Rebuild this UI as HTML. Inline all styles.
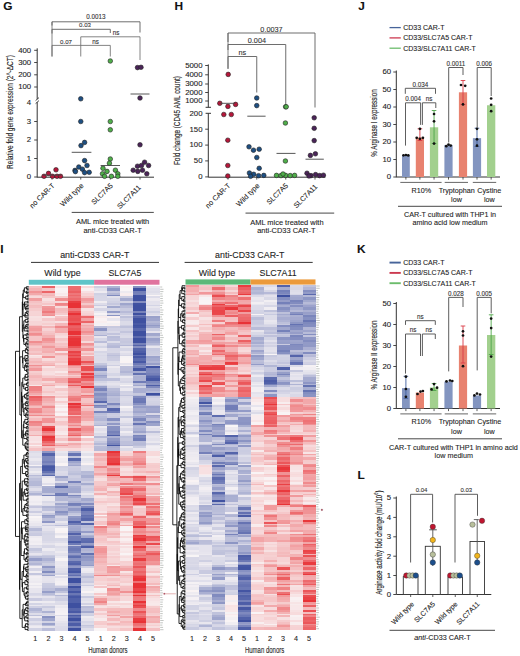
<!DOCTYPE html>
<html><head><meta charset="utf-8"><style>
html,body{margin:0;padding:0;background:#fff;}
body{width:520px;height:656px;overflow:hidden;}
svg{display:block;}
text{font-family:"Liberation Sans", sans-serif;stroke:#333;stroke-width:0.1px;paint-order:stroke;}
</style></head><body>
<svg width="520" height="656" viewBox="0 0 520 656">
<rect width="520" height="656" fill="#fff"/>
<text x="0" y="0" font-size="10.6" font-weight="bold" fill="#111" stroke="#111" stroke-width="0.25" transform="translate(3.3 9.6) scale(1.12 1)">G</text>
<text x="0" y="0" font-size="10.6" font-weight="bold" fill="#111" stroke="#111" stroke-width="0.25" transform="translate(174.4 9.5) scale(1.12 1)">H</text>
<text x="0" y="0" font-size="10.6" font-weight="bold" fill="#111" stroke="#111" stroke-width="0.25" transform="translate(358.2 9.5) scale(1.12 1)">J</text>
<text x="0" y="0" font-size="10.6" font-weight="bold" fill="#111" stroke="#111" stroke-width="0.25" transform="translate(0.2 252.7) scale(1.12 1)">I</text>
<text x="0" y="0" font-size="10.6" font-weight="bold" fill="#111" stroke="#111" stroke-width="0.25" transform="translate(357 252.7) scale(1.12 1)">K</text>
<text x="0" y="0" font-size="10.6" font-weight="bold" fill="#111" stroke="#111" stroke-width="0.25" transform="translate(357.6 478.6) scale(1.12 1)">L</text>
<line x1="37.2" y1="48.3" x2="37.2" y2="99.2" stroke="#333" stroke-width="1"/>
<line x1="37.2" y1="102.2" x2="37.2" y2="177.5" stroke="#333" stroke-width="1"/>
<line x1="35.6" y1="100.6" x2="39" y2="97.6" stroke="#333" stroke-width="0.9"/>
<line x1="35.6" y1="103.6" x2="39" y2="100.6" stroke="#333" stroke-width="0.9"/>
<line x1="34.2" y1="50.3" x2="37.2" y2="50.3" stroke="#333" stroke-width="0.9"/>
<text x="0" y="0" font-size="6.4" text-anchor="end" font-weight="normal" fill="#222" transform="translate(31.2 52.6) scale(1.22 1)">400</text>
<line x1="34.2" y1="62.5" x2="37.2" y2="62.5" stroke="#333" stroke-width="0.9"/>
<text x="0" y="0" font-size="6.4" text-anchor="end" font-weight="normal" fill="#222" transform="translate(31.2 64.8) scale(1.22 1)">300</text>
<line x1="34.2" y1="74.8" x2="37.2" y2="74.8" stroke="#333" stroke-width="0.9"/>
<text x="0" y="0" font-size="6.4" text-anchor="end" font-weight="normal" fill="#222" transform="translate(31.2 77.1) scale(1.22 1)">200</text>
<line x1="34.2" y1="87" x2="37.2" y2="87" stroke="#333" stroke-width="0.9"/>
<text x="0" y="0" font-size="6.4" text-anchor="end" font-weight="normal" fill="#222" transform="translate(31.2 89.3) scale(1.22 1)">100</text>
<line x1="34.2" y1="121.5" x2="37.2" y2="121.5" stroke="#333" stroke-width="0.9"/>
<text x="0" y="0" font-size="6.4" text-anchor="end" font-weight="normal" fill="#222" transform="translate(31.2 123.8) scale(1.22 1)">3</text>
<line x1="34.2" y1="140" x2="37.2" y2="140" stroke="#333" stroke-width="0.9"/>
<text x="0" y="0" font-size="6.4" text-anchor="end" font-weight="normal" fill="#222" transform="translate(31.2 142.3) scale(1.22 1)">2</text>
<line x1="34.2" y1="158.5" x2="37.2" y2="158.5" stroke="#333" stroke-width="0.9"/>
<text x="0" y="0" font-size="6.4" text-anchor="end" font-weight="normal" fill="#222" transform="translate(31.2 160.8) scale(1.22 1)">1</text>
<line x1="34.2" y1="177" x2="37.2" y2="177" stroke="#333" stroke-width="0.9"/>
<text x="0" y="0" font-size="6.4" text-anchor="end" font-weight="normal" fill="#222" transform="translate(31.2 179.3) scale(1.22 1)">0</text>
<text x="0" y="0" font-size="6.4" text-anchor="end" font-weight="normal" fill="#222" transform="translate(31.2 105.1) scale(1.22 1)">4</text>
<line x1="37.2" y1="177.2" x2="154" y2="177.2" stroke="#333" stroke-width="1"/>
<line x1="52" y1="177.2" x2="52" y2="179.6" stroke="#333" stroke-width="0.8"/>
<line x1="80.75" y1="177.2" x2="80.75" y2="179.6" stroke="#333" stroke-width="0.8"/>
<line x1="110.3" y1="177.2" x2="110.3" y2="179.6" stroke="#333" stroke-width="0.8"/>
<line x1="140" y1="177.2" x2="140" y2="179.6" stroke="#333" stroke-width="0.8"/>
<text x="0" y="0" font-size="6.55" text-anchor="middle" fill="#222" transform="translate(13.1 112) rotate(-90) scale(1 1.4)">Relative fold gene expression (2^-ΔCT)</text>
<polyline points="52,25.5 52,21.8 140,21.8 140,32.5" fill="none" stroke="#666" stroke-width="0.95"/>
<text x="96" y="19.47" font-size="6.3" text-anchor="middle" font-weight="normal" fill="#333">0.0013</text>
<polyline points="52,33.5 52,29.3 110.3,29.3 110.3,33" fill="none" stroke="#666" stroke-width="0.95"/>
<text x="85" y="27.4" font-size="6.1" text-anchor="middle" font-weight="normal" fill="#333">0.03</text>
<polyline points="80.75,45.4 80.75,36.8 140,36.8 140,60" fill="none" stroke="#666" stroke-width="0.8"/>
<text x="116" y="35.47" font-size="6.3" text-anchor="middle" font-weight="normal" fill="#333">ns</text>
<polyline points="52,56.5 52,45.4 110.3,45.4 110.3,56.5" fill="none" stroke="#666" stroke-width="0.8"/>
<line x1="80.75" y1="45.4" x2="80.75" y2="56.5" stroke="#666" stroke-width="0.8"/>
<text x="66" y="43.8" font-size="6.1" text-anchor="middle" font-weight="normal" fill="#333">0.07</text>
<text x="95.5" y="43.87" font-size="6.3" text-anchor="middle" font-weight="normal" fill="#333">ns</text>
<line x1="52" y1="21.8" x2="52" y2="56.5" stroke="#666" stroke-width="0.8"/>
<circle cx="44" cy="176.3" r="2.3" fill="#b5173a" stroke="#222" stroke-width="0.6"/>
<circle cx="48.5" cy="173.4" r="2.3" fill="#b5173a" stroke="#222" stroke-width="0.6"/>
<circle cx="52.5" cy="176.3" r="2.3" fill="#b5173a" stroke="#222" stroke-width="0.6"/>
<circle cx="56" cy="169.8" r="2.3" fill="#b5173a" stroke="#222" stroke-width="0.6"/>
<circle cx="57" cy="176.3" r="2.3" fill="#b5173a" stroke="#222" stroke-width="0.6"/>
<circle cx="60.5" cy="176.3" r="2.3" fill="#b5173a" stroke="#222" stroke-width="0.6"/>
<circle cx="80.75" cy="98.8" r="2.3" fill="#1e4f82" stroke="#222" stroke-width="0.6"/>
<circle cx="80.75" cy="121.5" r="2.3" fill="#1e4f82" stroke="#222" stroke-width="0.6"/>
<circle cx="84.6" cy="142.4" r="2.3" fill="#1e4f82" stroke="#222" stroke-width="0.6"/>
<circle cx="81" cy="145.6" r="2.3" fill="#1e4f82" stroke="#222" stroke-width="0.6"/>
<circle cx="84.6" cy="160.6" r="2.3" fill="#1e4f82" stroke="#222" stroke-width="0.6"/>
<circle cx="75" cy="170.4" r="2.3" fill="#1e4f82" stroke="#222" stroke-width="0.6"/>
<circle cx="78.8" cy="167" r="2.3" fill="#1e4f82" stroke="#222" stroke-width="0.6"/>
<circle cx="82.4" cy="169.2" r="2.3" fill="#1e4f82" stroke="#222" stroke-width="0.6"/>
<circle cx="87" cy="165.5" r="2.3" fill="#1e4f82" stroke="#222" stroke-width="0.6"/>
<circle cx="89.2" cy="172.3" r="2.3" fill="#1e4f82" stroke="#222" stroke-width="0.6"/>
<circle cx="84.6" cy="172.6" r="2.3" fill="#1e4f82" stroke="#222" stroke-width="0.6"/>
<circle cx="75.4" cy="171.6" r="2.3" fill="#1e4f82" stroke="#222" stroke-width="0.6"/>
<circle cx="110.3" cy="61" r="2.3" fill="#4fae4a" stroke="#222" stroke-width="0.6"/>
<circle cx="110.3" cy="121.5" r="2.3" fill="#4fae4a" stroke="#222" stroke-width="0.6"/>
<circle cx="110.3" cy="129.8" r="2.3" fill="#4fae4a" stroke="#222" stroke-width="0.6"/>
<circle cx="110.3" cy="159" r="2.3" fill="#4fae4a" stroke="#222" stroke-width="0.6"/>
<circle cx="109.4" cy="163.2" r="2.3" fill="#4fae4a" stroke="#222" stroke-width="0.6"/>
<circle cx="103" cy="168.3" r="2.3" fill="#4fae4a" stroke="#222" stroke-width="0.6"/>
<circle cx="107" cy="171.4" r="2.3" fill="#4fae4a" stroke="#222" stroke-width="0.6"/>
<circle cx="102.5" cy="173.8" r="2.3" fill="#4fae4a" stroke="#222" stroke-width="0.6"/>
<circle cx="115.4" cy="170.2" r="2.3" fill="#4fae4a" stroke="#222" stroke-width="0.6"/>
<circle cx="117.8" cy="173.8" r="2.3" fill="#4fae4a" stroke="#222" stroke-width="0.6"/>
<circle cx="104.6" cy="176.3" r="2.3" fill="#4fae4a" stroke="#222" stroke-width="0.6"/>
<circle cx="111.4" cy="176.3" r="2.3" fill="#4fae4a" stroke="#222" stroke-width="0.6"/>
<circle cx="117.8" cy="176.3" r="2.3" fill="#4fae4a" stroke="#222" stroke-width="0.6"/>
<circle cx="137.5" cy="67.6" r="2.3" fill="#4a2458" stroke="#222" stroke-width="0.6"/>
<circle cx="141" cy="67.3" r="2.3" fill="#4a2458" stroke="#222" stroke-width="0.6"/>
<circle cx="140" cy="98" r="2.3" fill="#4a2458" stroke="#222" stroke-width="0.6"/>
<circle cx="140" cy="144.8" r="2.3" fill="#4a2458" stroke="#222" stroke-width="0.6"/>
<circle cx="133.2" cy="170.2" r="2.3" fill="#4a2458" stroke="#222" stroke-width="0.6"/>
<circle cx="137.5" cy="166.2" r="2.3" fill="#4a2458" stroke="#222" stroke-width="0.6"/>
<circle cx="141.5" cy="165.5" r="2.3" fill="#4a2458" stroke="#222" stroke-width="0.6"/>
<circle cx="144.6" cy="162.2" r="2.3" fill="#4a2458" stroke="#222" stroke-width="0.6"/>
<circle cx="148.6" cy="165.5" r="2.3" fill="#4a2458" stroke="#222" stroke-width="0.6"/>
<circle cx="142.5" cy="170.2" r="2.3" fill="#4a2458" stroke="#222" stroke-width="0.6"/>
<circle cx="146.8" cy="173.8" r="2.3" fill="#4a2458" stroke="#222" stroke-width="0.6"/>
<circle cx="137.8" cy="171.4" r="2.3" fill="#4a2458" stroke="#222" stroke-width="0.6"/>
<line x1="71.7" y1="152.3" x2="91.4" y2="152.3" stroke="#444" stroke-width="0.9"/>
<line x1="100.6" y1="165.5" x2="120" y2="165.5" stroke="#444" stroke-width="0.9"/>
<line x1="130.5" y1="94" x2="149.5" y2="94" stroke="#444" stroke-width="0.9"/>
<line x1="43" y1="175.2" x2="61.5" y2="175.2" stroke="#444" stroke-width="0.9"/>
<text x="0" y="0" font-size="7.2" text-anchor="end" font-weight="normal" fill="#222" transform="translate(55 186.09) rotate(-45)">no CAR-T</text>
<text x="0" y="0" font-size="7.2" text-anchor="end" font-weight="normal" fill="#222" transform="translate(84 186.09) rotate(-45)">Wild type</text>
<text x="0" y="0" font-size="7.2" text-anchor="end" font-weight="normal" fill="#222" transform="translate(113.3 186.09) rotate(-45)">SLC7A5</text>
<text x="0" y="0" font-size="7.2" text-anchor="end" font-weight="normal" fill="#222" transform="translate(141.3 187.89) rotate(-45)">SLC7A11</text>
<line x1="71.7" y1="212.4" x2="153.8" y2="212.4" stroke="#333" stroke-width="0.9"/>
<text x="112.6" y="223.78" font-size="7.45" text-anchor="middle" font-weight="normal" fill="#222">AML mice treated with</text>
<text x="112.6" y="232.88" font-size="7.45" text-anchor="middle" font-weight="normal" fill="#222">anti-CD33 CAR-T</text>
<line x1="208.3" y1="64.4" x2="208.3" y2="107.3" stroke="#333" stroke-width="1"/>
<line x1="205.6" y1="107.3" x2="211" y2="107.3" stroke="#333" stroke-width="1"/>
<line x1="208.3" y1="113.3" x2="208.3" y2="177.3" stroke="#333" stroke-width="1"/>
<line x1="205.6" y1="113.3" x2="211" y2="113.3" stroke="#333" stroke-width="1"/>
<line x1="205.2" y1="65.5" x2="208.3" y2="65.5" stroke="#333" stroke-width="0.9"/>
<text x="0" y="0" font-size="6.4" text-anchor="end" font-weight="normal" fill="#222" transform="translate(202.5 67.8) scale(1.22 1)">5000</text>
<line x1="205.2" y1="74.8" x2="208.3" y2="74.8" stroke="#333" stroke-width="0.9"/>
<text x="0" y="0" font-size="6.4" text-anchor="end" font-weight="normal" fill="#222" transform="translate(202.5 77.1) scale(1.22 1)">4000</text>
<line x1="205.2" y1="84" x2="208.3" y2="84" stroke="#333" stroke-width="0.9"/>
<text x="0" y="0" font-size="6.4" text-anchor="end" font-weight="normal" fill="#222" transform="translate(202.5 86.3) scale(1.22 1)">3000</text>
<line x1="205.2" y1="92.5" x2="208.3" y2="92.5" stroke="#333" stroke-width="0.9"/>
<text x="0" y="0" font-size="6.4" text-anchor="end" font-weight="normal" fill="#222" transform="translate(202.5 94.8) scale(1.22 1)">2000</text>
<line x1="205.2" y1="101" x2="208.3" y2="101" stroke="#333" stroke-width="0.9"/>
<text x="0" y="0" font-size="6.4" text-anchor="end" font-weight="normal" fill="#222" transform="translate(202.5 103.3) scale(1.22 1)">1000</text>
<line x1="205.2" y1="129.2" x2="208.3" y2="129.2" stroke="#333" stroke-width="0.9"/>
<text x="0" y="0" font-size="6.4" text-anchor="end" font-weight="normal" fill="#222" transform="translate(202.5 131.5) scale(1.22 1)">150</text>
<line x1="205.2" y1="145.1" x2="208.3" y2="145.1" stroke="#333" stroke-width="0.9"/>
<text x="0" y="0" font-size="6.4" text-anchor="end" font-weight="normal" fill="#222" transform="translate(202.5 147.4) scale(1.22 1)">100</text>
<line x1="205.2" y1="160.9" x2="208.3" y2="160.9" stroke="#333" stroke-width="0.9"/>
<text x="0" y="0" font-size="6.4" text-anchor="end" font-weight="normal" fill="#222" transform="translate(202.5 163.2) scale(1.22 1)">50</text>
<line x1="205.2" y1="176.9" x2="208.3" y2="176.9" stroke="#333" stroke-width="0.9"/>
<text x="0" y="0" font-size="6.4" text-anchor="end" font-weight="normal" fill="#222" transform="translate(202.5 179.2) scale(1.22 1)">0</text>
<text x="0" y="0" font-size="6.4" text-anchor="end" font-weight="normal" fill="#222" transform="translate(202.5 116) scale(1.22 1)">200</text>
<line x1="208.3" y1="177.2" x2="325.4" y2="177.2" stroke="#333" stroke-width="1"/>
<line x1="228" y1="177.2" x2="228" y2="179.6" stroke="#333" stroke-width="0.8"/>
<line x1="256.75" y1="177.2" x2="256.75" y2="179.6" stroke="#333" stroke-width="0.8"/>
<line x1="285.75" y1="177.2" x2="285.75" y2="179.6" stroke="#333" stroke-width="0.8"/>
<line x1="315" y1="177.2" x2="315" y2="179.6" stroke="#333" stroke-width="0.8"/>
<text x="0" y="0" font-size="6.37" text-anchor="middle" fill="#222" transform="translate(180.2 120.6) rotate(-90) scale(1 1.42)">Fold change (CD45 AML count)</text>
<polyline points="228,42 228,33 315,33 315,107.5" fill="none" stroke="#666" stroke-width="0.95"/>
<text x="271.5" y="31.63" font-size="7.3" text-anchor="middle" font-weight="normal" fill="#333">0.0037</text>
<polyline points="228,50 228,44.5 285.75,44.5 285.75,105" fill="none" stroke="#666" stroke-width="0.95"/>
<text x="256.88" y="43.43" font-size="7.3" text-anchor="middle" font-weight="normal" fill="#333">0.004</text>
<polyline points="228,68.8 228,56.5 256.75,56.5 256.75,92.5" fill="none" stroke="#666" stroke-width="0.95"/>
<text x="242.38" y="55.43" font-size="7.3" text-anchor="middle" font-weight="normal" fill="#333">ns</text>
<line x1="228" y1="33" x2="228" y2="68.8" stroke="#666" stroke-width="0.8"/>
<circle cx="228.2" cy="74.4" r="2.3" fill="#b5173a" stroke="#222" stroke-width="0.6"/>
<circle cx="219.8" cy="103.3" r="2.3" fill="#b5173a" stroke="#222" stroke-width="0.6"/>
<circle cx="227.9" cy="106.4" r="2.3" fill="#b5173a" stroke="#222" stroke-width="0.6"/>
<circle cx="235.6" cy="104.4" r="2.3" fill="#b5173a" stroke="#222" stroke-width="0.6"/>
<circle cx="223.8" cy="114.5" r="2.3" fill="#b5173a" stroke="#222" stroke-width="0.6"/>
<circle cx="231.3" cy="114.5" r="2.3" fill="#b5173a" stroke="#222" stroke-width="0.6"/>
<circle cx="227.8" cy="140.2" r="2.3" fill="#b5173a" stroke="#222" stroke-width="0.6"/>
<circle cx="227.8" cy="165.5" r="2.3" fill="#b5173a" stroke="#222" stroke-width="0.6"/>
<circle cx="227.8" cy="176" r="2.3" fill="#b5173a" stroke="#222" stroke-width="0.6"/>
<circle cx="256.75" cy="98" r="2.3" fill="#1e4f82" stroke="#222" stroke-width="0.6"/>
<circle cx="256.75" cy="105.6" r="2.3" fill="#1e4f82" stroke="#222" stroke-width="0.6"/>
<circle cx="249" cy="146.8" r="2.3" fill="#1e4f82" stroke="#222" stroke-width="0.6"/>
<circle cx="253.5" cy="150.2" r="2.3" fill="#1e4f82" stroke="#222" stroke-width="0.6"/>
<circle cx="259.2" cy="149.2" r="2.3" fill="#1e4f82" stroke="#222" stroke-width="0.6"/>
<circle cx="256.8" cy="157.5" r="2.3" fill="#1e4f82" stroke="#222" stroke-width="0.6"/>
<circle cx="259.2" cy="168.3" r="2.3" fill="#1e4f82" stroke="#222" stroke-width="0.6"/>
<circle cx="249.4" cy="173" r="2.3" fill="#1e4f82" stroke="#222" stroke-width="0.6"/>
<circle cx="253.7" cy="174.3" r="2.3" fill="#1e4f82" stroke="#222" stroke-width="0.6"/>
<circle cx="258.6" cy="175.7" r="2.3" fill="#1e4f82" stroke="#222" stroke-width="0.6"/>
<circle cx="263.8" cy="175.4" r="2.3" fill="#1e4f82" stroke="#222" stroke-width="0.6"/>
<circle cx="250.6" cy="176.3" r="2.3" fill="#1e4f82" stroke="#222" stroke-width="0.6"/>
<circle cx="285.6" cy="106.8" r="2.3" fill="#4fae4a" stroke="#222" stroke-width="0.6"/>
<circle cx="286.2" cy="106.8" r="2.3" fill="#4fae4a" stroke="#222" stroke-width="0.6"/>
<circle cx="285.4" cy="123" r="2.3" fill="#4fae4a" stroke="#222" stroke-width="0.6"/>
<circle cx="285.4" cy="161" r="2.3" fill="#4fae4a" stroke="#222" stroke-width="0.6"/>
<circle cx="276.5" cy="175.4" r="2.3" fill="#4fae4a" stroke="#222" stroke-width="0.6"/>
<circle cx="281" cy="175.6" r="2.3" fill="#4fae4a" stroke="#222" stroke-width="0.6"/>
<circle cx="285.6" cy="175.4" r="2.3" fill="#4fae4a" stroke="#222" stroke-width="0.6"/>
<circle cx="290.2" cy="175.6" r="2.3" fill="#4fae4a" stroke="#222" stroke-width="0.6"/>
<circle cx="294.6" cy="175.4" r="2.3" fill="#4fae4a" stroke="#222" stroke-width="0.6"/>
<circle cx="283" cy="174" r="2.3" fill="#4fae4a" stroke="#222" stroke-width="0.6"/>
<circle cx="314.2" cy="117.8" r="2.3" fill="#4a2458" stroke="#222" stroke-width="0.6"/>
<circle cx="314.2" cy="128.3" r="2.3" fill="#4a2458" stroke="#222" stroke-width="0.6"/>
<circle cx="314.2" cy="140.6" r="2.3" fill="#4a2458" stroke="#222" stroke-width="0.6"/>
<circle cx="315.4" cy="153.8" r="2.3" fill="#4a2458" stroke="#222" stroke-width="0.6"/>
<circle cx="310.4" cy="155.4" r="2.3" fill="#4a2458" stroke="#222" stroke-width="0.6"/>
<circle cx="307" cy="173.2" r="2.3" fill="#4a2458" stroke="#222" stroke-width="0.6"/>
<circle cx="311" cy="175.6" r="2.3" fill="#4a2458" stroke="#222" stroke-width="0.6"/>
<circle cx="315.6" cy="174.6" r="2.3" fill="#4a2458" stroke="#222" stroke-width="0.6"/>
<circle cx="319.6" cy="175.6" r="2.3" fill="#4a2458" stroke="#222" stroke-width="0.6"/>
<circle cx="323.4" cy="175.2" r="2.3" fill="#4a2458" stroke="#222" stroke-width="0.6"/>
<circle cx="309" cy="176" r="2.3" fill="#4a2458" stroke="#222" stroke-width="0.6"/>
<line x1="219.8" y1="103.3" x2="235.4" y2="103.3" stroke="#444" stroke-width="0.9"/>
<line x1="247.3" y1="116.2" x2="265.6" y2="116.2" stroke="#444" stroke-width="0.9"/>
<line x1="276.5" y1="153.4" x2="295.5" y2="153.4" stroke="#444" stroke-width="0.9"/>
<line x1="305.5" y1="159.2" x2="323.8" y2="159.2" stroke="#444" stroke-width="0.9"/>
<text x="0" y="0" font-size="7.2" text-anchor="end" font-weight="normal" fill="#222" transform="translate(230.8 186.09) rotate(-45)">no CAR-T</text>
<text x="0" y="0" font-size="7.2" text-anchor="end" font-weight="normal" fill="#222" transform="translate(260 186.09) rotate(-45)">Wild type</text>
<text x="0" y="0" font-size="7.2" text-anchor="end" font-weight="normal" fill="#222" transform="translate(288.5 186.09) rotate(-45)">SLC7A5</text>
<text x="0" y="0" font-size="7.2" text-anchor="end" font-weight="normal" fill="#222" transform="translate(317.8 187.19) rotate(-45)">SLC7A11</text>
<line x1="245.5" y1="213.1" x2="334.2" y2="213.1" stroke="#333" stroke-width="0.9"/>
<text x="286.9" y="224.88" font-size="7.45" text-anchor="middle" font-weight="normal" fill="#222">AML mice treated with</text>
<text x="286.3" y="233.48" font-size="7.45" text-anchor="middle" font-weight="normal" fill="#222">anti-CD33 CAR-T</text>
<line x1="389.5" y1="27.6" x2="400.8" y2="27.6" stroke="#47649a" stroke-width="1.3"/>
<text x="403.2" y="30.12" font-size="7" text-anchor="start" font-weight="normal" fill="#222">CD33 CAR-T</text>
<line x1="389.5" y1="37.9" x2="400.8" y2="37.9" stroke="#cc3a50" stroke-width="1.3"/>
<text x="403.2" y="40.42" font-size="7" text-anchor="start" font-weight="normal" fill="#222">CD33/SLC7A5 CAR-T</text>
<line x1="389.5" y1="48.2" x2="400.8" y2="48.2" stroke="#6cbc6c" stroke-width="1.3"/>
<text x="403.2" y="50.72" font-size="7" text-anchor="start" font-weight="normal" fill="#222">CD33/SLC7A11 CAR-T</text>
<line x1="396.3" y1="70.5" x2="396.3" y2="177.3" stroke="#333" stroke-width="1"/>
<line x1="393.3" y1="177" x2="396.3" y2="177" stroke="#333" stroke-width="0.9"/>
<text x="0" y="0" font-size="6.4" text-anchor="end" font-weight="normal" fill="#222" transform="translate(391.2 179.3) scale(1.22 1)">0</text>
<line x1="393.3" y1="159.5" x2="396.3" y2="159.5" stroke="#333" stroke-width="0.9"/>
<text x="0" y="0" font-size="6.4" text-anchor="end" font-weight="normal" fill="#222" transform="translate(391.2 161.8) scale(1.22 1)">10</text>
<line x1="393.3" y1="142" x2="396.3" y2="142" stroke="#333" stroke-width="0.9"/>
<text x="0" y="0" font-size="6.4" text-anchor="end" font-weight="normal" fill="#222" transform="translate(391.2 144.3) scale(1.22 1)">20</text>
<line x1="393.3" y1="124.5" x2="396.3" y2="124.5" stroke="#333" stroke-width="0.9"/>
<text x="0" y="0" font-size="6.4" text-anchor="end" font-weight="normal" fill="#222" transform="translate(391.2 126.8) scale(1.22 1)">30</text>
<line x1="393.3" y1="107" x2="396.3" y2="107" stroke="#333" stroke-width="0.9"/>
<text x="0" y="0" font-size="6.4" text-anchor="end" font-weight="normal" fill="#222" transform="translate(391.2 109.3) scale(1.22 1)">40</text>
<line x1="393.3" y1="89.5" x2="396.3" y2="89.5" stroke="#333" stroke-width="0.9"/>
<text x="0" y="0" font-size="6.4" text-anchor="end" font-weight="normal" fill="#222" transform="translate(391.2 91.8) scale(1.22 1)">50</text>
<line x1="393.3" y1="72" x2="396.3" y2="72" stroke="#333" stroke-width="0.9"/>
<text x="0" y="0" font-size="6.4" text-anchor="end" font-weight="normal" fill="#222" transform="translate(391.2 74.3) scale(1.22 1)">60</text>
<line x1="396.3" y1="177" x2="500" y2="177" stroke="#333" stroke-width="1"/>
<line x1="405.9" y1="177" x2="405.9" y2="179.6" stroke="#333" stroke-width="0.8"/>
<line x1="419.9" y1="177" x2="419.9" y2="179.6" stroke="#333" stroke-width="0.8"/>
<line x1="434.05" y1="177" x2="434.05" y2="179.6" stroke="#333" stroke-width="0.8"/>
<line x1="448.5" y1="177" x2="448.5" y2="179.6" stroke="#333" stroke-width="0.8"/>
<line x1="463" y1="177" x2="463" y2="179.6" stroke="#333" stroke-width="0.8"/>
<line x1="477" y1="177" x2="477" y2="179.6" stroke="#333" stroke-width="0.8"/>
<line x1="491.15" y1="177" x2="491.15" y2="179.6" stroke="#333" stroke-width="0.8"/>
<rect x="402" y="155.12" width="7.8" height="21.88" fill="#8395c0"/>
<circle cx="403.5" cy="155.3" r="1.35" fill="#111"/>
<circle cx="405.9" cy="155" r="1.35" fill="#111"/>
<circle cx="408.3" cy="155.4" r="1.35" fill="#111"/>
<rect x="415.8" y="137.62" width="8.2" height="39.38" fill="#e8826f"/>
<line x1="419.9" y1="128.8" x2="419.9" y2="140.5" stroke="#d93a45" stroke-width="0.9"/>
<line x1="417.6" y1="128.8" x2="422.2" y2="128.8" stroke="#d93a45" stroke-width="0.9"/>
<line x1="417.6" y1="140.5" x2="422.2" y2="140.5" stroke="#d93a45" stroke-width="0.9"/>
<circle cx="419.9" cy="128.8" r="1.35" fill="#111"/>
<circle cx="416.7" cy="137.8" r="1.35" fill="#111"/>
<circle cx="419.9" cy="138.8" r="1.35" fill="#111"/>
<circle cx="422.9" cy="137.8" r="1.35" fill="#111"/>
<rect x="429.9" y="127.3" width="8.3" height="49.7" fill="#a2d08e"/>
<line x1="434.05" y1="110.5" x2="434.05" y2="143.5" stroke="#4ea64a" stroke-width="0.9"/>
<line x1="431.75" y1="110.5" x2="436.35" y2="110.5" stroke="#4ea64a" stroke-width="0.9"/>
<line x1="431.75" y1="143.5" x2="436.35" y2="143.5" stroke="#4ea64a" stroke-width="0.9"/>
<circle cx="434.05" cy="114" r="1.35" fill="#111"/>
<circle cx="434.05" cy="121.3" r="1.35" fill="#111"/>
<circle cx="434.05" cy="143.6" r="1.35" fill="#111"/>
<rect x="444.4" y="144.97" width="8.2" height="32.03" fill="#8395c0"/>
<circle cx="446.3" cy="146.2" r="1.35" fill="#111"/>
<circle cx="448.5" cy="144.6" r="1.35" fill="#111"/>
<circle cx="450.7" cy="145.6" r="1.35" fill="#111"/>
<rect x="458.9" y="92.3" width="8.2" height="84.7" fill="#e8826f"/>
<line x1="463" y1="80.5" x2="463" y2="104.5" stroke="#d93a45" stroke-width="0.9"/>
<line x1="460.7" y1="80.5" x2="465.3" y2="80.5" stroke="#d93a45" stroke-width="0.9"/>
<line x1="460.7" y1="104.5" x2="465.3" y2="104.5" stroke="#d93a45" stroke-width="0.9"/>
<circle cx="461" cy="85" r="1.35" fill="#111"/>
<circle cx="465.2" cy="85.8" r="1.35" fill="#111"/>
<circle cx="463" cy="104.4" r="1.35" fill="#111"/>
<rect x="472.9" y="138.15" width="8.2" height="38.85" fill="#8395c0"/>
<line x1="477" y1="128.2" x2="477" y2="146.5" stroke="#3f5f9e" stroke-width="0.9"/>
<line x1="474.7" y1="128.2" x2="479.3" y2="128.2" stroke="#3f5f9e" stroke-width="0.9"/>
<line x1="474.7" y1="146.5" x2="479.3" y2="146.5" stroke="#3f5f9e" stroke-width="0.9"/>
<circle cx="477" cy="128.8" r="1.35" fill="#111"/>
<circle cx="477" cy="139.3" r="1.35" fill="#111"/>
<circle cx="477" cy="145.7" r="1.35" fill="#111"/>
<rect x="487" y="105.25" width="8.3" height="71.75" fill="#a2d08e"/>
<circle cx="491.15" cy="98.5" r="1.35" fill="#111"/>
<circle cx="491.15" cy="104.8" r="1.35" fill="#111"/>
<circle cx="491.15" cy="111.2" r="1.35" fill="#111"/>
<line x1="400.3" y1="182.4" x2="441.6" y2="182.4" stroke="#666" stroke-width="1"/>
<line x1="444.7" y1="182.4" x2="468" y2="182.4" stroke="#666" stroke-width="1"/>
<line x1="472.8" y1="182.4" x2="496.2" y2="182.4" stroke="#666" stroke-width="1"/>
<polyline points="405.3,93.8 405.3,88.3 435.5,88.3 435.5,93.8" fill="none" stroke="#555" stroke-width="0.95"/>
<text x="420.4" y="86.77" font-size="6.3" text-anchor="middle" font-weight="normal" fill="#333">0.034</text>
<polyline points="405.5,145.6 405.5,102.8 420.6,102.8 420.6,124.9" fill="none" stroke="#555" stroke-width="0.95"/>
<text x="413.05" y="101.27" font-size="6.3" text-anchor="middle" font-weight="normal" fill="#333">0.004</text>
<polyline points="422.4,124.9 422.4,102.8 435.8,102.8 435.8,108" fill="none" stroke="#555" stroke-width="0.95"/>
<text x="429.1" y="101.27" font-size="6.3" text-anchor="middle" font-weight="normal" fill="#333">ns</text>
<polyline points="448.7,142.5 448.7,67.5 463,67.5 463,75" fill="none" stroke="#555" stroke-width="0.95"/>
<text x="455.85" y="65.97" font-size="6.3" text-anchor="middle" font-weight="normal" fill="#333">0.0011</text>
<polyline points="477.2,127.5 477.2,67.5 491.2,67.5 491.2,96" fill="none" stroke="#555" stroke-width="0.95"/>
<text x="484.2" y="65.97" font-size="6.3" text-anchor="middle" font-weight="normal" fill="#333">0.006</text>
<text x="0" y="0" font-size="6.3" text-anchor="middle" fill="#222" transform="translate(377.1 123) rotate(-90) scale(1 1.36)">% Arginase I expression</text>
<text x="421.3" y="192.79" font-size="7.2" text-anchor="middle" font-weight="normal" fill="#222">R10%</text>
<text x="456.7" y="192.79" font-size="7.2" text-anchor="middle" font-weight="normal" fill="#222">Tryptophan</text>
<text x="456.5" y="202.19" font-size="7.2" text-anchor="middle" font-weight="normal" fill="#222">low</text>
<text x="489.3" y="192.79" font-size="7.2" text-anchor="middle" font-weight="normal" fill="#222">Cystine</text>
<text x="489.3" y="202.19" font-size="7.2" text-anchor="middle" font-weight="normal" fill="#222">low</text>
<line x1="398" y1="206.3" x2="502" y2="206.3" stroke="#333" stroke-width="0.9"/>
<text x="450" y="216.59" font-size="7.2" text-anchor="middle" font-weight="normal" fill="#222">CAR-T cultured with THP1 in</text>
<text x="450" y="225.19" font-size="7.2" text-anchor="middle" font-weight="normal" fill="#222">amino acid low medium</text>
<line x1="389.5" y1="262.6" x2="400.8" y2="262.6" stroke="#47649a" stroke-width="1.9"/>
<text x="403.2" y="265.12" font-size="7" text-anchor="start" font-weight="normal" fill="#222">CD33 CAR-T</text>
<line x1="389.5" y1="272.9" x2="400.8" y2="272.9" stroke="#cc3a50" stroke-width="1.9"/>
<text x="403.2" y="275.42" font-size="7" text-anchor="start" font-weight="normal" fill="#222">CD33/SLC7A5 CAR-T</text>
<line x1="389.5" y1="283.2" x2="400.8" y2="283.2" stroke="#6cbc6c" stroke-width="1.9"/>
<text x="403.2" y="285.72" font-size="7" text-anchor="start" font-weight="normal" fill="#222">CD33/SLC7A11 CAR-T</text>
<line x1="396.3" y1="302" x2="396.3" y2="408.8" stroke="#333" stroke-width="1"/>
<line x1="393.3" y1="408.5" x2="396.3" y2="408.5" stroke="#333" stroke-width="0.9"/>
<text x="0" y="0" font-size="6.4" text-anchor="end" font-weight="normal" fill="#222" transform="translate(391.2 410.8) scale(1.22 1)">0</text>
<line x1="393.3" y1="387.5" x2="396.3" y2="387.5" stroke="#333" stroke-width="0.9"/>
<text x="0" y="0" font-size="6.4" text-anchor="end" font-weight="normal" fill="#222" transform="translate(391.2 389.8) scale(1.22 1)">10</text>
<line x1="393.3" y1="366.5" x2="396.3" y2="366.5" stroke="#333" stroke-width="0.9"/>
<text x="0" y="0" font-size="6.4" text-anchor="end" font-weight="normal" fill="#222" transform="translate(391.2 368.8) scale(1.22 1)">20</text>
<line x1="393.3" y1="345.5" x2="396.3" y2="345.5" stroke="#333" stroke-width="0.9"/>
<text x="0" y="0" font-size="6.4" text-anchor="end" font-weight="normal" fill="#222" transform="translate(391.2 347.8) scale(1.22 1)">30</text>
<line x1="393.3" y1="324.5" x2="396.3" y2="324.5" stroke="#333" stroke-width="0.9"/>
<text x="0" y="0" font-size="6.4" text-anchor="end" font-weight="normal" fill="#222" transform="translate(391.2 326.8) scale(1.22 1)">40</text>
<line x1="393.3" y1="303.5" x2="396.3" y2="303.5" stroke="#333" stroke-width="0.9"/>
<text x="0" y="0" font-size="6.4" text-anchor="end" font-weight="normal" fill="#222" transform="translate(391.2 305.8) scale(1.22 1)">50</text>
<line x1="396.3" y1="408.5" x2="500" y2="408.5" stroke="#333" stroke-width="1"/>
<line x1="405.9" y1="408.5" x2="405.9" y2="411.1" stroke="#333" stroke-width="0.8"/>
<line x1="419.9" y1="408.5" x2="419.9" y2="411.1" stroke="#333" stroke-width="0.8"/>
<line x1="434.05" y1="408.5" x2="434.05" y2="411.1" stroke="#333" stroke-width="0.8"/>
<line x1="448.5" y1="408.5" x2="448.5" y2="411.1" stroke="#333" stroke-width="0.8"/>
<line x1="463" y1="408.5" x2="463" y2="411.1" stroke="#333" stroke-width="0.8"/>
<line x1="477" y1="408.5" x2="477" y2="411.1" stroke="#333" stroke-width="0.8"/>
<line x1="491.15" y1="408.5" x2="491.15" y2="411.1" stroke="#333" stroke-width="0.8"/>
<rect x="402" y="388.13" width="7.8" height="20.37" fill="#8395c0"/>
<line x1="405.9" y1="376.3" x2="405.9" y2="398.3" stroke="#3f5f9e" stroke-width="0.9"/>
<line x1="403.6" y1="376.3" x2="408.2" y2="376.3" stroke="#3f5f9e" stroke-width="0.9"/>
<line x1="403.6" y1="398.3" x2="408.2" y2="398.3" stroke="#3f5f9e" stroke-width="0.9"/>
<circle cx="405.9" cy="376.7" r="1.35" fill="#111"/>
<circle cx="405.9" cy="389" r="1.35" fill="#111"/>
<circle cx="405.9" cy="396.8" r="1.35" fill="#111"/>
<rect x="415.8" y="392.54" width="8.2" height="15.96" fill="#e8826f"/>
<circle cx="417.5" cy="394" r="1.35" fill="#111"/>
<circle cx="420.5" cy="391.6" r="1.35" fill="#111"/>
<circle cx="422.9" cy="391" r="1.35" fill="#111"/>
<rect x="429.9" y="387.5" width="8.3" height="21" fill="#a2d08e"/>
<line x1="434.05" y1="383.5" x2="434.05" y2="390.5" stroke="#4ea64a" stroke-width="0.9"/>
<line x1="431.75" y1="383.5" x2="436.35" y2="383.5" stroke="#4ea64a" stroke-width="0.9"/>
<line x1="431.75" y1="390.5" x2="436.35" y2="390.5" stroke="#4ea64a" stroke-width="0.9"/>
<circle cx="431.55" cy="389.4" r="1.35" fill="#111"/>
<circle cx="434.05" cy="384.1" r="1.35" fill="#111"/>
<circle cx="437.05" cy="387.7" r="1.35" fill="#111"/>
<rect x="444.4" y="381.62" width="8.2" height="26.88" fill="#8395c0"/>
<circle cx="446.5" cy="381.4" r="1.35" fill="#111"/>
<circle cx="450" cy="380.5" r="1.35" fill="#111"/>
<circle cx="452.3" cy="381" r="1.35" fill="#111"/>
<rect x="458.9" y="345.5" width="8.2" height="63" fill="#e8826f"/>
<line x1="463" y1="326" x2="463" y2="363" stroke="#d93a45" stroke-width="0.9"/>
<line x1="460.7" y1="326" x2="465.3" y2="326" stroke="#d93a45" stroke-width="0.9"/>
<line x1="460.7" y1="363" x2="465.3" y2="363" stroke="#d93a45" stroke-width="0.9"/>
<circle cx="463" cy="331.3" r="1.35" fill="#111"/>
<circle cx="463" cy="335.5" r="1.35" fill="#111"/>
<circle cx="463" cy="366.2" r="1.35" fill="#111"/>
<rect x="472.9" y="395.48" width="8.2" height="13.02" fill="#8395c0"/>
<circle cx="474.4" cy="395.4" r="1.35" fill="#111"/>
<circle cx="477" cy="393.6" r="1.35" fill="#111"/>
<circle cx="480" cy="394.5" r="1.35" fill="#111"/>
<rect x="487" y="335" width="8.3" height="73.5" fill="#a2d08e"/>
<line x1="491.15" y1="314.8" x2="491.15" y2="354.5" stroke="#4ea64a" stroke-width="0.9"/>
<line x1="488.85" y1="314.8" x2="493.45" y2="314.8" stroke="#4ea64a" stroke-width="0.9"/>
<line x1="488.85" y1="354.5" x2="493.45" y2="354.5" stroke="#4ea64a" stroke-width="0.9"/>
<circle cx="491.15" cy="318.6" r="1.35" fill="#111"/>
<circle cx="491.15" cy="328.1" r="1.35" fill="#111"/>
<circle cx="491.15" cy="356.6" r="1.35" fill="#111"/>
<line x1="400.3" y1="413.9" x2="441.6" y2="413.9" stroke="#666" stroke-width="1"/>
<line x1="444.7" y1="413.9" x2="468" y2="413.9" stroke="#666" stroke-width="1"/>
<line x1="472.8" y1="413.9" x2="496.2" y2="413.9" stroke="#666" stroke-width="1"/>
<polyline points="405.5,324.9 405.5,320.7 435.3,320.7 435.3,324.9" fill="none" stroke="#555" stroke-width="0.95"/>
<text x="420.4" y="319.17" font-size="6.3" text-anchor="middle" font-weight="normal" fill="#333">ns</text>
<polyline points="405.5,373.6 405.5,334 420.5,334 420.5,356" fill="none" stroke="#555" stroke-width="0.95"/>
<text x="413" y="332.47" font-size="6.3" text-anchor="middle" font-weight="normal" fill="#333">ns</text>
<polyline points="422.4,356 422.4,334 435.3,334 435.3,339" fill="none" stroke="#555" stroke-width="0.95"/>
<text x="428.85" y="332.47" font-size="6.3" text-anchor="middle" font-weight="normal" fill="#333">ns</text>
<polyline points="448.7,371.4 448.7,297.4 463,297.4 463,307" fill="none" stroke="#555" stroke-width="0.95"/>
<text x="455.85" y="295.87" font-size="6.3" text-anchor="middle" font-weight="normal" fill="#333">0.028</text>
<polyline points="477.2,370.4 477.2,297.4 491.2,297.4 491.2,313.3" fill="none" stroke="#555" stroke-width="0.95"/>
<text x="484.2" y="295.87" font-size="6.3" text-anchor="middle" font-weight="normal" fill="#333">0.005</text>
<text x="0" y="0" font-size="6.3" text-anchor="middle" fill="#222" transform="translate(377.1 355) rotate(-90) scale(1 1.36)">% Arginase II expression</text>
<text x="421.3" y="423.89" font-size="7.2" text-anchor="middle" font-weight="normal" fill="#222">R10%</text>
<text x="456.7" y="423.89" font-size="7.2" text-anchor="middle" font-weight="normal" fill="#222">Tryptophan</text>
<text x="456.5" y="433.89" font-size="7.2" text-anchor="middle" font-weight="normal" fill="#222">low</text>
<text x="489.3" y="423.89" font-size="7.2" text-anchor="middle" font-weight="normal" fill="#222">Cystine</text>
<text x="489.3" y="433.89" font-size="7.2" text-anchor="middle" font-weight="normal" fill="#222">low</text>
<line x1="398" y1="438.8" x2="502" y2="438.8" stroke="#333" stroke-width="0.9"/>
<text x="453.5" y="449.59" font-size="7.2" text-anchor="middle" font-weight="normal" fill="#222">CAR-T cultured with THP1 in amino acid</text>
<text x="453.8" y="458.19" font-size="7.2" text-anchor="middle" font-weight="normal" fill="#222">low medium</text>
<line x1="396.3" y1="496.5" x2="396.3" y2="594.5" stroke="#333" stroke-width="1"/>
<line x1="393.3" y1="498" x2="396.3" y2="498" stroke="#333" stroke-width="0.9"/>
<text x="0" y="0" font-size="6.4" text-anchor="end" font-weight="normal" fill="#222" transform="translate(391.2 500.3) scale(1.22 1)">5</text>
<line x1="393.3" y1="517.4" x2="396.3" y2="517.4" stroke="#333" stroke-width="0.9"/>
<text x="0" y="0" font-size="6.4" text-anchor="end" font-weight="normal" fill="#222" transform="translate(391.2 519.7) scale(1.22 1)">4</text>
<line x1="393.3" y1="536.8" x2="396.3" y2="536.8" stroke="#333" stroke-width="0.9"/>
<text x="0" y="0" font-size="6.4" text-anchor="end" font-weight="normal" fill="#222" transform="translate(391.2 539.1) scale(1.22 1)">3</text>
<line x1="393.3" y1="556.2" x2="396.3" y2="556.2" stroke="#333" stroke-width="0.9"/>
<text x="0" y="0" font-size="6.4" text-anchor="end" font-weight="normal" fill="#222" transform="translate(391.2 558.5) scale(1.22 1)">2</text>
<line x1="393.3" y1="575.5" x2="396.3" y2="575.5" stroke="#333" stroke-width="0.9"/>
<text x="0" y="0" font-size="6.4" text-anchor="end" font-weight="normal" fill="#222" transform="translate(391.2 577.8) scale(1.22 1)">1</text>
<line x1="393.3" y1="594.5" x2="396.3" y2="594.5" stroke="#333" stroke-width="0.9"/>
<text x="0" y="0" font-size="6.4" text-anchor="end" font-weight="normal" fill="#222" transform="translate(391.2 596.8) scale(1.22 1)">0</text>
<line x1="396.3" y1="594.5" x2="491.3" y2="594.5" stroke="#333" stroke-width="1"/>
<rect x="403.3" y="576.6" width="14.7" height="17.9" fill="#fff" stroke="#333" stroke-width="0.9"/>
<line x1="410.65" y1="594.5" x2="410.65" y2="597" stroke="#333" stroke-width="0.8"/>
<rect x="425.3" y="546.3" width="15" height="48.2" fill="#fff" stroke="#333" stroke-width="0.9"/>
<line x1="432.8" y1="594.5" x2="432.8" y2="597" stroke="#333" stroke-width="0.8"/>
<rect x="448" y="577" width="14.5" height="17.5" fill="#fff" stroke="#333" stroke-width="0.9"/>
<line x1="455.25" y1="594.5" x2="455.25" y2="597" stroke="#333" stroke-width="0.8"/>
<rect x="470" y="541.5" width="14.5" height="53" fill="#fff" stroke="#333" stroke-width="0.9"/>
<line x1="477.25" y1="594.5" x2="477.25" y2="597" stroke="#333" stroke-width="0.8"/>
<line x1="432.8" y1="529.8" x2="432.8" y2="566" stroke="#555" stroke-width="0.9"/>
<line x1="429.2" y1="529.8" x2="436.8" y2="529.8" stroke="#555" stroke-width="1"/>
<line x1="477.2" y1="519.6" x2="477.2" y2="563" stroke="#555" stroke-width="0.9"/>
<line x1="473.8" y1="519.6" x2="478.8" y2="519.6" stroke="#555" stroke-width="0.9"/>
<polyline points="410.6,562.5 410.6,494.3 432.6,494.3 432.6,522.5" fill="none" stroke="#555" stroke-width="0.95"/>
<text x="421.6" y="492.16" font-size="6" text-anchor="middle" font-weight="normal" fill="#333">0.04</text>
<polyline points="455,562.5 455,494.3 477.5,494.3 477.5,515.8" fill="none" stroke="#555" stroke-width="0.95"/>
<text x="466.25" y="492.16" font-size="6" text-anchor="middle" font-weight="normal" fill="#333">0.03</text>
<circle cx="406.3" cy="575.5" r="2.7" fill="#c0152f" stroke="#333" stroke-width="0.4"/>
<circle cx="409.5" cy="575.5" r="2.7" fill="#b8bf9c" stroke="#333" stroke-width="0.4"/>
<circle cx="412.7" cy="575.5" r="2.7" fill="#b8bf9c" stroke="#333" stroke-width="0.4"/>
<circle cx="415.8" cy="575.5" r="2.7" fill="#1c4f8c" stroke="#333" stroke-width="0.4"/>
<circle cx="450.2" cy="575.5" r="2.7" fill="#c0152f" stroke="#333" stroke-width="0.4"/>
<circle cx="453.4" cy="575.5" r="2.7" fill="#b8bf9c" stroke="#333" stroke-width="0.4"/>
<circle cx="456.6" cy="575.5" r="2.7" fill="#b8bf9c" stroke="#333" stroke-width="0.4"/>
<circle cx="459.8" cy="575.5" r="2.7" fill="#1c4f8c" stroke="#333" stroke-width="0.4"/>
<circle cx="432.8" cy="526.8" r="2.7" fill="#c0152f" stroke="#333" stroke-width="0.4"/>
<circle cx="432.8" cy="540" r="2.7" fill="#f2b51c" stroke="#333" stroke-width="0.4"/>
<circle cx="432.8" cy="554.5" r="2.7" fill="#b8bf9c" stroke="#333" stroke-width="0.4"/>
<circle cx="432.8" cy="562.5" r="2.7" fill="#1c4f8c" stroke="#333" stroke-width="0.4"/>
<circle cx="482" cy="520.8" r="2.7" fill="#c0152f" stroke="#333" stroke-width="0.4"/>
<circle cx="472.5" cy="524.6" r="2.7" fill="#b8bf9c" stroke="#333" stroke-width="0.4"/>
<circle cx="477.2" cy="555.8" r="2.7" fill="#f2b51c" stroke="#333" stroke-width="0.4"/>
<circle cx="477.2" cy="562.5" r="2.7" fill="#1c4f8c" stroke="#333" stroke-width="0.4"/>
<text x="0" y="0" font-size="6.15" text-anchor="middle" fill="#222" transform="translate(381.8 542.6) rotate(-90) scale(1 1.45)">Arginase activity fold change (mU/10<tspan font-size="4.0" dy="-2.4">6</tspan><tspan dy="2.4">)</tspan></text>
<text x="0" y="0" font-size="7" text-anchor="end" font-weight="normal" fill="#222" transform="translate(414.5 604.52) rotate(-45)">Wild type</text>
<text x="0" y="0" font-size="7" text-anchor="end" font-weight="normal" fill="#222" transform="translate(435.5 604.52) rotate(-45)">SLC7A5</text>
<text x="0" y="0" font-size="7" text-anchor="end" font-weight="normal" fill="#222" transform="translate(458 604.52) rotate(-45)">Wild type</text>
<text x="0" y="0" font-size="7" text-anchor="end" font-weight="normal" fill="#222" transform="translate(480 604.52) rotate(-45)">SLC7A11</text>
<line x1="389.5" y1="630.3" x2="495" y2="630.3" stroke="#333" stroke-width="0.9"/>
<text x="442.5" y="639.99" font-size="7.2" text-anchor="middle" font-weight="normal" fill="#222"><tspan font-style="italic">anti</tspan>-CD33 CAR-T</text>
<g shape-rendering="crispEdges"><rect x="28.8" y="286" width="13.12" height="2.35" fill="#f5c2c4"/><rect x="41.87" y="286" width="13.12" height="2.35" fill="#ec6467"/><rect x="54.94" y="286" width="13.12" height="2.35" fill="#f8e5e6"/><rect x="68.01" y="286" width="13.12" height="2.35" fill="#ed6c6f"/><rect x="81.08" y="286" width="13.12" height="2.35" fill="#f7d9da"/><rect x="94.15" y="286" width="13.12" height="2.35" fill="#cecfe2"/><rect x="107.22" y="286" width="13.12" height="2.35" fill="#afb4d4"/><rect x="120.29" y="286" width="13.12" height="2.35" fill="#f9f1f2"/><rect x="133.36" y="286" width="13.12" height="2.35" fill="#868fc1"/><rect x="146.43" y="286" width="13.12" height="2.35" fill="#eae8ef"/><rect x="28.8" y="288.3" width="13.12" height="2.35" fill="#f3b5b7"/><rect x="41.87" y="288.3" width="13.12" height="2.35" fill="#f5c6c8"/><rect x="54.94" y="288.3" width="13.12" height="2.35" fill="#f9f2f4"/><rect x="68.01" y="288.3" width="13.12" height="2.35" fill="#ed6b6e"/><rect x="81.08" y="288.3" width="13.12" height="2.35" fill="#f9f0f1"/><rect x="94.15" y="288.3" width="13.12" height="2.35" fill="#e1e0eb"/><rect x="107.22" y="288.3" width="13.12" height="2.35" fill="#8e97c5"/><rect x="120.29" y="288.3" width="13.12" height="2.35" fill="#f9f5f6"/><rect x="133.36" y="288.3" width="13.12" height="2.35" fill="#3e50a0"/><rect x="146.43" y="288.3" width="13.12" height="2.35" fill="#e1e0eb"/><rect x="28.8" y="290.6" width="13.12" height="2.35" fill="#f19496"/><rect x="41.87" y="290.6" width="13.12" height="2.35" fill="#ec6568"/><rect x="54.94" y="290.6" width="13.12" height="2.35" fill="#f9f1f2"/><rect x="68.01" y="290.6" width="13.12" height="2.35" fill="#ec5f62"/><rect x="81.08" y="290.6" width="13.12" height="2.35" fill="#f7e0e2"/><rect x="94.15" y="290.6" width="13.12" height="2.35" fill="#eeebf1"/><rect x="107.22" y="290.6" width="13.12" height="2.35" fill="#c3c5dd"/><rect x="120.29" y="290.6" width="13.12" height="2.35" fill="#edeaf0"/><rect x="133.36" y="290.6" width="13.12" height="2.35" fill="#727eb8"/><rect x="146.43" y="290.6" width="13.12" height="2.35" fill="#dedde9"/><rect x="28.8" y="292.9" width="13.12" height="2.35" fill="#f2a9ab"/><rect x="41.87" y="292.9" width="13.12" height="2.35" fill="#f4bbbd"/><rect x="54.94" y="292.9" width="13.12" height="2.35" fill="#f8e9eb"/><rect x="68.01" y="292.9" width="13.12" height="2.35" fill="#ee777a"/><rect x="81.08" y="292.9" width="13.12" height="2.35" fill="#f6d3d5"/><rect x="94.15" y="292.9" width="13.12" height="2.35" fill="#d0d1e3"/><rect x="107.22" y="292.9" width="13.12" height="2.35" fill="#b4b8d6"/><rect x="120.29" y="292.9" width="13.12" height="2.35" fill="#f8eeef"/><rect x="133.36" y="292.9" width="13.12" height="2.35" fill="#7682ba"/><rect x="146.43" y="292.9" width="13.12" height="2.35" fill="#e4e3ec"/><rect x="28.8" y="295.2" width="13.12" height="0.85" fill="#f5cbcd"/><rect x="41.87" y="295.2" width="13.12" height="0.85" fill="#f3b5b7"/><rect x="54.94" y="295.2" width="13.12" height="0.85" fill="#f8eff0"/><rect x="68.01" y="295.2" width="13.12" height="0.85" fill="#ed686b"/><rect x="81.08" y="295.2" width="13.12" height="0.85" fill="#f6d5d6"/><rect x="94.15" y="295.2" width="13.12" height="0.85" fill="#d4d5e5"/><rect x="107.22" y="295.2" width="13.12" height="0.85" fill="#808bbf"/><rect x="120.29" y="295.2" width="13.12" height="0.85" fill="#f8eced"/><rect x="133.36" y="295.2" width="13.12" height="0.85" fill="#4051a1"/><rect x="146.43" y="295.2" width="13.12" height="0.85" fill="#f9f4f5"/><rect x="28.8" y="296" width="13.12" height="2.35" fill="#f7d9da"/><rect x="41.87" y="296" width="13.12" height="2.35" fill="#f5c6c7"/><rect x="54.94" y="296" width="13.12" height="2.35" fill="#f5cdce"/><rect x="68.01" y="296" width="13.12" height="2.35" fill="#ee777a"/><rect x="81.08" y="296" width="13.12" height="2.35" fill="#f5c5c6"/><rect x="94.15" y="296" width="13.12" height="2.35" fill="#d6d6e6"/><rect x="107.22" y="296" width="13.12" height="2.35" fill="#e1e0eb"/><rect x="120.29" y="296" width="13.12" height="2.35" fill="#cacce1"/><rect x="133.36" y="296" width="13.12" height="2.35" fill="#3e50a0"/><rect x="146.43" y="296" width="13.12" height="2.35" fill="#dddce9"/><rect x="28.8" y="298.3" width="13.12" height="2.35" fill="#f19fa1"/><rect x="41.87" y="298.3" width="13.12" height="2.35" fill="#f7e1e2"/><rect x="54.94" y="298.3" width="13.12" height="2.35" fill="#f08f91"/><rect x="68.01" y="298.3" width="13.12" height="2.35" fill="#ed6a6d"/><rect x="81.08" y="298.3" width="13.12" height="2.35" fill="#f19a9d"/><rect x="94.15" y="298.3" width="13.12" height="2.35" fill="#d7d7e6"/><rect x="107.22" y="298.3" width="13.12" height="2.35" fill="#d5d6e6"/><rect x="120.29" y="298.3" width="13.12" height="2.35" fill="#a5abcf"/><rect x="133.36" y="298.3" width="13.12" height="2.35" fill="#3e50a0"/><rect x="146.43" y="298.3" width="13.12" height="2.35" fill="#edeaf0"/><rect x="28.8" y="300.6" width="13.12" height="2.35" fill="#f5c2c4"/><rect x="41.87" y="300.6" width="13.12" height="2.35" fill="#f6d4d6"/><rect x="54.94" y="300.6" width="13.12" height="2.35" fill="#f6d8d9"/><rect x="68.01" y="300.6" width="13.12" height="2.35" fill="#e93e42"/><rect x="81.08" y="300.6" width="13.12" height="2.35" fill="#f2a9ab"/><rect x="94.15" y="300.6" width="13.12" height="2.35" fill="#efecf1"/><rect x="107.22" y="300.6" width="13.12" height="2.35" fill="#d0d1e3"/><rect x="120.29" y="300.6" width="13.12" height="2.35" fill="#d2d3e4"/><rect x="133.36" y="300.6" width="13.12" height="2.35" fill="#848dc0"/><rect x="146.43" y="300.6" width="13.12" height="2.35" fill="#e3e1ec"/><rect x="28.8" y="302.9" width="13.12" height="2.35" fill="#f5c9ca"/><rect x="41.87" y="302.9" width="13.12" height="2.35" fill="#f5c6c8"/><rect x="54.94" y="302.9" width="13.12" height="2.35" fill="#ef8588"/><rect x="68.01" y="302.9" width="13.12" height="2.35" fill="#e83236"/><rect x="81.08" y="302.9" width="13.12" height="2.35" fill="#f5c8c9"/><rect x="94.15" y="302.9" width="13.12" height="2.35" fill="#dddce9"/><rect x="107.22" y="302.9" width="13.12" height="2.35" fill="#c6c8df"/><rect x="120.29" y="302.9" width="13.12" height="2.35" fill="#9ea5cc"/><rect x="133.36" y="302.9" width="13.12" height="2.35" fill="#4052a1"/><rect x="146.43" y="302.9" width="13.12" height="2.35" fill="#e4e2ec"/><rect x="28.8" y="305.2" width="13.12" height="0.85" fill="#f4bcbd"/><rect x="41.87" y="305.2" width="13.12" height="0.85" fill="#f7dedf"/><rect x="54.94" y="305.2" width="13.12" height="0.85" fill="#f09093"/><rect x="68.01" y="305.2" width="13.12" height="0.85" fill="#e83236"/><rect x="81.08" y="305.2" width="13.12" height="0.85" fill="#f3acae"/><rect x="94.15" y="305.2" width="13.12" height="0.85" fill="#cbcce1"/><rect x="107.22" y="305.2" width="13.12" height="0.85" fill="#d6d6e6"/><rect x="120.29" y="305.2" width="13.12" height="0.85" fill="#b0b5d4"/><rect x="133.36" y="305.2" width="13.12" height="0.85" fill="#3e50a0"/><rect x="146.43" y="305.2" width="13.12" height="0.85" fill="#d3d4e5"/><rect x="28.8" y="306" width="13.12" height="2.35" fill="#f4bec0"/><rect x="41.87" y="306" width="13.12" height="2.35" fill="#f1999b"/><rect x="54.94" y="306" width="13.12" height="2.35" fill="#f7dbdc"/><rect x="68.01" y="306" width="13.12" height="2.35" fill="#e83236"/><rect x="81.08" y="306" width="13.12" height="2.35" fill="#f2a4a6"/><rect x="94.15" y="306" width="13.12" height="2.35" fill="#ebe9f0"/><rect x="107.22" y="306" width="13.12" height="2.35" fill="#a2a9ce"/><rect x="120.29" y="306" width="13.12" height="2.35" fill="#b7bad7"/><rect x="133.36" y="306" width="13.12" height="2.35" fill="#3e50a0"/><rect x="146.43" y="306" width="13.12" height="2.35" fill="#e8e6ee"/><rect x="28.8" y="308.3" width="13.12" height="2.35" fill="#f5cbcc"/><rect x="41.87" y="308.3" width="13.12" height="2.35" fill="#f09295"/><rect x="54.94" y="308.3" width="13.12" height="2.35" fill="#f4babc"/><rect x="68.01" y="308.3" width="13.12" height="2.35" fill="#ee787b"/><rect x="81.08" y="308.3" width="13.12" height="2.35" fill="#f7e2e3"/><rect x="94.15" y="308.3" width="13.12" height="2.35" fill="#d5d5e5"/><rect x="107.22" y="308.3" width="13.12" height="2.35" fill="#d3d4e5"/><rect x="120.29" y="308.3" width="13.12" height="2.35" fill="#c9cbe0"/><rect x="133.36" y="308.3" width="13.12" height="2.35" fill="#3e50a0"/><rect x="146.43" y="308.3" width="13.12" height="2.35" fill="#deddea"/><rect x="28.8" y="310.6" width="13.12" height="2.35" fill="#f6d4d6"/><rect x="41.87" y="310.6" width="13.12" height="2.35" fill="#ee7a7d"/><rect x="54.94" y="310.6" width="13.12" height="2.35" fill="#f4bfc1"/><rect x="68.01" y="310.6" width="13.12" height="2.35" fill="#eb5659"/><rect x="81.08" y="310.6" width="13.12" height="2.35" fill="#f6d7d8"/><rect x="94.15" y="310.6" width="13.12" height="2.35" fill="#ebe9f0"/><rect x="107.22" y="310.6" width="13.12" height="2.35" fill="#949cc8"/><rect x="120.29" y="310.6" width="13.12" height="2.35" fill="#b8bbd8"/><rect x="133.36" y="310.6" width="13.12" height="2.35" fill="#7782ba"/><rect x="146.43" y="310.6" width="13.12" height="2.35" fill="#cdcfe2"/><rect x="28.8" y="312.9" width="13.12" height="2.35" fill="#f6d4d5"/><rect x="41.87" y="312.9" width="13.12" height="2.35" fill="#f1999b"/><rect x="54.94" y="312.9" width="13.12" height="2.35" fill="#f5cacc"/><rect x="68.01" y="312.9" width="13.12" height="2.35" fill="#e83236"/><rect x="81.08" y="312.9" width="13.12" height="2.35" fill="#f6d1d3"/><rect x="94.15" y="312.9" width="13.12" height="2.35" fill="#f7f3f5"/><rect x="107.22" y="312.9" width="13.12" height="2.35" fill="#d8d8e7"/><rect x="120.29" y="312.9" width="13.12" height="2.35" fill="#c9cbe0"/><rect x="133.36" y="312.9" width="13.12" height="2.35" fill="#3e50a0"/><rect x="146.43" y="312.9" width="13.12" height="2.35" fill="#dcdbe9"/><rect x="28.8" y="315.2" width="13.12" height="0.85" fill="#f6d2d4"/><rect x="41.87" y="315.2" width="13.12" height="0.85" fill="#f08f92"/><rect x="54.94" y="315.2" width="13.12" height="0.85" fill="#f8e9ea"/><rect x="68.01" y="315.2" width="13.12" height="0.85" fill="#eb5155"/><rect x="81.08" y="315.2" width="13.12" height="0.85" fill="#f4c0c2"/><rect x="94.15" y="315.2" width="13.12" height="0.85" fill="#e7e5ed"/><rect x="107.22" y="315.2" width="13.12" height="0.85" fill="#8993c3"/><rect x="120.29" y="315.2" width="13.12" height="0.85" fill="#deddea"/><rect x="133.36" y="315.2" width="13.12" height="0.85" fill="#7681ba"/><rect x="146.43" y="315.2" width="13.12" height="0.85" fill="#e6e4ed"/><rect x="28.8" y="316" width="13.12" height="2.35" fill="#f7e1e2"/><rect x="41.87" y="316" width="13.12" height="2.35" fill="#f8e7e8"/><rect x="54.94" y="316" width="13.12" height="2.35" fill="#f5c3c5"/><rect x="68.01" y="316" width="13.12" height="2.35" fill="#eb5356"/><rect x="81.08" y="316" width="13.12" height="2.35" fill="#ed6a6d"/><rect x="94.15" y="316" width="13.12" height="2.35" fill="#f8ebec"/><rect x="107.22" y="316" width="13.12" height="2.35" fill="#f9f0f1"/><rect x="120.29" y="316" width="13.12" height="2.35" fill="#bdc0da"/><rect x="133.36" y="316" width="13.12" height="2.35" fill="#5665ab"/><rect x="146.43" y="316" width="13.12" height="2.35" fill="#9aa1ca"/><rect x="28.8" y="318.3" width="13.12" height="2.35" fill="#f7dedf"/><rect x="41.87" y="318.3" width="13.12" height="2.35" fill="#f5c9cb"/><rect x="54.94" y="318.3" width="13.12" height="2.35" fill="#f4b9bb"/><rect x="68.01" y="318.3" width="13.12" height="2.35" fill="#eb4f52"/><rect x="81.08" y="318.3" width="13.12" height="2.35" fill="#f2a2a4"/><rect x="94.15" y="318.3" width="13.12" height="2.35" fill="#f9f2f3"/><rect x="107.22" y="318.3" width="13.12" height="2.35" fill="#e7e5ee"/><rect x="120.29" y="318.3" width="13.12" height="2.35" fill="#cfd0e3"/><rect x="133.36" y="318.3" width="13.12" height="2.35" fill="#3e50a0"/><rect x="146.43" y="318.3" width="13.12" height="2.35" fill="#a0a6cd"/><rect x="28.8" y="320.6" width="13.12" height="2.35" fill="#f6d5d7"/><rect x="41.87" y="320.6" width="13.12" height="2.35" fill="#f6d8d9"/><rect x="54.94" y="320.6" width="13.12" height="2.35" fill="#f7e0e2"/><rect x="68.01" y="320.6" width="13.12" height="2.35" fill="#eb5a5d"/><rect x="81.08" y="320.6" width="13.12" height="2.35" fill="#ec6568"/><rect x="94.15" y="320.6" width="13.12" height="2.35" fill="#f8eeef"/><rect x="107.22" y="320.6" width="13.12" height="2.35" fill="#f9f3f4"/><rect x="120.29" y="320.6" width="13.12" height="2.35" fill="#dbdbe8"/><rect x="133.36" y="320.6" width="13.12" height="2.35" fill="#3e50a0"/><rect x="146.43" y="320.6" width="13.12" height="2.35" fill="#b4b8d6"/><rect x="28.8" y="322.9" width="13.12" height="2.35" fill="#f6d6d7"/><rect x="41.87" y="322.9" width="13.12" height="2.35" fill="#f6cecf"/><rect x="54.94" y="322.9" width="13.12" height="2.35" fill="#f4b8ba"/><rect x="68.01" y="322.9" width="13.12" height="2.35" fill="#e83236"/><rect x="81.08" y="322.9" width="13.12" height="2.35" fill="#f4c0c2"/><rect x="94.15" y="322.9" width="13.12" height="2.35" fill="#f4f1f4"/><rect x="107.22" y="322.9" width="13.12" height="2.35" fill="#f2eff3"/><rect x="120.29" y="322.9" width="13.12" height="2.35" fill="#dbdbe8"/><rect x="133.36" y="322.9" width="13.12" height="2.35" fill="#495aa5"/><rect x="146.43" y="322.9" width="13.12" height="2.35" fill="#aaafd2"/><rect x="28.8" y="325.2" width="13.12" height="0.85" fill="#f5c7c9"/><rect x="41.87" y="325.2" width="13.12" height="0.85" fill="#f7dadc"/><rect x="54.94" y="325.2" width="13.12" height="0.85" fill="#f4b6b8"/><rect x="68.01" y="325.2" width="13.12" height="0.85" fill="#eb575b"/><rect x="81.08" y="325.2" width="13.12" height="0.85" fill="#f2a9ab"/><rect x="94.15" y="325.2" width="13.12" height="0.85" fill="#f9f3f4"/><rect x="107.22" y="325.2" width="13.12" height="0.85" fill="#f8eeef"/><rect x="120.29" y="325.2" width="13.12" height="0.85" fill="#cecfe2"/><rect x="133.36" y="325.2" width="13.12" height="0.85" fill="#3e50a0"/><rect x="146.43" y="325.2" width="13.12" height="0.85" fill="#939bc7"/><rect x="28.8" y="326" width="13.12" height="2.35" fill="#f2a1a4"/><rect x="41.87" y="326" width="13.12" height="2.35" fill="#f3b6b8"/><rect x="54.94" y="326" width="13.12" height="2.35" fill="#ef878a"/><rect x="68.01" y="326" width="13.12" height="2.35" fill="#ec6165"/><rect x="81.08" y="326" width="13.12" height="2.35" fill="#f3b3b5"/><rect x="94.15" y="326" width="13.12" height="2.35" fill="#bbbed9"/><rect x="107.22" y="326" width="13.12" height="2.35" fill="#c8c9df"/><rect x="120.29" y="326" width="13.12" height="2.35" fill="#bfc2db"/><rect x="133.36" y="326" width="13.12" height="2.35" fill="#4254a2"/><rect x="146.43" y="326" width="13.12" height="2.35" fill="#a4aacf"/><rect x="28.8" y="328.3" width="13.12" height="2.35" fill="#f19b9d"/><rect x="41.87" y="328.3" width="13.12" height="2.35" fill="#f6d3d5"/><rect x="54.94" y="328.3" width="13.12" height="2.35" fill="#f3aeb0"/><rect x="68.01" y="328.3" width="13.12" height="2.35" fill="#eb575a"/><rect x="81.08" y="328.3" width="13.12" height="2.35" fill="#f2a6a9"/><rect x="94.15" y="328.3" width="13.12" height="2.35" fill="#8b94c3"/><rect x="107.22" y="328.3" width="13.12" height="2.35" fill="#d0d0e3"/><rect x="120.29" y="328.3" width="13.12" height="2.35" fill="#d1d2e4"/><rect x="133.36" y="328.3" width="13.12" height="2.35" fill="#5867ac"/><rect x="146.43" y="328.3" width="13.12" height="2.35" fill="#cbcde1"/><rect x="28.8" y="330.6" width="13.12" height="2.35" fill="#f3adaf"/><rect x="41.87" y="330.6" width="13.12" height="2.35" fill="#f5c6c8"/><rect x="54.94" y="330.6" width="13.12" height="2.35" fill="#f3abad"/><rect x="68.01" y="330.6" width="13.12" height="2.35" fill="#e83236"/><rect x="81.08" y="330.6" width="13.12" height="2.35" fill="#f08e91"/><rect x="94.15" y="330.6" width="13.12" height="2.35" fill="#c9cbe0"/><rect x="107.22" y="330.6" width="13.12" height="2.35" fill="#d8d8e7"/><rect x="120.29" y="330.6" width="13.12" height="2.35" fill="#c3c5dd"/><rect x="133.36" y="330.6" width="13.12" height="2.35" fill="#3e50a0"/><rect x="146.43" y="330.6" width="13.12" height="2.35" fill="#e5e3ed"/><rect x="28.8" y="332.9" width="13.12" height="2.35" fill="#f08d90"/><rect x="41.87" y="332.9" width="13.12" height="2.35" fill="#f4c0c2"/><rect x="54.94" y="332.9" width="13.12" height="2.35" fill="#f6d3d4"/><rect x="68.01" y="332.9" width="13.12" height="2.35" fill="#e83236"/><rect x="81.08" y="332.9" width="13.12" height="2.35" fill="#f2a1a4"/><rect x="94.15" y="332.9" width="13.12" height="2.35" fill="#c8c9df"/><rect x="107.22" y="332.9" width="13.12" height="2.35" fill="#c2c4dd"/><rect x="120.29" y="332.9" width="13.12" height="2.35" fill="#d5d5e6"/><rect x="133.36" y="332.9" width="13.12" height="2.35" fill="#3e50a0"/><rect x="146.43" y="332.9" width="13.12" height="2.35" fill="#a1a7cd"/><rect x="28.8" y="335.2" width="13.12" height="0.85" fill="#f19b9d"/><rect x="41.87" y="335.2" width="13.12" height="0.85" fill="#f3afb1"/><rect x="54.94" y="335.2" width="13.12" height="0.85" fill="#f6d8da"/><rect x="68.01" y="335.2" width="13.12" height="0.85" fill="#ee7578"/><rect x="81.08" y="335.2" width="13.12" height="0.85" fill="#f5cacc"/><rect x="94.15" y="335.2" width="13.12" height="0.85" fill="#acb1d3"/><rect x="107.22" y="335.2" width="13.12" height="0.85" fill="#dbdbe8"/><rect x="120.29" y="335.2" width="13.12" height="0.85" fill="#dad9e8"/><rect x="133.36" y="335.2" width="13.12" height="0.85" fill="#3e50a0"/><rect x="146.43" y="335.2" width="13.12" height="0.85" fill="#a3a9ce"/><rect x="28.8" y="336" width="13.12" height="2.35" fill="#f5c5c7"/><rect x="41.87" y="336" width="13.12" height="2.35" fill="#f3b0b2"/><rect x="54.94" y="336" width="13.12" height="2.35" fill="#f7dedf"/><rect x="68.01" y="336" width="13.12" height="2.35" fill="#ea4347"/><rect x="81.08" y="336" width="13.12" height="2.35" fill="#f4b7b9"/><rect x="94.15" y="336" width="13.12" height="2.35" fill="#e7e5ee"/><rect x="107.22" y="336" width="13.12" height="2.35" fill="#b9bdd9"/><rect x="120.29" y="336" width="13.12" height="2.35" fill="#dbdbe8"/><rect x="133.36" y="336" width="13.12" height="2.35" fill="#5c6aae"/><rect x="146.43" y="336" width="13.12" height="2.35" fill="#c2c5dd"/><rect x="28.8" y="338.3" width="13.12" height="2.35" fill="#f5c4c6"/><rect x="41.87" y="338.3" width="13.12" height="2.35" fill="#f09092"/><rect x="54.94" y="338.3" width="13.12" height="2.35" fill="#f5c5c7"/><rect x="68.01" y="338.3" width="13.12" height="2.35" fill="#e83539"/><rect x="81.08" y="338.3" width="13.12" height="2.35" fill="#f4b9bb"/><rect x="94.15" y="338.3" width="13.12" height="2.35" fill="#d5d6e6"/><rect x="107.22" y="338.3" width="13.12" height="2.35" fill="#bdc0db"/><rect x="120.29" y="338.3" width="13.12" height="2.35" fill="#c8c9df"/><rect x="133.36" y="338.3" width="13.12" height="2.35" fill="#3e50a0"/><rect x="146.43" y="338.3" width="13.12" height="2.35" fill="#9ca3cb"/><rect x="28.8" y="340.6" width="13.12" height="2.35" fill="#f08d8f"/><rect x="41.87" y="340.6" width="13.12" height="2.35" fill="#f29fa1"/><rect x="54.94" y="340.6" width="13.12" height="2.35" fill="#f6d2d3"/><rect x="68.01" y="340.6" width="13.12" height="2.35" fill="#e83236"/><rect x="81.08" y="340.6" width="13.12" height="2.35" fill="#f6d8d9"/><rect x="94.15" y="340.6" width="13.12" height="2.35" fill="#babdd9"/><rect x="107.22" y="340.6" width="13.12" height="2.35" fill="#dcdce9"/><rect x="120.29" y="340.6" width="13.12" height="2.35" fill="#c5c7de"/><rect x="133.36" y="340.6" width="13.12" height="2.35" fill="#3e50a0"/><rect x="146.43" y="340.6" width="13.12" height="2.35" fill="#a5abcf"/><rect x="28.8" y="342.9" width="13.12" height="2.35" fill="#f2a8aa"/><rect x="41.87" y="342.9" width="13.12" height="2.35" fill="#f4b7b9"/><rect x="54.94" y="342.9" width="13.12" height="2.35" fill="#f5c2c4"/><rect x="68.01" y="342.9" width="13.12" height="2.35" fill="#e83236"/><rect x="81.08" y="342.9" width="13.12" height="2.35" fill="#f09396"/><rect x="94.15" y="342.9" width="13.12" height="2.35" fill="#e4e2ec"/><rect x="107.22" y="342.9" width="13.12" height="2.35" fill="#c0c3dc"/><rect x="120.29" y="342.9" width="13.12" height="2.35" fill="#c9cbe0"/><rect x="133.36" y="342.9" width="13.12" height="2.35" fill="#7480b9"/><rect x="146.43" y="342.9" width="13.12" height="2.35" fill="#b3b7d6"/><rect x="28.8" y="345.2" width="13.12" height="0.85" fill="#f4babc"/><rect x="41.87" y="345.2" width="13.12" height="0.85" fill="#f3b2b4"/><rect x="54.94" y="345.2" width="13.12" height="0.85" fill="#f5c6c8"/><rect x="68.01" y="345.2" width="13.12" height="0.85" fill="#e83236"/><rect x="81.08" y="345.2" width="13.12" height="0.85" fill="#f2a2a4"/><rect x="94.15" y="345.2" width="13.12" height="0.85" fill="#e1e0eb"/><rect x="107.22" y="345.2" width="13.12" height="0.85" fill="#b9bcd9"/><rect x="120.29" y="345.2" width="13.12" height="0.85" fill="#b5b9d7"/><rect x="133.36" y="345.2" width="13.12" height="0.85" fill="#5463aa"/><rect x="146.43" y="345.2" width="13.12" height="0.85" fill="#cecfe2"/><rect x="28.8" y="346" width="13.12" height="2.35" fill="#f5c9ca"/><rect x="41.87" y="346" width="13.12" height="2.35" fill="#f1999b"/><rect x="54.94" y="346" width="13.12" height="2.35" fill="#f4bcbe"/><rect x="68.01" y="346" width="13.12" height="2.35" fill="#eb5659"/><rect x="81.08" y="346" width="13.12" height="2.35" fill="#f4bbbd"/><rect x="94.15" y="346" width="13.12" height="2.35" fill="#d4d5e5"/><rect x="107.22" y="346" width="13.12" height="2.35" fill="#b5b9d7"/><rect x="120.29" y="346" width="13.12" height="2.35" fill="#e4e3ec"/><rect x="133.36" y="346" width="13.12" height="2.35" fill="#868fc1"/><rect x="146.43" y="346" width="13.12" height="2.35" fill="#e8e6ee"/><rect x="28.8" y="348.3" width="13.12" height="2.35" fill="#f4bbbd"/><rect x="41.87" y="348.3" width="13.12" height="2.35" fill="#f3b3b5"/><rect x="54.94" y="348.3" width="13.12" height="2.35" fill="#f19698"/><rect x="68.01" y="348.3" width="13.12" height="2.35" fill="#ee797c"/><rect x="81.08" y="348.3" width="13.12" height="2.35" fill="#f09395"/><rect x="94.15" y="348.3" width="13.12" height="2.35" fill="#ebe8ef"/><rect x="107.22" y="348.3" width="13.12" height="2.35" fill="#d6d6e6"/><rect x="120.29" y="348.3" width="13.12" height="2.35" fill="#d5d6e6"/><rect x="133.36" y="348.3" width="13.12" height="2.35" fill="#5464aa"/><rect x="146.43" y="348.3" width="13.12" height="2.35" fill="#c7c9df"/><rect x="28.8" y="350.6" width="13.12" height="2.35" fill="#f5c7c9"/><rect x="41.87" y="350.6" width="13.12" height="2.35" fill="#f3aeb0"/><rect x="54.94" y="350.6" width="13.12" height="2.35" fill="#f7dfe1"/><rect x="68.01" y="350.6" width="13.12" height="2.35" fill="#e94246"/><rect x="81.08" y="350.6" width="13.12" height="2.35" fill="#f6cecf"/><rect x="94.15" y="350.6" width="13.12" height="2.35" fill="#d6d6e6"/><rect x="107.22" y="350.6" width="13.12" height="2.35" fill="#d7d7e6"/><rect x="120.29" y="350.6" width="13.12" height="2.35" fill="#e7e5ee"/><rect x="133.36" y="350.6" width="13.12" height="2.35" fill="#4d5da7"/><rect x="146.43" y="350.6" width="13.12" height="2.35" fill="#cacce0"/><rect x="28.8" y="352.9" width="13.12" height="2.35" fill="#f4bcbe"/><rect x="41.87" y="352.9" width="13.12" height="2.35" fill="#f5c4c5"/><rect x="54.94" y="352.9" width="13.12" height="2.35" fill="#f3adaf"/><rect x="68.01" y="352.9" width="13.12" height="2.35" fill="#eb565a"/><rect x="81.08" y="352.9" width="13.12" height="2.35" fill="#f4bbbd"/><rect x="94.15" y="352.9" width="13.12" height="2.35" fill="#dddde9"/><rect x="107.22" y="352.9" width="13.12" height="2.35" fill="#c8c9df"/><rect x="120.29" y="352.9" width="13.12" height="2.35" fill="#dfdeea"/><rect x="133.36" y="352.9" width="13.12" height="2.35" fill="#3e50a0"/><rect x="146.43" y="352.9" width="13.12" height="2.35" fill="#cccde1"/><rect x="28.8" y="355.2" width="13.12" height="0.85" fill="#f8e7e9"/><rect x="41.87" y="355.2" width="13.12" height="0.85" fill="#f5c8c9"/><rect x="54.94" y="355.2" width="13.12" height="0.85" fill="#f5c7c8"/><rect x="68.01" y="355.2" width="13.12" height="0.85" fill="#e94044"/><rect x="81.08" y="355.2" width="13.12" height="0.85" fill="#f7dcdd"/><rect x="94.15" y="355.2" width="13.12" height="0.85" fill="#d9d8e7"/><rect x="107.22" y="355.2" width="13.12" height="0.85" fill="#bcbfda"/><rect x="120.29" y="355.2" width="13.12" height="0.85" fill="#d5d5e5"/><rect x="133.36" y="355.2" width="13.12" height="0.85" fill="#6370b1"/><rect x="146.43" y="355.2" width="13.12" height="0.85" fill="#d2d2e4"/><rect x="28.8" y="356" width="13.12" height="2.35" fill="#f7dedf"/><rect x="41.87" y="356" width="13.12" height="2.35" fill="#f19496"/><rect x="54.94" y="356" width="13.12" height="2.35" fill="#f6d0d2"/><rect x="68.01" y="356" width="13.12" height="2.35" fill="#ec5b5e"/><rect x="81.08" y="356" width="13.12" height="2.35" fill="#f2a2a4"/><rect x="94.15" y="356" width="13.12" height="2.35" fill="#dcdce9"/><rect x="107.22" y="356" width="13.12" height="2.35" fill="#c8cadf"/><rect x="120.29" y="356" width="13.12" height="2.35" fill="#f6f3f5"/><rect x="133.36" y="356" width="13.12" height="2.35" fill="#4657a4"/><rect x="146.43" y="356" width="13.12" height="2.35" fill="#9da4cc"/><rect x="28.8" y="358.3" width="13.12" height="2.35" fill="#f5c5c7"/><rect x="41.87" y="358.3" width="13.12" height="2.35" fill="#f7dcdd"/><rect x="54.94" y="358.3" width="13.12" height="2.35" fill="#f6d0d2"/><rect x="68.01" y="358.3" width="13.12" height="2.35" fill="#e93d41"/><rect x="81.08" y="358.3" width="13.12" height="2.35" fill="#f19fa1"/><rect x="94.15" y="358.3" width="13.12" height="2.35" fill="#dcdbe8"/><rect x="107.22" y="358.3" width="13.12" height="2.35" fill="#cbcce1"/><rect x="120.29" y="358.3" width="13.12" height="2.35" fill="#f8f4f5"/><rect x="133.36" y="358.3" width="13.12" height="2.35" fill="#5c6bae"/><rect x="146.43" y="358.3" width="13.12" height="2.35" fill="#a5abcf"/><rect x="28.8" y="360.6" width="13.12" height="2.35" fill="#f4b8ba"/><rect x="41.87" y="360.6" width="13.12" height="2.35" fill="#f5c6c8"/><rect x="54.94" y="360.6" width="13.12" height="2.35" fill="#f5c8c9"/><rect x="68.01" y="360.6" width="13.12" height="2.35" fill="#e83236"/><rect x="81.08" y="360.6" width="13.12" height="2.35" fill="#eb5356"/><rect x="94.15" y="360.6" width="13.12" height="2.35" fill="#dedde9"/><rect x="107.22" y="360.6" width="13.12" height="2.35" fill="#dddde9"/><rect x="120.29" y="360.6" width="13.12" height="2.35" fill="#f9f3f4"/><rect x="133.36" y="360.6" width="13.12" height="2.35" fill="#4859a5"/><rect x="146.43" y="360.6" width="13.12" height="2.35" fill="#b0b4d4"/><rect x="28.8" y="362.9" width="13.12" height="2.35" fill="#f5c3c5"/><rect x="41.87" y="362.9" width="13.12" height="2.35" fill="#f4bbbd"/><rect x="54.94" y="362.9" width="13.12" height="2.35" fill="#f7dcdd"/><rect x="68.01" y="362.9" width="13.12" height="2.35" fill="#e83236"/><rect x="81.08" y="362.9" width="13.12" height="2.35" fill="#ef8285"/><rect x="94.15" y="362.9" width="13.12" height="2.35" fill="#c6c8de"/><rect x="107.22" y="362.9" width="13.12" height="2.35" fill="#e0dfea"/><rect x="120.29" y="362.9" width="13.12" height="2.35" fill="#e6e4ed"/><rect x="133.36" y="362.9" width="13.12" height="2.35" fill="#6e7ab6"/><rect x="146.43" y="362.9" width="13.12" height="2.35" fill="#989fc9"/><rect x="28.8" y="365.2" width="13.12" height="0.85" fill="#f08f92"/><rect x="41.87" y="365.2" width="13.12" height="0.85" fill="#f2a7a9"/><rect x="54.94" y="365.2" width="13.12" height="0.85" fill="#f5c7c9"/><rect x="68.01" y="365.2" width="13.12" height="0.85" fill="#ef8184"/><rect x="81.08" y="365.2" width="13.12" height="0.85" fill="#f4b7b9"/><rect x="94.15" y="365.2" width="13.12" height="0.85" fill="#b4b8d6"/><rect x="107.22" y="365.2" width="13.12" height="0.85" fill="#cecfe2"/><rect x="120.29" y="365.2" width="13.12" height="0.85" fill="#f2eff3"/><rect x="133.36" y="365.2" width="13.12" height="0.85" fill="#8791c2"/><rect x="146.43" y="365.2" width="13.12" height="0.85" fill="#bfc2db"/><rect x="28.8" y="366" width="13.12" height="2.35" fill="#f3b1b4"/><rect x="41.87" y="366" width="13.12" height="2.35" fill="#f8e4e6"/><rect x="54.94" y="366" width="13.12" height="2.35" fill="#f5cbcc"/><rect x="68.01" y="366" width="13.12" height="2.35" fill="#f2a3a6"/><rect x="81.08" y="366" width="13.12" height="2.35" fill="#eb4f52"/><rect x="94.15" y="366" width="13.12" height="2.35" fill="#a7acd0"/><rect x="107.22" y="366" width="13.12" height="2.35" fill="#edeaf0"/><rect x="120.29" y="366" width="13.12" height="2.35" fill="#bcbfda"/><rect x="133.36" y="366" width="13.12" height="2.35" fill="#7581b9"/><rect x="146.43" y="366" width="13.12" height="2.35" fill="#4153a2"/><rect x="28.8" y="368.3" width="13.12" height="2.35" fill="#f1999c"/><rect x="41.87" y="368.3" width="13.12" height="2.35" fill="#f6d6d7"/><rect x="54.94" y="368.3" width="13.12" height="2.35" fill="#f6d7d8"/><rect x="68.01" y="368.3" width="13.12" height="2.35" fill="#f4b7b9"/><rect x="81.08" y="368.3" width="13.12" height="2.35" fill="#ea4d50"/><rect x="94.15" y="368.3" width="13.12" height="2.35" fill="#7c87bd"/><rect x="107.22" y="368.3" width="13.12" height="2.35" fill="#e2e1eb"/><rect x="120.29" y="368.3" width="13.12" height="2.35" fill="#bbbed9"/><rect x="133.36" y="368.3" width="13.12" height="2.35" fill="#4758a4"/><rect x="146.43" y="368.3" width="13.12" height="2.35" fill="#7c87bd"/><rect x="28.8" y="370.6" width="13.12" height="2.35" fill="#f6cfd0"/><rect x="41.87" y="370.6" width="13.12" height="2.35" fill="#f7dfe0"/><rect x="54.94" y="370.6" width="13.12" height="2.35" fill="#f8e9ea"/><rect x="68.01" y="370.6" width="13.12" height="2.35" fill="#f08f91"/><rect x="81.08" y="370.6" width="13.12" height="2.35" fill="#f09396"/><rect x="94.15" y="370.6" width="13.12" height="2.35" fill="#c2c5dd"/><rect x="107.22" y="370.6" width="13.12" height="2.35" fill="#e2e0eb"/><rect x="120.29" y="370.6" width="13.12" height="2.35" fill="#b1b5d5"/><rect x="133.36" y="370.6" width="13.12" height="2.35" fill="#a4aacf"/><rect x="146.43" y="370.6" width="13.12" height="2.35" fill="#7f89be"/><rect x="28.8" y="372.9" width="13.12" height="2.35" fill="#f5c8c9"/><rect x="41.87" y="372.9" width="13.12" height="2.35" fill="#f7e0e2"/><rect x="54.94" y="372.9" width="13.12" height="2.35" fill="#f6d5d6"/><rect x="68.01" y="372.9" width="13.12" height="2.35" fill="#f3adaf"/><rect x="81.08" y="372.9" width="13.12" height="2.35" fill="#e93b3f"/><rect x="94.15" y="372.9" width="13.12" height="2.35" fill="#babed9"/><rect x="107.22" y="372.9" width="13.12" height="2.35" fill="#d5d6e6"/><rect x="120.29" y="372.9" width="13.12" height="2.35" fill="#c1c4dc"/><rect x="133.36" y="372.9" width="13.12" height="2.35" fill="#6371b1"/><rect x="146.43" y="372.9" width="13.12" height="2.35" fill="#7580b9"/><rect x="28.8" y="375.2" width="13.12" height="0.85" fill="#f4b9bb"/><rect x="41.87" y="375.2" width="13.12" height="0.85" fill="#f6d4d6"/><rect x="54.94" y="375.2" width="13.12" height="0.85" fill="#f7e0e2"/><rect x="68.01" y="375.2" width="13.12" height="0.85" fill="#f6cfd1"/><rect x="81.08" y="375.2" width="13.12" height="0.85" fill="#ee7275"/><rect x="94.15" y="375.2" width="13.12" height="0.85" fill="#99a0ca"/><rect x="107.22" y="375.2" width="13.12" height="0.85" fill="#d5d5e5"/><rect x="120.29" y="375.2" width="13.12" height="0.85" fill="#cdcfe2"/><rect x="133.36" y="375.2" width="13.12" height="0.85" fill="#b6bad7"/><rect x="146.43" y="375.2" width="13.12" height="0.85" fill="#6774b3"/><rect x="28.8" y="376" width="13.12" height="2.35" fill="#f4b7b9"/><rect x="41.87" y="376" width="13.12" height="2.35" fill="#f5c9cb"/><rect x="54.94" y="376" width="13.12" height="2.35" fill="#f5c5c7"/><rect x="68.01" y="376" width="13.12" height="2.35" fill="#f4b7b9"/><rect x="81.08" y="376" width="13.12" height="2.35" fill="#e94246"/><rect x="94.15" y="376" width="13.12" height="2.35" fill="#a8aed1"/><rect x="107.22" y="376" width="13.12" height="2.35" fill="#e2e1eb"/><rect x="120.29" y="376" width="13.12" height="2.35" fill="#ebe9f0"/><rect x="133.36" y="376" width="13.12" height="2.35" fill="#acb1d3"/><rect x="146.43" y="376" width="13.12" height="2.35" fill="#5363aa"/><rect x="28.8" y="378.3" width="13.12" height="2.35" fill="#f5c2c4"/><rect x="41.87" y="378.3" width="13.12" height="2.35" fill="#f3acae"/><rect x="54.94" y="378.3" width="13.12" height="2.35" fill="#f2a6a8"/><rect x="68.01" y="378.3" width="13.12" height="2.35" fill="#ed676b"/><rect x="81.08" y="378.3" width="13.12" height="2.35" fill="#ec6164"/><rect x="94.15" y="378.3" width="13.12" height="2.35" fill="#bbbfda"/><rect x="107.22" y="378.3" width="13.12" height="2.35" fill="#bec1db"/><rect x="120.29" y="378.3" width="13.12" height="2.35" fill="#dbdae8"/><rect x="133.36" y="378.3" width="13.12" height="2.35" fill="#adb2d3"/><rect x="146.43" y="378.3" width="13.12" height="2.35" fill="#4556a3"/><rect x="28.8" y="380.6" width="13.12" height="2.35" fill="#f6cdcf"/><rect x="41.87" y="380.6" width="13.12" height="2.35" fill="#f6d7d8"/><rect x="54.94" y="380.6" width="13.12" height="2.35" fill="#f2a9ab"/><rect x="68.01" y="380.6" width="13.12" height="2.35" fill="#eb585b"/><rect x="81.08" y="380.6" width="13.12" height="2.35" fill="#f19598"/><rect x="94.15" y="380.6" width="13.12" height="2.35" fill="#d4d5e5"/><rect x="107.22" y="380.6" width="13.12" height="2.35" fill="#dfdeea"/><rect x="120.29" y="380.6" width="13.12" height="2.35" fill="#d5d5e5"/><rect x="133.36" y="380.6" width="13.12" height="2.35" fill="#707cb7"/><rect x="146.43" y="380.6" width="13.12" height="2.35" fill="#7d87bd"/><rect x="28.8" y="382.9" width="13.12" height="2.35" fill="#f6cecf"/><rect x="41.87" y="382.9" width="13.12" height="2.35" fill="#f5c2c4"/><rect x="54.94" y="382.9" width="13.12" height="2.35" fill="#f5c9ca"/><rect x="68.01" y="382.9" width="13.12" height="2.35" fill="#f08d90"/><rect x="81.08" y="382.9" width="13.12" height="2.35" fill="#ef7e80"/><rect x="94.15" y="382.9" width="13.12" height="2.35" fill="#deddea"/><rect x="107.22" y="382.9" width="13.12" height="2.35" fill="#e6e4ed"/><rect x="120.29" y="382.9" width="13.12" height="2.35" fill="#e6e5ed"/><rect x="133.36" y="382.9" width="13.12" height="2.35" fill="#b6bad7"/><rect x="146.43" y="382.9" width="13.12" height="2.35" fill="#8992c2"/><rect x="28.8" y="385.2" width="13.12" height="0.85" fill="#f8e8e9"/><rect x="41.87" y="385.2" width="13.12" height="0.85" fill="#f2a9ab"/><rect x="54.94" y="385.2" width="13.12" height="0.85" fill="#f6cfd0"/><rect x="68.01" y="385.2" width="13.12" height="0.85" fill="#eb595c"/><rect x="81.08" y="385.2" width="13.12" height="0.85" fill="#f08e90"/><rect x="94.15" y="385.2" width="13.12" height="0.85" fill="#cccde1"/><rect x="107.22" y="385.2" width="13.12" height="0.85" fill="#dfdeea"/><rect x="120.29" y="385.2" width="13.12" height="0.85" fill="#f7f3f5"/><rect x="133.36" y="385.2" width="13.12" height="0.85" fill="#a2a8ce"/><rect x="146.43" y="385.2" width="13.12" height="0.85" fill="#4d5da7"/><rect x="28.8" y="386" width="13.12" height="2.35" fill="#ef8184"/><rect x="41.87" y="386" width="13.12" height="2.35" fill="#f6d7d8"/><rect x="54.94" y="386" width="13.12" height="2.35" fill="#f8e8ea"/><rect x="68.01" y="386" width="13.12" height="2.35" fill="#f2a6a8"/><rect x="81.08" y="386" width="13.12" height="2.35" fill="#e83236"/><rect x="94.15" y="386" width="13.12" height="2.35" fill="#9aa1ca"/><rect x="107.22" y="386" width="13.12" height="2.35" fill="#d7d7e6"/><rect x="120.29" y="386" width="13.12" height="2.35" fill="#dddce9"/><rect x="133.36" y="386" width="13.12" height="2.35" fill="#d2d3e4"/><rect x="146.43" y="386" width="13.12" height="2.35" fill="#7f89be"/><rect x="28.8" y="388.3" width="13.12" height="2.35" fill="#ef8386"/><rect x="41.87" y="388.3" width="13.12" height="2.35" fill="#f6d3d5"/><rect x="54.94" y="388.3" width="13.12" height="2.35" fill="#f5c9ca"/><rect x="68.01" y="388.3" width="13.12" height="2.35" fill="#f3b1b3"/><rect x="81.08" y="388.3" width="13.12" height="2.35" fill="#f2a2a4"/><rect x="94.15" y="388.3" width="13.12" height="2.35" fill="#7984bb"/><rect x="107.22" y="388.3" width="13.12" height="2.35" fill="#b8bcd8"/><rect x="120.29" y="388.3" width="13.12" height="2.35" fill="#ebe9f0"/><rect x="133.36" y="388.3" width="13.12" height="2.35" fill="#aaafd2"/><rect x="146.43" y="388.3" width="13.12" height="2.35" fill="#a9aed1"/><rect x="28.8" y="390.6" width="13.12" height="2.35" fill="#f19799"/><rect x="41.87" y="390.6" width="13.12" height="2.35" fill="#f5c7c8"/><rect x="54.94" y="390.6" width="13.12" height="2.35" fill="#f7ddde"/><rect x="68.01" y="390.6" width="13.12" height="2.35" fill="#f3b6b8"/><rect x="81.08" y="390.6" width="13.12" height="2.35" fill="#f19d9f"/><rect x="94.15" y="390.6" width="13.12" height="2.35" fill="#a4aacf"/><rect x="107.22" y="390.6" width="13.12" height="2.35" fill="#b1b5d5"/><rect x="120.29" y="390.6" width="13.12" height="2.35" fill="#cfd0e3"/><rect x="133.36" y="390.6" width="13.12" height="2.35" fill="#aaafd2"/><rect x="146.43" y="390.6" width="13.12" height="2.35" fill="#b6bad7"/><rect x="28.8" y="392.9" width="13.12" height="2.35" fill="#f2aaac"/><rect x="41.87" y="392.9" width="13.12" height="2.35" fill="#f6d6d7"/><rect x="54.94" y="392.9" width="13.12" height="2.35" fill="#f6d6d8"/><rect x="68.01" y="392.9" width="13.12" height="2.35" fill="#f3aeb0"/><rect x="81.08" y="392.9" width="13.12" height="2.35" fill="#f5c2c3"/><rect x="94.15" y="392.9" width="13.12" height="2.35" fill="#8690c1"/><rect x="107.22" y="392.9" width="13.12" height="2.35" fill="#abb1d2"/><rect x="120.29" y="392.9" width="13.12" height="2.35" fill="#d2d2e4"/><rect x="133.36" y="392.9" width="13.12" height="2.35" fill="#c7c9df"/><rect x="146.43" y="392.9" width="13.12" height="2.35" fill="#3e50a0"/><rect x="28.8" y="395.2" width="13.12" height="0.85" fill="#f4bfc1"/><rect x="41.87" y="395.2" width="13.12" height="0.85" fill="#f7dfe1"/><rect x="54.94" y="395.2" width="13.12" height="0.85" fill="#f7dfe0"/><rect x="68.01" y="395.2" width="13.12" height="0.85" fill="#f2aaac"/><rect x="81.08" y="395.2" width="13.12" height="0.85" fill="#ee7679"/><rect x="94.15" y="395.2" width="13.12" height="0.85" fill="#8993c3"/><rect x="107.22" y="395.2" width="13.12" height="0.85" fill="#a5abd0"/><rect x="120.29" y="395.2" width="13.12" height="0.85" fill="#c1c4dc"/><rect x="133.36" y="395.2" width="13.12" height="0.85" fill="#bbbfda"/><rect x="146.43" y="395.2" width="13.12" height="0.85" fill="#6b78b5"/><rect x="28.8" y="396" width="13.12" height="2.35" fill="#ec5d60"/><rect x="41.87" y="396" width="13.12" height="2.35" fill="#f19597"/><rect x="54.94" y="396" width="13.12" height="2.35" fill="#f5c9ca"/><rect x="68.01" y="396" width="13.12" height="2.35" fill="#ef8385"/><rect x="81.08" y="396" width="13.12" height="2.35" fill="#f09193"/><rect x="94.15" y="396" width="13.12" height="2.35" fill="#98a0c9"/><rect x="107.22" y="396" width="13.12" height="2.35" fill="#bec1db"/><rect x="120.29" y="396" width="13.12" height="2.35" fill="#dad9e8"/><rect x="133.36" y="396" width="13.12" height="2.35" fill="#818bbf"/><rect x="146.43" y="396" width="13.12" height="2.35" fill="#cbcce1"/><rect x="28.8" y="398.3" width="13.12" height="2.35" fill="#ed6d71"/><rect x="41.87" y="398.3" width="13.12" height="2.35" fill="#f2aaac"/><rect x="54.94" y="398.3" width="13.12" height="2.35" fill="#f8e8e9"/><rect x="68.01" y="398.3" width="13.12" height="2.35" fill="#ee7779"/><rect x="81.08" y="398.3" width="13.12" height="2.35" fill="#f5c5c7"/><rect x="94.15" y="398.3" width="13.12" height="2.35" fill="#8f97c5"/><rect x="107.22" y="398.3" width="13.12" height="2.35" fill="#b8bcd8"/><rect x="120.29" y="398.3" width="13.12" height="2.35" fill="#dcdce9"/><rect x="133.36" y="398.3" width="13.12" height="2.35" fill="#6d79b6"/><rect x="146.43" y="398.3" width="13.12" height="2.35" fill="#d6d6e6"/><rect x="28.8" y="400.6" width="13.12" height="2.35" fill="#ef8588"/><rect x="41.87" y="400.6" width="13.12" height="2.35" fill="#f3b4b6"/><rect x="54.94" y="400.6" width="13.12" height="2.35" fill="#f6cfd0"/><rect x="68.01" y="400.6" width="13.12" height="2.35" fill="#f2a2a4"/><rect x="81.08" y="400.6" width="13.12" height="2.35" fill="#f5c4c5"/><rect x="94.15" y="400.6" width="13.12" height="2.35" fill="#5968ad"/><rect x="107.22" y="400.6" width="13.12" height="2.35" fill="#bbbed9"/><rect x="120.29" y="400.6" width="13.12" height="2.35" fill="#dad9e8"/><rect x="133.36" y="400.6" width="13.12" height="2.35" fill="#6a77b4"/><rect x="146.43" y="400.6" width="13.12" height="2.35" fill="#d2d3e4"/><rect x="28.8" y="402.9" width="13.12" height="2.35" fill="#f08b8d"/><rect x="41.87" y="402.9" width="13.12" height="2.35" fill="#f4c0c2"/><rect x="54.94" y="402.9" width="13.12" height="2.35" fill="#f7e2e3"/><rect x="68.01" y="402.9" width="13.12" height="2.35" fill="#e83236"/><rect x="81.08" y="402.9" width="13.12" height="2.35" fill="#f3b0b2"/><rect x="94.15" y="402.9" width="13.12" height="2.35" fill="#bcc0da"/><rect x="107.22" y="402.9" width="13.12" height="2.35" fill="#7f89be"/><rect x="120.29" y="402.9" width="13.12" height="2.35" fill="#d5d5e5"/><rect x="133.36" y="402.9" width="13.12" height="2.35" fill="#8790c2"/><rect x="146.43" y="402.9" width="13.12" height="2.35" fill="#d1d1e3"/><rect x="28.8" y="405.2" width="13.12" height="0.85" fill="#f2a5a8"/><rect x="41.87" y="405.2" width="13.12" height="0.85" fill="#f3b3b5"/><rect x="54.94" y="405.2" width="13.12" height="0.85" fill="#f9f3f4"/><rect x="68.01" y="405.2" width="13.12" height="0.85" fill="#eb595d"/><rect x="81.08" y="405.2" width="13.12" height="0.85" fill="#ee7376"/><rect x="94.15" y="405.2" width="13.12" height="0.85" fill="#7883ba"/><rect x="107.22" y="405.2" width="13.12" height="0.85" fill="#a8aed1"/><rect x="120.29" y="405.2" width="13.12" height="0.85" fill="#d7d7e6"/><rect x="133.36" y="405.2" width="13.12" height="0.85" fill="#a8aed1"/><rect x="146.43" y="405.2" width="13.12" height="0.85" fill="#c0c2dc"/><rect x="28.8" y="406" width="13.12" height="2.35" fill="#f4bdbe"/><rect x="41.87" y="406" width="13.12" height="2.35" fill="#f08b8e"/><rect x="54.94" y="406" width="13.12" height="2.35" fill="#f8e5e6"/><rect x="68.01" y="406" width="13.12" height="2.35" fill="#e94145"/><rect x="81.08" y="406" width="13.12" height="2.35" fill="#f5cacc"/><rect x="94.15" y="406" width="13.12" height="2.35" fill="#8c94c4"/><rect x="107.22" y="406" width="13.12" height="2.35" fill="#b5b9d7"/><rect x="120.29" y="406" width="13.12" height="2.35" fill="#f8f4f6"/><rect x="133.36" y="406" width="13.12" height="2.35" fill="#969ec9"/><rect x="146.43" y="406" width="13.12" height="2.35" fill="#9aa1ca"/><rect x="28.8" y="408.3" width="13.12" height="2.35" fill="#f08e91"/><rect x="41.87" y="408.3" width="13.12" height="2.35" fill="#f3b0b2"/><rect x="54.94" y="408.3" width="13.12" height="2.35" fill="#f9f3f4"/><rect x="68.01" y="408.3" width="13.12" height="2.35" fill="#ec5f63"/><rect x="81.08" y="408.3" width="13.12" height="2.35" fill="#f4bfc1"/><rect x="94.15" y="408.3" width="13.12" height="2.35" fill="#d2d2e4"/><rect x="107.22" y="408.3" width="13.12" height="2.35" fill="#5665ab"/><rect x="120.29" y="408.3" width="13.12" height="2.35" fill="#eae8ef"/><rect x="133.36" y="408.3" width="13.12" height="2.35" fill="#aaafd1"/><rect x="146.43" y="408.3" width="13.12" height="2.35" fill="#a1a7ce"/><rect x="28.8" y="410.6" width="13.12" height="2.35" fill="#ef878a"/><rect x="41.87" y="410.6" width="13.12" height="2.35" fill="#f3abad"/><rect x="54.94" y="410.6" width="13.12" height="2.35" fill="#f7e2e4"/><rect x="68.01" y="410.6" width="13.12" height="2.35" fill="#ed6d70"/><rect x="81.08" y="410.6" width="13.12" height="2.35" fill="#f2a1a3"/><rect x="94.15" y="410.6" width="13.12" height="2.35" fill="#7984bb"/><rect x="107.22" y="410.6" width="13.12" height="2.35" fill="#717db8"/><rect x="120.29" y="410.6" width="13.12" height="2.35" fill="#d7d7e7"/><rect x="133.36" y="410.6" width="13.12" height="2.35" fill="#9ea5cc"/><rect x="146.43" y="410.6" width="13.12" height="2.35" fill="#9ca3cb"/><rect x="28.8" y="412.9" width="13.12" height="2.35" fill="#f3afb1"/><rect x="41.87" y="412.9" width="13.12" height="2.35" fill="#f4babc"/><rect x="54.94" y="412.9" width="13.12" height="2.35" fill="#f9f3f4"/><rect x="68.01" y="412.9" width="13.12" height="2.35" fill="#ec6568"/><rect x="81.08" y="412.9" width="13.12" height="2.35" fill="#f19ea0"/><rect x="94.15" y="412.9" width="13.12" height="2.35" fill="#bbbfda"/><rect x="107.22" y="412.9" width="13.12" height="2.35" fill="#cbcce1"/><rect x="120.29" y="412.9" width="13.12" height="2.35" fill="#e2e1eb"/><rect x="133.36" y="412.9" width="13.12" height="2.35" fill="#b3b7d6"/><rect x="146.43" y="412.9" width="13.12" height="2.35" fill="#dbdae8"/><rect x="28.8" y="415.2" width="13.12" height="0.85" fill="#f0898c"/><rect x="41.87" y="415.2" width="13.12" height="0.85" fill="#f09295"/><rect x="54.94" y="415.2" width="13.12" height="0.85" fill="#f9f1f2"/><rect x="68.01" y="415.2" width="13.12" height="0.85" fill="#f4bcbe"/><rect x="81.08" y="415.2" width="13.12" height="0.85" fill="#f2a6a8"/><rect x="94.15" y="415.2" width="13.12" height="0.85" fill="#c2c4dd"/><rect x="107.22" y="415.2" width="13.12" height="0.85" fill="#cecfe2"/><rect x="120.29" y="415.2" width="13.12" height="0.85" fill="#e3e2ec"/><rect x="133.36" y="415.2" width="13.12" height="0.85" fill="#bbbfda"/><rect x="146.43" y="415.2" width="13.12" height="0.85" fill="#989fc9"/><rect x="28.8" y="416" width="13.12" height="2.35" fill="#f6cdce"/><rect x="41.87" y="416" width="13.12" height="2.35" fill="#f5c3c5"/><rect x="54.94" y="416" width="13.12" height="2.35" fill="#f5c6c7"/><rect x="68.01" y="416" width="13.12" height="2.35" fill="#ee7275"/><rect x="81.08" y="416" width="13.12" height="2.35" fill="#f19fa1"/><rect x="94.15" y="416" width="13.12" height="2.35" fill="#b7bbd8"/><rect x="107.22" y="416" width="13.12" height="2.35" fill="#cacbe0"/><rect x="120.29" y="416" width="13.12" height="2.35" fill="#c5c8de"/><rect x="133.36" y="416" width="13.12" height="2.35" fill="#9fa5cc"/><rect x="146.43" y="416" width="13.12" height="2.35" fill="#a4aacf"/><rect x="28.8" y="418.3" width="13.12" height="2.35" fill="#f4bdbf"/><rect x="41.87" y="418.3" width="13.12" height="2.35" fill="#f19496"/><rect x="54.94" y="418.3" width="13.12" height="2.35" fill="#f7e0e1"/><rect x="68.01" y="418.3" width="13.12" height="2.35" fill="#ee7b7e"/><rect x="81.08" y="418.3" width="13.12" height="2.35" fill="#f2aaac"/><rect x="94.15" y="418.3" width="13.12" height="2.35" fill="#b2b6d5"/><rect x="107.22" y="418.3" width="13.12" height="2.35" fill="#858fc1"/><rect x="120.29" y="418.3" width="13.12" height="2.35" fill="#e8e6ee"/><rect x="133.36" y="418.3" width="13.12" height="2.35" fill="#7c87bc"/><rect x="146.43" y="418.3" width="13.12" height="2.35" fill="#bfc1db"/><rect x="28.8" y="420.6" width="13.12" height="2.35" fill="#ef8083"/><rect x="41.87" y="420.6" width="13.12" height="2.35" fill="#f09396"/><rect x="54.94" y="420.6" width="13.12" height="2.35" fill="#f5c7c8"/><rect x="68.01" y="420.6" width="13.12" height="2.35" fill="#ef8083"/><rect x="81.08" y="420.6" width="13.12" height="2.35" fill="#f6cecf"/><rect x="94.15" y="420.6" width="13.12" height="2.35" fill="#c7c9df"/><rect x="107.22" y="420.6" width="13.12" height="2.35" fill="#bec1db"/><rect x="120.29" y="420.6" width="13.12" height="2.35" fill="#e5e3ed"/><rect x="133.36" y="420.6" width="13.12" height="2.35" fill="#acb1d3"/><rect x="146.43" y="420.6" width="13.12" height="2.35" fill="#8690c1"/><rect x="28.8" y="422.9" width="13.12" height="2.35" fill="#f08d90"/><rect x="41.87" y="422.9" width="13.12" height="2.35" fill="#f5c6c8"/><rect x="54.94" y="422.9" width="13.12" height="2.35" fill="#f5c8ca"/><rect x="68.01" y="422.9" width="13.12" height="2.35" fill="#f2a8aa"/><rect x="81.08" y="422.9" width="13.12" height="2.35" fill="#f6d3d4"/><rect x="94.15" y="422.9" width="13.12" height="2.35" fill="#c2c4dc"/><rect x="107.22" y="422.9" width="13.12" height="2.35" fill="#9199c6"/><rect x="120.29" y="422.9" width="13.12" height="2.35" fill="#d7d7e6"/><rect x="133.36" y="422.9" width="13.12" height="2.35" fill="#6774b3"/><rect x="146.43" y="422.9" width="13.12" height="2.35" fill="#9ca3cb"/><rect x="28.8" y="425.2" width="13.12" height="0.85" fill="#f08f92"/><rect x="41.87" y="425.2" width="13.12" height="0.85" fill="#f4c1c3"/><rect x="54.94" y="425.2" width="13.12" height="0.85" fill="#f6d3d5"/><rect x="68.01" y="425.2" width="13.12" height="0.85" fill="#ef888b"/><rect x="81.08" y="425.2" width="13.12" height="0.85" fill="#f5c3c4"/><rect x="94.15" y="425.2" width="13.12" height="0.85" fill="#acb1d3"/><rect x="107.22" y="425.2" width="13.12" height="0.85" fill="#c7c9df"/><rect x="120.29" y="425.2" width="13.12" height="0.85" fill="#cccde1"/><rect x="133.36" y="425.2" width="13.12" height="0.85" fill="#abb0d2"/><rect x="146.43" y="425.2" width="13.12" height="0.85" fill="#9ca3cb"/><rect x="28.8" y="426" width="13.12" height="2.35" fill="#f4bdbf"/><rect x="41.87" y="426" width="13.12" height="2.35" fill="#ea4e52"/><rect x="54.94" y="426" width="13.12" height="2.35" fill="#f7e3e4"/><rect x="68.01" y="426" width="13.12" height="2.35" fill="#f3b1b3"/><rect x="81.08" y="426" width="13.12" height="2.35" fill="#f19497"/><rect x="94.15" y="426" width="13.12" height="2.35" fill="#efecf1"/><rect x="107.22" y="426" width="13.12" height="2.35" fill="#8992c3"/><rect x="120.29" y="426" width="13.12" height="2.35" fill="#e7e5ee"/><rect x="133.36" y="426" width="13.12" height="2.35" fill="#b5b9d7"/><rect x="146.43" y="426" width="13.12" height="2.35" fill="#e9e7ef"/><rect x="28.8" y="428.3" width="13.12" height="2.35" fill="#f3b3b5"/><rect x="41.87" y="428.3" width="13.12" height="2.35" fill="#e83538"/><rect x="54.94" y="428.3" width="13.12" height="2.35" fill="#f7dddf"/><rect x="68.01" y="428.3" width="13.12" height="2.35" fill="#ec5c5f"/><rect x="81.08" y="428.3" width="13.12" height="2.35" fill="#f08d90"/><rect x="94.15" y="428.3" width="13.12" height="2.35" fill="#e1dfeb"/><rect x="107.22" y="428.3" width="13.12" height="2.35" fill="#8892c2"/><rect x="120.29" y="428.3" width="13.12" height="2.35" fill="#d8d8e7"/><rect x="133.36" y="428.3" width="13.12" height="2.35" fill="#aeb3d4"/><rect x="146.43" y="428.3" width="13.12" height="2.35" fill="#e1e0eb"/><rect x="28.8" y="430.6" width="13.12" height="2.35" fill="#f5cbcd"/><rect x="41.87" y="430.6" width="13.12" height="2.35" fill="#ee7b7e"/><rect x="54.94" y="430.6" width="13.12" height="2.35" fill="#f8e8ea"/><rect x="68.01" y="430.6" width="13.12" height="2.35" fill="#f19497"/><rect x="81.08" y="430.6" width="13.12" height="2.35" fill="#f19ea0"/><rect x="94.15" y="430.6" width="13.12" height="2.35" fill="#e8e6ee"/><rect x="107.22" y="430.6" width="13.12" height="2.35" fill="#7782ba"/><rect x="120.29" y="430.6" width="13.12" height="2.35" fill="#f0edf2"/><rect x="133.36" y="430.6" width="13.12" height="2.35" fill="#9ca3cb"/><rect x="146.43" y="430.6" width="13.12" height="2.35" fill="#bbbed9"/><rect x="28.8" y="432.9" width="13.12" height="2.35" fill="#f5cccd"/><rect x="41.87" y="432.9" width="13.12" height="2.35" fill="#f09193"/><rect x="54.94" y="432.9" width="13.12" height="2.35" fill="#f8eced"/><rect x="68.01" y="432.9" width="13.12" height="2.35" fill="#ef8386"/><rect x="81.08" y="432.9" width="13.12" height="2.35" fill="#f3acaf"/><rect x="94.15" y="432.9" width="13.12" height="2.35" fill="#dadae8"/><rect x="107.22" y="432.9" width="13.12" height="2.35" fill="#7e88bd"/><rect x="120.29" y="432.9" width="13.12" height="2.35" fill="#e1e0eb"/><rect x="133.36" y="432.9" width="13.12" height="2.35" fill="#c5c7de"/><rect x="146.43" y="432.9" width="13.12" height="2.35" fill="#dedeea"/><rect x="28.8" y="435.2" width="13.12" height="0.85" fill="#f3acae"/><rect x="41.87" y="435.2" width="13.12" height="0.85" fill="#ee7376"/><rect x="54.94" y="435.2" width="13.12" height="0.85" fill="#f6cdcf"/><rect x="68.01" y="435.2" width="13.12" height="0.85" fill="#ec6063"/><rect x="81.08" y="435.2" width="13.12" height="0.85" fill="#f19c9e"/><rect x="94.15" y="435.2" width="13.12" height="0.85" fill="#dedde9"/><rect x="107.22" y="435.2" width="13.12" height="0.85" fill="#4f5fa8"/><rect x="120.29" y="435.2" width="13.12" height="0.85" fill="#dcdbe9"/><rect x="133.36" y="435.2" width="13.12" height="0.85" fill="#7884bb"/><rect x="146.43" y="435.2" width="13.12" height="0.85" fill="#e2e0eb"/><rect x="28.8" y="436" width="13.12" height="2.35" fill="#f7e2e3"/><rect x="41.87" y="436" width="13.12" height="2.35" fill="#e83438"/><rect x="54.94" y="436" width="13.12" height="2.35" fill="#f7dedf"/><rect x="68.01" y="436" width="13.12" height="2.35" fill="#f4b6b8"/><rect x="81.08" y="436" width="13.12" height="2.35" fill="#f9f1f2"/><rect x="94.15" y="436" width="13.12" height="2.35" fill="#b6bad7"/><rect x="107.22" y="436" width="13.12" height="2.35" fill="#acb1d3"/><rect x="120.29" y="436" width="13.12" height="2.35" fill="#c0c3dc"/><rect x="133.36" y="436" width="13.12" height="2.35" fill="#828cbf"/><rect x="146.43" y="436" width="13.12" height="2.35" fill="#e7e5ee"/><rect x="28.8" y="438.3" width="13.12" height="2.35" fill="#f7e1e3"/><rect x="41.87" y="438.3" width="13.12" height="2.35" fill="#e93e42"/><rect x="54.94" y="438.3" width="13.12" height="2.35" fill="#f5c5c7"/><rect x="68.01" y="438.3" width="13.12" height="2.35" fill="#f08c8f"/><rect x="81.08" y="438.3" width="13.12" height="2.35" fill="#f5c6c8"/><rect x="94.15" y="438.3" width="13.12" height="2.35" fill="#d6d6e6"/><rect x="107.22" y="438.3" width="13.12" height="2.35" fill="#929ac6"/><rect x="120.29" y="438.3" width="13.12" height="2.35" fill="#c8cadf"/><rect x="133.36" y="438.3" width="13.12" height="2.35" fill="#727eb8"/><rect x="146.43" y="438.3" width="13.12" height="2.35" fill="#e1e0eb"/><rect x="28.8" y="440.6" width="13.12" height="2.35" fill="#f8e6e8"/><rect x="41.87" y="440.6" width="13.12" height="2.35" fill="#ec6467"/><rect x="54.94" y="440.6" width="13.12" height="2.35" fill="#f7e3e4"/><rect x="68.01" y="440.6" width="13.12" height="2.35" fill="#f6d6d7"/><rect x="81.08" y="440.6" width="13.12" height="2.35" fill="#f7e3e4"/><rect x="94.15" y="440.6" width="13.12" height="2.35" fill="#c8cadf"/><rect x="107.22" y="440.6" width="13.12" height="2.35" fill="#868fc1"/><rect x="120.29" y="440.6" width="13.12" height="2.35" fill="#bec1db"/><rect x="133.36" y="440.6" width="13.12" height="2.35" fill="#babdd9"/><rect x="146.43" y="440.6" width="13.12" height="2.35" fill="#eae8ef"/><rect x="28.8" y="442.9" width="13.12" height="2.35" fill="#f6d4d6"/><rect x="41.87" y="442.9" width="13.12" height="2.35" fill="#ef7e81"/><rect x="54.94" y="442.9" width="13.12" height="2.35" fill="#f4babc"/><rect x="68.01" y="442.9" width="13.12" height="2.35" fill="#f2aaac"/><rect x="81.08" y="442.9" width="13.12" height="2.35" fill="#f5c9cb"/><rect x="94.15" y="442.9" width="13.12" height="2.35" fill="#b5b9d7"/><rect x="107.22" y="442.9" width="13.12" height="2.35" fill="#7a85bc"/><rect x="120.29" y="442.9" width="13.12" height="2.35" fill="#bec1db"/><rect x="133.36" y="442.9" width="13.12" height="2.35" fill="#b6bad7"/><rect x="146.43" y="442.9" width="13.12" height="2.35" fill="#d6d6e6"/><rect x="28.8" y="445.2" width="13.12" height="0.85" fill="#f8eff0"/><rect x="41.87" y="445.2" width="13.12" height="0.85" fill="#ec5d60"/><rect x="54.94" y="445.2" width="13.12" height="0.85" fill="#f1989a"/><rect x="68.01" y="445.2" width="13.12" height="0.85" fill="#f4bec0"/><rect x="81.08" y="445.2" width="13.12" height="0.85" fill="#f7dbdc"/><rect x="94.15" y="445.2" width="13.12" height="0.85" fill="#d0d1e3"/><rect x="107.22" y="445.2" width="13.12" height="0.85" fill="#4456a3"/><rect x="120.29" y="445.2" width="13.12" height="0.85" fill="#b0b4d4"/><rect x="133.36" y="445.2" width="13.12" height="0.85" fill="#bcbfda"/><rect x="146.43" y="445.2" width="13.12" height="0.85" fill="#eae8ef"/><rect x="28.8" y="446" width="13.12" height="2.35" fill="#f6d5d6"/><rect x="41.87" y="446" width="13.12" height="2.35" fill="#f4bdbf"/><rect x="54.94" y="446" width="13.12" height="2.35" fill="#f5c6c8"/><rect x="68.01" y="446" width="13.12" height="2.35" fill="#f5c2c4"/><rect x="81.08" y="446" width="13.12" height="2.35" fill="#f7dadc"/><rect x="94.15" y="446" width="13.12" height="2.35" fill="#b8bcd8"/><rect x="107.22" y="446" width="13.12" height="2.35" fill="#a4aacf"/><rect x="120.29" y="446" width="13.12" height="2.35" fill="#eae8ef"/><rect x="133.36" y="446" width="13.12" height="2.35" fill="#cecfe2"/><rect x="146.43" y="446" width="13.12" height="2.35" fill="#f1eef3"/><rect x="28.8" y="448.3" width="13.12" height="2.35" fill="#f5c3c5"/><rect x="41.87" y="448.3" width="13.12" height="2.35" fill="#f2a4a6"/><rect x="54.94" y="448.3" width="13.12" height="2.35" fill="#f7dcdd"/><rect x="68.01" y="448.3" width="13.12" height="2.35" fill="#f7dadb"/><rect x="81.08" y="448.3" width="13.12" height="2.35" fill="#f7e3e4"/><rect x="94.15" y="448.3" width="13.12" height="2.35" fill="#b6bad7"/><rect x="107.22" y="448.3" width="13.12" height="2.35" fill="#a9aed1"/><rect x="120.29" y="448.3" width="13.12" height="2.35" fill="#dbdbe8"/><rect x="133.36" y="448.3" width="13.12" height="2.35" fill="#eae7ef"/><rect x="146.43" y="448.3" width="13.12" height="2.35" fill="#efecf1"/><rect x="28.8" y="450.6" width="13.12" height="0.45" fill="#f5ccce"/><rect x="41.87" y="450.6" width="13.12" height="0.45" fill="#eb5256"/><rect x="54.94" y="450.6" width="13.12" height="0.45" fill="#f3acae"/><rect x="68.01" y="450.6" width="13.12" height="0.45" fill="#f4bcbe"/><rect x="81.08" y="450.6" width="13.12" height="0.45" fill="#f8eced"/><rect x="94.15" y="450.6" width="13.12" height="0.45" fill="#acb1d3"/><rect x="107.22" y="450.6" width="13.12" height="0.45" fill="#9aa1ca"/><rect x="120.29" y="450.6" width="13.12" height="0.45" fill="#e1e0eb"/><rect x="133.36" y="450.6" width="13.12" height="0.45" fill="#aaafd2"/><rect x="146.43" y="450.6" width="13.12" height="0.45" fill="#f9f0f1"/><rect x="28.8" y="451" width="13.12" height="2.35" fill="#dddce9"/><rect x="41.87" y="451" width="13.12" height="2.35" fill="#8f97c5"/><rect x="54.94" y="451" width="13.12" height="2.35" fill="#e9e7ef"/><rect x="68.01" y="451" width="13.12" height="2.35" fill="#b1b5d5"/><rect x="81.08" y="451" width="13.12" height="2.35" fill="#efecf1"/><rect x="94.15" y="451" width="13.12" height="2.35" fill="#f7dfe1"/><rect x="107.22" y="451" width="13.12" height="2.35" fill="#e83236"/><rect x="120.29" y="451" width="13.12" height="2.35" fill="#f7dbdd"/><rect x="133.36" y="451" width="13.12" height="2.35" fill="#ef7e81"/><rect x="146.43" y="451" width="13.12" height="2.35" fill="#f7d9db"/><rect x="28.8" y="453.3" width="13.12" height="2.35" fill="#e3e2ec"/><rect x="41.87" y="453.3" width="13.12" height="2.35" fill="#5564ab"/><rect x="54.94" y="453.3" width="13.12" height="2.35" fill="#e1e0eb"/><rect x="68.01" y="453.3" width="13.12" height="2.35" fill="#6774b3"/><rect x="81.08" y="453.3" width="13.12" height="2.35" fill="#e2e1eb"/><rect x="94.15" y="453.3" width="13.12" height="2.35" fill="#f2a8aa"/><rect x="107.22" y="453.3" width="13.12" height="2.35" fill="#ea494d"/><rect x="120.29" y="453.3" width="13.12" height="2.35" fill="#f6d4d5"/><rect x="133.36" y="453.3" width="13.12" height="2.35" fill="#f2aaad"/><rect x="146.43" y="453.3" width="13.12" height="2.35" fill="#f7d9da"/><rect x="28.8" y="455.6" width="13.12" height="0.45" fill="#dadae8"/><rect x="41.87" y="455.6" width="13.12" height="0.45" fill="#848ec0"/><rect x="54.94" y="455.6" width="13.12" height="0.45" fill="#e8e6ee"/><rect x="68.01" y="455.6" width="13.12" height="0.45" fill="#bec1db"/><rect x="81.08" y="455.6" width="13.12" height="0.45" fill="#e0dfeb"/><rect x="94.15" y="455.6" width="13.12" height="0.45" fill="#f2a3a5"/><rect x="107.22" y="455.6" width="13.12" height="0.45" fill="#e93d41"/><rect x="120.29" y="455.6" width="13.12" height="0.45" fill="#f7dfe0"/><rect x="133.36" y="455.6" width="13.12" height="0.45" fill="#f5c8ca"/><rect x="146.43" y="455.6" width="13.12" height="0.45" fill="#f8edee"/><rect x="28.8" y="456" width="13.12" height="2.35" fill="#dfdeea"/><rect x="41.87" y="456" width="13.12" height="2.35" fill="#808abe"/><rect x="54.94" y="456" width="13.12" height="2.35" fill="#f9f3f4"/><rect x="68.01" y="456" width="13.12" height="2.35" fill="#c4c6de"/><rect x="81.08" y="456" width="13.12" height="2.35" fill="#f5f1f4"/><rect x="94.15" y="456" width="13.12" height="2.35" fill="#f4c1c3"/><rect x="107.22" y="456" width="13.12" height="2.35" fill="#eb5a5d"/><rect x="120.29" y="456" width="13.12" height="2.35" fill="#f3afb1"/><rect x="133.36" y="456" width="13.12" height="2.35" fill="#f2a5a8"/><rect x="146.43" y="456" width="13.12" height="2.35" fill="#f8eced"/><rect x="28.8" y="458.3" width="13.12" height="2.35" fill="#eae8ef"/><rect x="41.87" y="458.3" width="13.12" height="2.35" fill="#808abe"/><rect x="54.94" y="458.3" width="13.12" height="2.35" fill="#f0edf2"/><rect x="68.01" y="458.3" width="13.12" height="2.35" fill="#5a69ad"/><rect x="81.08" y="458.3" width="13.12" height="2.35" fill="#e6e5ed"/><rect x="94.15" y="458.3" width="13.12" height="2.35" fill="#f3b5b7"/><rect x="107.22" y="458.3" width="13.12" height="2.35" fill="#ea4548"/><rect x="120.29" y="458.3" width="13.12" height="2.35" fill="#f19fa1"/><rect x="133.36" y="458.3" width="13.12" height="2.35" fill="#f1989b"/><rect x="146.43" y="458.3" width="13.12" height="2.35" fill="#f8e6e7"/><rect x="28.8" y="460.6" width="13.12" height="2.35" fill="#dfdeea"/><rect x="41.87" y="460.6" width="13.12" height="2.35" fill="#747fb9"/><rect x="54.94" y="460.6" width="13.12" height="2.35" fill="#edeaf0"/><rect x="68.01" y="460.6" width="13.12" height="2.35" fill="#9da4cc"/><rect x="81.08" y="460.6" width="13.12" height="2.35" fill="#eceaf0"/><rect x="94.15" y="460.6" width="13.12" height="2.35" fill="#f5c4c5"/><rect x="107.22" y="460.6" width="13.12" height="2.35" fill="#ea4347"/><rect x="120.29" y="460.6" width="13.12" height="2.35" fill="#f4c1c3"/><rect x="133.36" y="460.6" width="13.12" height="2.35" fill="#f08d90"/><rect x="146.43" y="460.6" width="13.12" height="2.35" fill="#f8e7e8"/><rect x="28.8" y="462.9" width="13.12" height="2.35" fill="#dcdbe9"/><rect x="41.87" y="462.9" width="13.12" height="2.35" fill="#818bbf"/><rect x="54.94" y="462.9" width="13.12" height="2.35" fill="#f9f4f5"/><rect x="68.01" y="462.9" width="13.12" height="2.35" fill="#b0b4d4"/><rect x="81.08" y="462.9" width="13.12" height="2.35" fill="#f9f2f3"/><rect x="94.15" y="462.9" width="13.12" height="2.35" fill="#f4bfc1"/><rect x="107.22" y="462.9" width="13.12" height="2.35" fill="#e83236"/><rect x="120.29" y="462.9" width="13.12" height="2.35" fill="#f2aaad"/><rect x="133.36" y="462.9" width="13.12" height="2.35" fill="#ee7c7f"/><rect x="146.43" y="462.9" width="13.12" height="2.35" fill="#f6cecf"/><rect x="28.8" y="465.2" width="13.12" height="0.85" fill="#f6f2f5"/><rect x="41.87" y="465.2" width="13.12" height="0.85" fill="#5a69ad"/><rect x="54.94" y="465.2" width="13.12" height="0.85" fill="#f9f4f5"/><rect x="68.01" y="465.2" width="13.12" height="0.85" fill="#a0a6cd"/><rect x="81.08" y="465.2" width="13.12" height="0.85" fill="#dedde9"/><rect x="94.15" y="465.2" width="13.12" height="0.85" fill="#f4c0c2"/><rect x="107.22" y="465.2" width="13.12" height="0.85" fill="#ef8285"/><rect x="120.29" y="465.2" width="13.12" height="0.85" fill="#f3b5b7"/><rect x="133.36" y="465.2" width="13.12" height="0.85" fill="#f3adaf"/><rect x="146.43" y="465.2" width="13.12" height="0.85" fill="#f5cacb"/><rect x="28.8" y="466" width="13.12" height="2.35" fill="#c8cadf"/><rect x="41.87" y="466" width="13.12" height="2.35" fill="#4758a4"/><rect x="54.94" y="466" width="13.12" height="2.35" fill="#d0d1e3"/><rect x="68.01" y="466" width="13.12" height="2.35" fill="#cccde1"/><rect x="81.08" y="466" width="13.12" height="2.35" fill="#dbdbe8"/><rect x="94.15" y="466" width="13.12" height="2.35" fill="#f0888b"/><rect x="107.22" y="466" width="13.12" height="2.35" fill="#f3b3b5"/><rect x="120.29" y="466" width="13.12" height="2.35" fill="#f6d5d7"/><rect x="133.36" y="466" width="13.12" height="2.35" fill="#f2a0a2"/><rect x="146.43" y="466" width="13.12" height="2.35" fill="#f5cacc"/><rect x="28.8" y="468.3" width="13.12" height="2.35" fill="#e2e1eb"/><rect x="41.87" y="468.3" width="13.12" height="2.35" fill="#4a5ba6"/><rect x="54.94" y="468.3" width="13.12" height="2.35" fill="#d3d4e5"/><rect x="68.01" y="468.3" width="13.12" height="2.35" fill="#c9cae0"/><rect x="81.08" y="468.3" width="13.12" height="2.35" fill="#dcdce9"/><rect x="94.15" y="468.3" width="13.12" height="2.35" fill="#f4babb"/><rect x="107.22" y="468.3" width="13.12" height="2.35" fill="#f08f92"/><rect x="120.29" y="468.3" width="13.12" height="2.35" fill="#f7e1e2"/><rect x="133.36" y="468.3" width="13.12" height="2.35" fill="#f5c9cb"/><rect x="146.43" y="468.3" width="13.12" height="2.35" fill="#f6cfd0"/><rect x="28.8" y="470.6" width="13.12" height="2.35" fill="#eeecf1"/><rect x="41.87" y="470.6" width="13.12" height="2.35" fill="#6472b2"/><rect x="54.94" y="470.6" width="13.12" height="2.35" fill="#dddce9"/><rect x="68.01" y="470.6" width="13.12" height="2.35" fill="#c2c5dd"/><rect x="81.08" y="470.6" width="13.12" height="2.35" fill="#b6bad7"/><rect x="94.15" y="470.6" width="13.12" height="2.35" fill="#f4c1c3"/><rect x="107.22" y="470.6" width="13.12" height="2.35" fill="#f2a0a3"/><rect x="120.29" y="470.6" width="13.12" height="2.35" fill="#f6d5d7"/><rect x="133.36" y="470.6" width="13.12" height="2.35" fill="#f4bdbf"/><rect x="146.43" y="470.6" width="13.12" height="2.35" fill="#f3b3b5"/><rect x="28.8" y="472.9" width="13.12" height="2.35" fill="#dfdeea"/><rect x="41.87" y="472.9" width="13.12" height="2.35" fill="#8892c2"/><rect x="54.94" y="472.9" width="13.12" height="2.35" fill="#dad9e8"/><rect x="68.01" y="472.9" width="13.12" height="2.35" fill="#bbbfda"/><rect x="81.08" y="472.9" width="13.12" height="2.35" fill="#b9bdd9"/><rect x="94.15" y="472.9" width="13.12" height="2.35" fill="#f2a5a7"/><rect x="107.22" y="472.9" width="13.12" height="2.35" fill="#ee7b7e"/><rect x="120.29" y="472.9" width="13.12" height="2.35" fill="#f7dcdd"/><rect x="133.36" y="472.9" width="13.12" height="2.35" fill="#f6d6d7"/><rect x="146.43" y="472.9" width="13.12" height="2.35" fill="#f6cfd1"/><rect x="28.8" y="475.2" width="13.12" height="0.85" fill="#b8bbd8"/><rect x="41.87" y="475.2" width="13.12" height="0.85" fill="#5c6bae"/><rect x="54.94" y="475.2" width="13.12" height="0.85" fill="#d6d6e6"/><rect x="68.01" y="475.2" width="13.12" height="0.85" fill="#cbcce1"/><rect x="81.08" y="475.2" width="13.12" height="0.85" fill="#a9afd1"/><rect x="94.15" y="475.2" width="13.12" height="0.85" fill="#f4bbbd"/><rect x="107.22" y="475.2" width="13.12" height="0.85" fill="#e9393c"/><rect x="120.29" y="475.2" width="13.12" height="0.85" fill="#f7d9da"/><rect x="133.36" y="475.2" width="13.12" height="0.85" fill="#f5c5c6"/><rect x="146.43" y="475.2" width="13.12" height="0.85" fill="#f7dcde"/><rect x="28.8" y="476" width="13.12" height="2.35" fill="#cbcde1"/><rect x="41.87" y="476" width="13.12" height="2.35" fill="#e5e3ed"/><rect x="54.94" y="476" width="13.12" height="2.35" fill="#979fc9"/><rect x="68.01" y="476" width="13.12" height="2.35" fill="#cecfe2"/><rect x="81.08" y="476" width="13.12" height="2.35" fill="#aaafd1"/><rect x="94.15" y="476" width="13.12" height="2.35" fill="#f6d4d5"/><rect x="107.22" y="476" width="13.12" height="2.35" fill="#f2a6a8"/><rect x="120.29" y="476" width="13.12" height="2.35" fill="#ed696c"/><rect x="133.36" y="476" width="13.12" height="2.35" fill="#ea4c50"/><rect x="146.43" y="476" width="13.12" height="2.35" fill="#f1999c"/><rect x="28.8" y="478.3" width="13.12" height="2.35" fill="#bec1db"/><rect x="41.87" y="478.3" width="13.12" height="2.35" fill="#f1eef2"/><rect x="54.94" y="478.3" width="13.12" height="2.35" fill="#b9bcd8"/><rect x="68.01" y="478.3" width="13.12" height="2.35" fill="#c6c8df"/><rect x="81.08" y="478.3" width="13.12" height="2.35" fill="#c0c2dc"/><rect x="94.15" y="478.3" width="13.12" height="2.35" fill="#f7dfe0"/><rect x="107.22" y="478.3" width="13.12" height="2.35" fill="#f3b2b4"/><rect x="120.29" y="478.3" width="13.12" height="2.35" fill="#f4bcbe"/><rect x="133.36" y="478.3" width="13.12" height="2.35" fill="#ed6e71"/><rect x="146.43" y="478.3" width="13.12" height="2.35" fill="#f4bdbf"/><rect x="28.8" y="480.6" width="13.12" height="2.35" fill="#b5b9d7"/><rect x="41.87" y="480.6" width="13.12" height="2.35" fill="#f0edf2"/><rect x="54.94" y="480.6" width="13.12" height="2.35" fill="#deddea"/><rect x="68.01" y="480.6" width="13.12" height="2.35" fill="#7883bb"/><rect x="81.08" y="480.6" width="13.12" height="2.35" fill="#cecfe2"/><rect x="94.15" y="480.6" width="13.12" height="2.35" fill="#f5cacb"/><rect x="107.22" y="480.6" width="13.12" height="2.35" fill="#f5c7c9"/><rect x="120.29" y="480.6" width="13.12" height="2.35" fill="#f3b5b7"/><rect x="133.36" y="480.6" width="13.12" height="2.35" fill="#f3b1b3"/><rect x="146.43" y="480.6" width="13.12" height="2.35" fill="#f7dbdd"/><rect x="28.8" y="482.9" width="13.12" height="2.35" fill="#b5b9d7"/><rect x="41.87" y="482.9" width="13.12" height="2.35" fill="#e1dfeb"/><rect x="54.94" y="482.9" width="13.12" height="2.35" fill="#a5aacf"/><rect x="68.01" y="482.9" width="13.12" height="2.35" fill="#b6bad7"/><rect x="81.08" y="482.9" width="13.12" height="2.35" fill="#a5abcf"/><rect x="94.15" y="482.9" width="13.12" height="2.35" fill="#f5c9cb"/><rect x="107.22" y="482.9" width="13.12" height="2.35" fill="#f2a8aa"/><rect x="120.29" y="482.9" width="13.12" height="2.35" fill="#ee787b"/><rect x="133.36" y="482.9" width="13.12" height="2.35" fill="#f08d90"/><rect x="146.43" y="482.9" width="13.12" height="2.35" fill="#f08c8f"/><rect x="28.8" y="485.2" width="13.12" height="0.85" fill="#b3b7d6"/><rect x="41.87" y="485.2" width="13.12" height="0.85" fill="#f8f4f6"/><rect x="54.94" y="485.2" width="13.12" height="0.85" fill="#9ea5cc"/><rect x="68.01" y="485.2" width="13.12" height="0.85" fill="#bec1db"/><rect x="81.08" y="485.2" width="13.12" height="0.85" fill="#c7c9df"/><rect x="94.15" y="485.2" width="13.12" height="0.85" fill="#f5c7c9"/><rect x="107.22" y="485.2" width="13.12" height="0.85" fill="#f2a0a2"/><rect x="120.29" y="485.2" width="13.12" height="0.85" fill="#f6ced0"/><rect x="133.36" y="485.2" width="13.12" height="0.85" fill="#f4c0c2"/><rect x="146.43" y="485.2" width="13.12" height="0.85" fill="#f5c3c5"/><rect x="28.8" y="486" width="13.12" height="2.35" fill="#d0d1e3"/><rect x="41.87" y="486" width="13.12" height="2.35" fill="#aab0d2"/><rect x="54.94" y="486" width="13.12" height="2.35" fill="#5b6aad"/><rect x="68.01" y="486" width="13.12" height="2.35" fill="#a7add0"/><rect x="81.08" y="486" width="13.12" height="2.35" fill="#d1d1e3"/><rect x="94.15" y="486" width="13.12" height="2.35" fill="#f4bbbd"/><rect x="107.22" y="486" width="13.12" height="2.35" fill="#f5cbcc"/><rect x="120.29" y="486" width="13.12" height="2.35" fill="#f08d90"/><rect x="133.36" y="486" width="13.12" height="2.35" fill="#f09093"/><rect x="146.43" y="486" width="13.12" height="2.35" fill="#f6d0d2"/><rect x="28.8" y="488.3" width="13.12" height="2.35" fill="#dfdeea"/><rect x="41.87" y="488.3" width="13.12" height="2.35" fill="#a4aacf"/><rect x="54.94" y="488.3" width="13.12" height="2.35" fill="#a2a8ce"/><rect x="68.01" y="488.3" width="13.12" height="2.35" fill="#a1a8ce"/><rect x="81.08" y="488.3" width="13.12" height="2.35" fill="#cbcce1"/><rect x="94.15" y="488.3" width="13.12" height="2.35" fill="#f3b3b5"/><rect x="107.22" y="488.3" width="13.12" height="2.35" fill="#f7dfe0"/><rect x="120.29" y="488.3" width="13.12" height="2.35" fill="#ec5d60"/><rect x="133.36" y="488.3" width="13.12" height="2.35" fill="#ed6a6e"/><rect x="146.43" y="488.3" width="13.12" height="2.35" fill="#f5c6c7"/><rect x="28.8" y="490.6" width="13.12" height="2.35" fill="#c8cae0"/><rect x="41.87" y="490.6" width="13.12" height="2.35" fill="#a5abcf"/><rect x="54.94" y="490.6" width="13.12" height="2.35" fill="#a4aacf"/><rect x="68.01" y="490.6" width="13.12" height="2.35" fill="#a1a7cd"/><rect x="81.08" y="490.6" width="13.12" height="2.35" fill="#d9d9e7"/><rect x="94.15" y="490.6" width="13.12" height="2.35" fill="#f6d6d8"/><rect x="107.22" y="490.6" width="13.12" height="2.35" fill="#f3b2b4"/><rect x="120.29" y="490.6" width="13.12" height="2.35" fill="#ec5c60"/><rect x="133.36" y="490.6" width="13.12" height="2.35" fill="#f19a9c"/><rect x="146.43" y="490.6" width="13.12" height="2.35" fill="#f5c9cb"/><rect x="28.8" y="492.9" width="13.12" height="2.35" fill="#afb4d4"/><rect x="41.87" y="492.9" width="13.12" height="2.35" fill="#c5c7de"/><rect x="54.94" y="492.9" width="13.12" height="2.35" fill="#717db7"/><rect x="68.01" y="492.9" width="13.12" height="2.35" fill="#cfd0e3"/><rect x="81.08" y="492.9" width="13.12" height="2.35" fill="#e8e6ee"/><rect x="94.15" y="492.9" width="13.12" height="2.35" fill="#f3b0b2"/><rect x="107.22" y="492.9" width="13.12" height="2.35" fill="#f5c8ca"/><rect x="120.29" y="492.9" width="13.12" height="2.35" fill="#ea474a"/><rect x="133.36" y="492.9" width="13.12" height="2.35" fill="#f08d8f"/><rect x="146.43" y="492.9" width="13.12" height="2.35" fill="#f4b6b8"/><rect x="28.8" y="495.2" width="13.12" height="0.85" fill="#cccde1"/><rect x="41.87" y="495.2" width="13.12" height="0.85" fill="#7984bb"/><rect x="54.94" y="495.2" width="13.12" height="0.85" fill="#6b78b5"/><rect x="68.01" y="495.2" width="13.12" height="0.85" fill="#7b86bc"/><rect x="81.08" y="495.2" width="13.12" height="0.85" fill="#d2d3e4"/><rect x="94.15" y="495.2" width="13.12" height="0.85" fill="#f7dcdd"/><rect x="107.22" y="495.2" width="13.12" height="0.85" fill="#f4c1c3"/><rect x="120.29" y="495.2" width="13.12" height="0.85" fill="#f2a9ab"/><rect x="133.36" y="495.2" width="13.12" height="0.85" fill="#ed7073"/><rect x="146.43" y="495.2" width="13.12" height="0.85" fill="#f7e2e3"/><rect x="28.8" y="496" width="13.12" height="2.35" fill="#f3eff3"/><rect x="41.87" y="496" width="13.12" height="2.35" fill="#eceaf0"/><rect x="54.94" y="496" width="13.12" height="2.35" fill="#b5b9d7"/><rect x="68.01" y="496" width="13.12" height="2.35" fill="#a1a8ce"/><rect x="81.08" y="496" width="13.12" height="2.35" fill="#d6d6e6"/><rect x="94.15" y="496" width="13.12" height="2.35" fill="#f8e6e7"/><rect x="107.22" y="496" width="13.12" height="2.35" fill="#f7dddf"/><rect x="120.29" y="496" width="13.12" height="2.35" fill="#ed7073"/><rect x="133.36" y="496" width="13.12" height="2.35" fill="#ed6e71"/><rect x="146.43" y="496" width="13.12" height="2.35" fill="#f2a5a7"/><rect x="28.8" y="498.3" width="13.12" height="2.35" fill="#f2eff3"/><rect x="41.87" y="498.3" width="13.12" height="2.35" fill="#eceaf0"/><rect x="54.94" y="498.3" width="13.12" height="2.35" fill="#b4b8d6"/><rect x="68.01" y="498.3" width="13.12" height="2.35" fill="#b8bcd8"/><rect x="81.08" y="498.3" width="13.12" height="2.35" fill="#a4aacf"/><rect x="94.15" y="498.3" width="13.12" height="2.35" fill="#f7d9da"/><rect x="107.22" y="498.3" width="13.12" height="2.35" fill="#f6d0d2"/><rect x="120.29" y="498.3" width="13.12" height="2.35" fill="#f0898c"/><rect x="133.36" y="498.3" width="13.12" height="2.35" fill="#e83437"/><rect x="146.43" y="498.3" width="13.12" height="2.35" fill="#f19b9e"/><rect x="28.8" y="500.6" width="13.12" height="2.35" fill="#eeebf1"/><rect x="41.87" y="500.6" width="13.12" height="2.35" fill="#d9d9e7"/><rect x="54.94" y="500.6" width="13.12" height="2.35" fill="#d0d1e3"/><rect x="68.01" y="500.6" width="13.12" height="2.35" fill="#aeb2d3"/><rect x="81.08" y="500.6" width="13.12" height="2.35" fill="#b5b9d7"/><rect x="94.15" y="500.6" width="13.12" height="2.35" fill="#f5c7c9"/><rect x="107.22" y="500.6" width="13.12" height="2.35" fill="#f5cbcd"/><rect x="120.29" y="500.6" width="13.12" height="2.35" fill="#f19c9f"/><rect x="133.36" y="500.6" width="13.12" height="2.35" fill="#ec5d60"/><rect x="146.43" y="500.6" width="13.12" height="2.35" fill="#f2aaac"/><rect x="28.8" y="502.9" width="13.12" height="2.35" fill="#f2eff3"/><rect x="41.87" y="502.9" width="13.12" height="2.35" fill="#e2e0eb"/><rect x="54.94" y="502.9" width="13.12" height="2.35" fill="#a0a7cd"/><rect x="68.01" y="502.9" width="13.12" height="2.35" fill="#737fb8"/><rect x="81.08" y="502.9" width="13.12" height="2.35" fill="#848dc0"/><rect x="94.15" y="502.9" width="13.12" height="2.35" fill="#f6d7d8"/><rect x="107.22" y="502.9" width="13.12" height="2.35" fill="#f7e0e1"/><rect x="120.29" y="502.9" width="13.12" height="2.35" fill="#f09395"/><rect x="133.36" y="502.9" width="13.12" height="2.35" fill="#ea4a4e"/><rect x="146.43" y="502.9" width="13.12" height="2.35" fill="#ee7174"/><rect x="28.8" y="505.2" width="13.12" height="0.85" fill="#d9d9e7"/><rect x="41.87" y="505.2" width="13.12" height="0.85" fill="#dcdce9"/><rect x="54.94" y="505.2" width="13.12" height="0.85" fill="#bbbed9"/><rect x="68.01" y="505.2" width="13.12" height="0.85" fill="#7a85bc"/><rect x="81.08" y="505.2" width="13.12" height="0.85" fill="#b2b6d5"/><rect x="94.15" y="505.2" width="13.12" height="0.85" fill="#f7dedf"/><rect x="107.22" y="505.2" width="13.12" height="0.85" fill="#f8e5e6"/><rect x="120.29" y="505.2" width="13.12" height="0.85" fill="#f4babc"/><rect x="133.36" y="505.2" width="13.12" height="0.85" fill="#f19b9d"/><rect x="146.43" y="505.2" width="13.12" height="0.85" fill="#f4b7b9"/><rect x="28.8" y="506" width="13.12" height="2.35" fill="#c7c8df"/><rect x="41.87" y="506" width="13.12" height="2.35" fill="#afb4d4"/><rect x="54.94" y="506" width="13.12" height="2.35" fill="#a3a9cf"/><rect x="68.01" y="506" width="13.12" height="2.35" fill="#adb2d3"/><rect x="81.08" y="506" width="13.12" height="2.35" fill="#7c86bc"/><rect x="94.15" y="506" width="13.12" height="2.35" fill="#f7ddde"/><rect x="107.22" y="506" width="13.12" height="2.35" fill="#f5cdce"/><rect x="120.29" y="506" width="13.12" height="2.35" fill="#f08d8f"/><rect x="133.36" y="506" width="13.12" height="2.35" fill="#f7dadb"/><rect x="146.43" y="506" width="13.12" height="2.35" fill="#ee7275"/><rect x="28.8" y="508.3" width="13.12" height="2.35" fill="#e2e1ec"/><rect x="41.87" y="508.3" width="13.12" height="2.35" fill="#bec1db"/><rect x="54.94" y="508.3" width="13.12" height="2.35" fill="#b0b4d4"/><rect x="68.01" y="508.3" width="13.12" height="2.35" fill="#9199c6"/><rect x="81.08" y="508.3" width="13.12" height="2.35" fill="#4d5ea7"/><rect x="94.15" y="508.3" width="13.12" height="2.35" fill="#f7dcde"/><rect x="107.22" y="508.3" width="13.12" height="2.35" fill="#f6d5d7"/><rect x="120.29" y="508.3" width="13.12" height="2.35" fill="#f2a3a6"/><rect x="133.36" y="508.3" width="13.12" height="2.35" fill="#f5c9cb"/><rect x="146.43" y="508.3" width="13.12" height="2.35" fill="#f09193"/><rect x="28.8" y="510.6" width="13.12" height="2.35" fill="#cbcce1"/><rect x="41.87" y="510.6" width="13.12" height="2.35" fill="#dddce9"/><rect x="54.94" y="510.6" width="13.12" height="2.35" fill="#8791c2"/><rect x="68.01" y="510.6" width="13.12" height="2.35" fill="#adb2d3"/><rect x="81.08" y="510.6" width="13.12" height="2.35" fill="#727eb8"/><rect x="94.15" y="510.6" width="13.12" height="2.35" fill="#f8e5e7"/><rect x="107.22" y="510.6" width="13.12" height="2.35" fill="#f5c4c6"/><rect x="120.29" y="510.6" width="13.12" height="2.35" fill="#f09093"/><rect x="133.36" y="510.6" width="13.12" height="2.35" fill="#f5c6c8"/><rect x="146.43" y="510.6" width="13.12" height="2.35" fill="#ed676a"/><rect x="28.8" y="512.9" width="13.12" height="2.35" fill="#e9e7ef"/><rect x="41.87" y="512.9" width="13.12" height="2.35" fill="#c7c9df"/><rect x="54.94" y="512.9" width="13.12" height="2.35" fill="#9aa1ca"/><rect x="68.01" y="512.9" width="13.12" height="2.35" fill="#c4c7de"/><rect x="81.08" y="512.9" width="13.12" height="2.35" fill="#7782ba"/><rect x="94.15" y="512.9" width="13.12" height="2.35" fill="#f5c2c4"/><rect x="107.22" y="512.9" width="13.12" height="2.35" fill="#f19d9f"/><rect x="120.29" y="512.9" width="13.12" height="2.35" fill="#ec6064"/><rect x="133.36" y="512.9" width="13.12" height="2.35" fill="#f5cacc"/><rect x="146.43" y="512.9" width="13.12" height="2.35" fill="#eb5256"/><rect x="28.8" y="515.2" width="13.12" height="0.85" fill="#dcdce9"/><rect x="41.87" y="515.2" width="13.12" height="0.85" fill="#919ac6"/><rect x="54.94" y="515.2" width="13.12" height="0.85" fill="#b8bcd8"/><rect x="68.01" y="515.2" width="13.12" height="0.85" fill="#cfd0e3"/><rect x="81.08" y="515.2" width="13.12" height="0.85" fill="#616fb0"/><rect x="94.15" y="515.2" width="13.12" height="0.85" fill="#f9f5f6"/><rect x="107.22" y="515.2" width="13.12" height="0.85" fill="#f2a8aa"/><rect x="120.29" y="515.2" width="13.12" height="0.85" fill="#ef8183"/><rect x="133.36" y="515.2" width="13.12" height="0.85" fill="#f4b7b9"/><rect x="146.43" y="515.2" width="13.12" height="0.85" fill="#f19799"/><rect x="28.8" y="516" width="13.12" height="2.35" fill="#f9f5f6"/><rect x="41.87" y="516" width="13.12" height="2.35" fill="#9ea5cc"/><rect x="54.94" y="516" width="13.12" height="2.35" fill="#d6d6e6"/><rect x="68.01" y="516" width="13.12" height="2.35" fill="#9199c6"/><rect x="81.08" y="516" width="13.12" height="2.35" fill="#6674b3"/><rect x="94.15" y="516" width="13.12" height="2.35" fill="#f5c8c9"/><rect x="107.22" y="516" width="13.12" height="2.35" fill="#f3adaf"/><rect x="120.29" y="516" width="13.12" height="2.35" fill="#f4c1c3"/><rect x="133.36" y="516" width="13.12" height="2.35" fill="#ec6265"/><rect x="146.43" y="516" width="13.12" height="2.35" fill="#f5cacc"/><rect x="28.8" y="518.3" width="13.12" height="2.35" fill="#f3f0f3"/><rect x="41.87" y="518.3" width="13.12" height="2.35" fill="#bbbed9"/><rect x="54.94" y="518.3" width="13.12" height="2.35" fill="#cacce1"/><rect x="68.01" y="518.3" width="13.12" height="2.35" fill="#848dc0"/><rect x="81.08" y="518.3" width="13.12" height="2.35" fill="#5766ab"/><rect x="94.15" y="518.3" width="13.12" height="2.35" fill="#f7dedf"/><rect x="107.22" y="518.3" width="13.12" height="2.35" fill="#f3acae"/><rect x="120.29" y="518.3" width="13.12" height="2.35" fill="#f2a0a2"/><rect x="133.36" y="518.3" width="13.12" height="2.35" fill="#f08f92"/><rect x="146.43" y="518.3" width="13.12" height="2.35" fill="#f19597"/><rect x="28.8" y="520.6" width="13.12" height="2.35" fill="#eeebf1"/><rect x="41.87" y="520.6" width="13.12" height="2.35" fill="#8e96c5"/><rect x="54.94" y="520.6" width="13.12" height="2.35" fill="#e8e6ee"/><rect x="68.01" y="520.6" width="13.12" height="2.35" fill="#5060a8"/><rect x="81.08" y="520.6" width="13.12" height="2.35" fill="#c1c4dc"/><rect x="94.15" y="520.6" width="13.12" height="2.35" fill="#f5c5c7"/><rect x="107.22" y="520.6" width="13.12" height="2.35" fill="#f08e90"/><rect x="120.29" y="520.6" width="13.12" height="2.35" fill="#f4c1c3"/><rect x="133.36" y="520.6" width="13.12" height="2.35" fill="#ed696c"/><rect x="146.43" y="520.6" width="13.12" height="2.35" fill="#f1989a"/><rect x="28.8" y="522.9" width="13.12" height="2.35" fill="#e9e6ee"/><rect x="41.87" y="522.9" width="13.12" height="2.35" fill="#e2e0eb"/><rect x="54.94" y="522.9" width="13.12" height="2.35" fill="#dcdbe9"/><rect x="68.01" y="522.9" width="13.12" height="2.35" fill="#717db7"/><rect x="81.08" y="522.9" width="13.12" height="2.35" fill="#5565ab"/><rect x="94.15" y="522.9" width="13.12" height="2.35" fill="#f5c4c6"/><rect x="107.22" y="522.9" width="13.12" height="2.35" fill="#ef8284"/><rect x="120.29" y="522.9" width="13.12" height="2.35" fill="#f6d6d7"/><rect x="133.36" y="522.9" width="13.12" height="2.35" fill="#ec6366"/><rect x="146.43" y="522.9" width="13.12" height="2.35" fill="#ef8083"/><rect x="28.8" y="525.2" width="13.12" height="0.85" fill="#e9e7ef"/><rect x="41.87" y="525.2" width="13.12" height="0.85" fill="#cbcce1"/><rect x="54.94" y="525.2" width="13.12" height="0.85" fill="#babdd9"/><rect x="68.01" y="525.2" width="13.12" height="0.85" fill="#aeb3d3"/><rect x="81.08" y="525.2" width="13.12" height="0.85" fill="#bcbfda"/><rect x="94.15" y="525.2" width="13.12" height="0.85" fill="#f8e5e7"/><rect x="107.22" y="525.2" width="13.12" height="0.85" fill="#f2a0a3"/><rect x="120.29" y="525.2" width="13.12" height="0.85" fill="#f2a8aa"/><rect x="133.36" y="525.2" width="13.12" height="0.85" fill="#ee7376"/><rect x="146.43" y="525.2" width="13.12" height="0.85" fill="#f6d1d3"/><rect x="28.8" y="526" width="13.12" height="2.35" fill="#d8d8e7"/><rect x="41.87" y="526" width="13.12" height="2.35" fill="#e7e5ee"/><rect x="54.94" y="526" width="13.12" height="2.35" fill="#e7e5ee"/><rect x="68.01" y="526" width="13.12" height="2.35" fill="#a4aacf"/><rect x="81.08" y="526" width="13.12" height="2.35" fill="#b8bcd8"/><rect x="94.15" y="526" width="13.12" height="2.35" fill="#ee7a7d"/><rect x="107.22" y="526" width="13.12" height="2.35" fill="#f3b0b2"/><rect x="120.29" y="526" width="13.12" height="2.35" fill="#f9f4f5"/><rect x="133.36" y="526" width="13.12" height="2.35" fill="#e9383c"/><rect x="146.43" y="526" width="13.12" height="2.35" fill="#f0898b"/><rect x="28.8" y="528.3" width="13.12" height="2.35" fill="#b6bad7"/><rect x="41.87" y="528.3" width="13.12" height="2.35" fill="#e4e2ec"/><rect x="54.94" y="528.3" width="13.12" height="2.35" fill="#f9f5f6"/><rect x="68.01" y="528.3" width="13.12" height="2.35" fill="#a0a7cd"/><rect x="81.08" y="528.3" width="13.12" height="2.35" fill="#c0c3dc"/><rect x="94.15" y="528.3" width="13.12" height="2.35" fill="#f29fa1"/><rect x="107.22" y="528.3" width="13.12" height="2.35" fill="#f6cdcf"/><rect x="120.29" y="528.3" width="13.12" height="2.35" fill="#f9f5f6"/><rect x="133.36" y="528.3" width="13.12" height="2.35" fill="#f09395"/><rect x="146.43" y="528.3" width="13.12" height="2.35" fill="#f3b5b7"/><rect x="28.8" y="530.6" width="13.12" height="2.35" fill="#cecfe2"/><rect x="41.87" y="530.6" width="13.12" height="2.35" fill="#d9d9e7"/><rect x="54.94" y="530.6" width="13.12" height="2.35" fill="#f9f3f4"/><rect x="68.01" y="530.6" width="13.12" height="2.35" fill="#828cbf"/><rect x="81.08" y="530.6" width="13.12" height="2.35" fill="#959cc8"/><rect x="94.15" y="530.6" width="13.12" height="2.35" fill="#f2a5a7"/><rect x="107.22" y="530.6" width="13.12" height="2.35" fill="#f5c3c4"/><rect x="120.29" y="530.6" width="13.12" height="2.35" fill="#f7dedf"/><rect x="133.36" y="530.6" width="13.12" height="2.35" fill="#ef8789"/><rect x="146.43" y="530.6" width="13.12" height="2.35" fill="#f09396"/><rect x="28.8" y="532.9" width="13.12" height="2.35" fill="#c9cae0"/><rect x="41.87" y="532.9" width="13.12" height="2.35" fill="#d4d5e5"/><rect x="54.94" y="532.9" width="13.12" height="2.35" fill="#e7e5ed"/><rect x="68.01" y="532.9" width="13.12" height="2.35" fill="#5261a9"/><rect x="81.08" y="532.9" width="13.12" height="2.35" fill="#c9cbe0"/><rect x="94.15" y="532.9" width="13.12" height="2.35" fill="#f3b0b2"/><rect x="107.22" y="532.9" width="13.12" height="2.35" fill="#f3b4b6"/><rect x="120.29" y="532.9" width="13.12" height="2.35" fill="#f8eff0"/><rect x="133.36" y="532.9" width="13.12" height="2.35" fill="#f19799"/><rect x="146.43" y="532.9" width="13.12" height="2.35" fill="#f3acae"/><rect x="28.8" y="535.2" width="13.12" height="0.85" fill="#c7c9df"/><rect x="41.87" y="535.2" width="13.12" height="0.85" fill="#d7d7e6"/><rect x="54.94" y="535.2" width="13.12" height="0.85" fill="#f0edf2"/><rect x="68.01" y="535.2" width="13.12" height="0.85" fill="#8d96c4"/><rect x="81.08" y="535.2" width="13.12" height="0.85" fill="#afb4d4"/><rect x="94.15" y="535.2" width="13.12" height="0.85" fill="#f4bfc0"/><rect x="107.22" y="535.2" width="13.12" height="0.85" fill="#f5c6c8"/><rect x="120.29" y="535.2" width="13.12" height="0.85" fill="#f9f0f1"/><rect x="133.36" y="535.2" width="13.12" height="0.85" fill="#e93c40"/><rect x="146.43" y="535.2" width="13.12" height="0.85" fill="#f2a6a8"/><rect x="28.8" y="536" width="13.12" height="2.35" fill="#edeaf0"/><rect x="41.87" y="536" width="13.12" height="2.35" fill="#d7d7e6"/><rect x="54.94" y="536" width="13.12" height="2.35" fill="#f7f3f5"/><rect x="68.01" y="536" width="13.12" height="2.35" fill="#717db7"/><rect x="81.08" y="536" width="13.12" height="2.35" fill="#a0a7cd"/><rect x="94.15" y="536" width="13.12" height="2.35" fill="#f5cacc"/><rect x="107.22" y="536" width="13.12" height="2.35" fill="#f4babc"/><rect x="120.29" y="536" width="13.12" height="2.35" fill="#f7dcdd"/><rect x="133.36" y="536" width="13.12" height="2.35" fill="#ea484c"/><rect x="146.43" y="536" width="13.12" height="2.35" fill="#eb5558"/><rect x="28.8" y="538.3" width="13.12" height="2.35" fill="#f2eff3"/><rect x="41.87" y="538.3" width="13.12" height="2.35" fill="#d7d7e6"/><rect x="54.94" y="538.3" width="13.12" height="2.35" fill="#d8d8e7"/><rect x="68.01" y="538.3" width="13.12" height="2.35" fill="#707cb7"/><rect x="81.08" y="538.3" width="13.12" height="2.35" fill="#606eb0"/><rect x="94.15" y="538.3" width="13.12" height="2.35" fill="#f5c4c6"/><rect x="107.22" y="538.3" width="13.12" height="2.35" fill="#f7e0e1"/><rect x="120.29" y="538.3" width="13.12" height="2.35" fill="#f9eff0"/><rect x="133.36" y="538.3" width="13.12" height="2.35" fill="#e83236"/><rect x="146.43" y="538.3" width="13.12" height="2.35" fill="#ec5e62"/><rect x="28.8" y="540.6" width="13.12" height="2.35" fill="#efecf1"/><rect x="41.87" y="540.6" width="13.12" height="2.35" fill="#dcdbe9"/><rect x="54.94" y="540.6" width="13.12" height="2.35" fill="#dfdeea"/><rect x="68.01" y="540.6" width="13.12" height="2.35" fill="#4758a4"/><rect x="81.08" y="540.6" width="13.12" height="2.35" fill="#5b6aad"/><rect x="94.15" y="540.6" width="13.12" height="2.35" fill="#f5cacb"/><rect x="107.22" y="540.6" width="13.12" height="2.35" fill="#f5c7c9"/><rect x="120.29" y="540.6" width="13.12" height="2.35" fill="#f8e5e7"/><rect x="133.36" y="540.6" width="13.12" height="2.35" fill="#ed6b6e"/><rect x="146.43" y="540.6" width="13.12" height="2.35" fill="#f2a7aa"/><rect x="28.8" y="542.9" width="13.12" height="2.35" fill="#f2eff3"/><rect x="41.87" y="542.9" width="13.12" height="2.35" fill="#e6e4ed"/><rect x="54.94" y="542.9" width="13.12" height="2.35" fill="#edeaf0"/><rect x="68.01" y="542.9" width="13.12" height="2.35" fill="#6e7bb6"/><rect x="81.08" y="542.9" width="13.12" height="2.35" fill="#969dc8"/><rect x="94.15" y="542.9" width="13.12" height="2.35" fill="#f6d3d5"/><rect x="107.22" y="542.9" width="13.12" height="2.35" fill="#f6ced0"/><rect x="120.29" y="542.9" width="13.12" height="2.35" fill="#f6d4d6"/><rect x="133.36" y="542.9" width="13.12" height="2.35" fill="#ee7578"/><rect x="146.43" y="542.9" width="13.12" height="2.35" fill="#ea494d"/><rect x="28.8" y="545.2" width="13.12" height="0.85" fill="#dedde9"/><rect x="41.87" y="545.2" width="13.12" height="0.85" fill="#d7d7e6"/><rect x="54.94" y="545.2" width="13.12" height="0.85" fill="#ebe9f0"/><rect x="68.01" y="545.2" width="13.12" height="0.85" fill="#c3c5dd"/><rect x="81.08" y="545.2" width="13.12" height="0.85" fill="#7d88bd"/><rect x="94.15" y="545.2" width="13.12" height="0.85" fill="#f7dedf"/><rect x="107.22" y="545.2" width="13.12" height="0.85" fill="#f7dfe0"/><rect x="120.29" y="545.2" width="13.12" height="0.85" fill="#f9f0f1"/><rect x="133.36" y="545.2" width="13.12" height="0.85" fill="#f08b8e"/><rect x="146.43" y="545.2" width="13.12" height="0.85" fill="#f4c0c2"/><rect x="28.8" y="546" width="13.12" height="2.35" fill="#e3e2ec"/><rect x="41.87" y="546" width="13.12" height="2.35" fill="#d6d6e6"/><rect x="54.94" y="546" width="13.12" height="2.35" fill="#dddce9"/><rect x="68.01" y="546" width="13.12" height="2.35" fill="#727eb8"/><rect x="81.08" y="546" width="13.12" height="2.35" fill="#4b5ba6"/><rect x="94.15" y="546" width="13.12" height="2.35" fill="#f2a4a6"/><rect x="107.22" y="546" width="13.12" height="2.35" fill="#f6d4d6"/><rect x="120.29" y="546" width="13.12" height="2.35" fill="#f7dee0"/><rect x="133.36" y="546" width="13.12" height="2.35" fill="#e83438"/><rect x="146.43" y="546" width="13.12" height="2.35" fill="#f2a2a5"/><rect x="28.8" y="548.3" width="13.12" height="2.35" fill="#c5c8de"/><rect x="41.87" y="548.3" width="13.12" height="2.35" fill="#edebf1"/><rect x="54.94" y="548.3" width="13.12" height="2.35" fill="#e3e2ec"/><rect x="68.01" y="548.3" width="13.12" height="2.35" fill="#6a77b4"/><rect x="81.08" y="548.3" width="13.12" height="2.35" fill="#b0b4d4"/><rect x="94.15" y="548.3" width="13.12" height="2.35" fill="#f19698"/><rect x="107.22" y="548.3" width="13.12" height="2.35" fill="#f6d1d3"/><rect x="120.29" y="548.3" width="13.12" height="2.35" fill="#f8ebec"/><rect x="133.36" y="548.3" width="13.12" height="2.35" fill="#ed6669"/><rect x="146.43" y="548.3" width="13.12" height="2.35" fill="#f3b6b8"/><rect x="28.8" y="550.6" width="13.12" height="2.35" fill="#d2d3e4"/><rect x="41.87" y="550.6" width="13.12" height="2.35" fill="#deddea"/><rect x="54.94" y="550.6" width="13.12" height="2.35" fill="#edeaf0"/><rect x="68.01" y="550.6" width="13.12" height="2.35" fill="#7581b9"/><rect x="81.08" y="550.6" width="13.12" height="2.35" fill="#b7bbd8"/><rect x="94.15" y="550.6" width="13.12" height="2.35" fill="#f19598"/><rect x="107.22" y="550.6" width="13.12" height="2.35" fill="#f7dbdc"/><rect x="120.29" y="550.6" width="13.12" height="2.35" fill="#f8e7e8"/><rect x="133.36" y="550.6" width="13.12" height="2.35" fill="#f08e90"/><rect x="146.43" y="550.6" width="13.12" height="2.35" fill="#ee797c"/><rect x="28.8" y="552.9" width="13.12" height="2.35" fill="#e7e5ee"/><rect x="41.87" y="552.9" width="13.12" height="2.35" fill="#dfdeea"/><rect x="54.94" y="552.9" width="13.12" height="2.35" fill="#e4e2ec"/><rect x="68.01" y="552.9" width="13.12" height="2.35" fill="#959cc8"/><rect x="81.08" y="552.9" width="13.12" height="2.35" fill="#6472b1"/><rect x="94.15" y="552.9" width="13.12" height="2.35" fill="#f2a2a5"/><rect x="107.22" y="552.9" width="13.12" height="2.35" fill="#f6d3d5"/><rect x="120.29" y="552.9" width="13.12" height="2.35" fill="#f9f4f5"/><rect x="133.36" y="552.9" width="13.12" height="2.35" fill="#ee7c7f"/><rect x="146.43" y="552.9" width="13.12" height="2.35" fill="#eb585b"/><rect x="28.8" y="555.2" width="13.12" height="0.85" fill="#d8d8e7"/><rect x="41.87" y="555.2" width="13.12" height="0.85" fill="#c9cbe0"/><rect x="54.94" y="555.2" width="13.12" height="0.85" fill="#e0dfeb"/><rect x="68.01" y="555.2" width="13.12" height="0.85" fill="#7480b9"/><rect x="81.08" y="555.2" width="13.12" height="0.85" fill="#9ca3cb"/><rect x="94.15" y="555.2" width="13.12" height="0.85" fill="#f3aeb0"/><rect x="107.22" y="555.2" width="13.12" height="0.85" fill="#f7dcde"/><rect x="120.29" y="555.2" width="13.12" height="0.85" fill="#f8e7e8"/><rect x="133.36" y="555.2" width="13.12" height="0.85" fill="#ec6467"/><rect x="146.43" y="555.2" width="13.12" height="0.85" fill="#ee7c7f"/><rect x="28.8" y="556" width="13.12" height="2.35" fill="#bbbfda"/><rect x="41.87" y="556" width="13.12" height="2.35" fill="#c0c3dc"/><rect x="54.94" y="556" width="13.12" height="2.35" fill="#ebe9f0"/><rect x="68.01" y="556" width="13.12" height="2.35" fill="#5e6daf"/><rect x="81.08" y="556" width="13.12" height="2.35" fill="#8992c2"/><rect x="94.15" y="556" width="13.12" height="2.35" fill="#f2a6a8"/><rect x="107.22" y="556" width="13.12" height="2.35" fill="#f6cdcf"/><rect x="120.29" y="556" width="13.12" height="2.35" fill="#f7dfe0"/><rect x="133.36" y="556" width="13.12" height="2.35" fill="#ee7b7e"/><rect x="146.43" y="556" width="13.12" height="2.35" fill="#ef8285"/><rect x="28.8" y="558.3" width="13.12" height="2.35" fill="#969ec9"/><rect x="41.87" y="558.3" width="13.12" height="2.35" fill="#acb1d3"/><rect x="54.94" y="558.3" width="13.12" height="2.35" fill="#f8f4f5"/><rect x="68.01" y="558.3" width="13.12" height="2.35" fill="#8690c1"/><rect x="81.08" y="558.3" width="13.12" height="2.35" fill="#929ac7"/><rect x="94.15" y="558.3" width="13.12" height="2.35" fill="#f4b7b9"/><rect x="107.22" y="558.3" width="13.12" height="2.35" fill="#f6d5d6"/><rect x="120.29" y="558.3" width="13.12" height="2.35" fill="#f8e9ea"/><rect x="133.36" y="558.3" width="13.12" height="2.35" fill="#e93d40"/><rect x="146.43" y="558.3" width="13.12" height="2.35" fill="#ef8184"/><rect x="28.8" y="560.6" width="13.12" height="2.35" fill="#bdc0da"/><rect x="41.87" y="560.6" width="13.12" height="2.35" fill="#c0c3dc"/><rect x="54.94" y="560.6" width="13.12" height="2.35" fill="#e9e7ef"/><rect x="68.01" y="560.6" width="13.12" height="2.35" fill="#5b6aad"/><rect x="81.08" y="560.6" width="13.12" height="2.35" fill="#a1a8ce"/><rect x="94.15" y="560.6" width="13.12" height="2.35" fill="#f3b1b3"/><rect x="107.22" y="560.6" width="13.12" height="2.35" fill="#f6d4d5"/><rect x="120.29" y="560.6" width="13.12" height="2.35" fill="#f6d0d1"/><rect x="133.36" y="560.6" width="13.12" height="2.35" fill="#ee7679"/><rect x="146.43" y="560.6" width="13.12" height="2.35" fill="#f19799"/><rect x="28.8" y="562.9" width="13.12" height="2.35" fill="#b2b6d5"/><rect x="41.87" y="562.9" width="13.12" height="2.35" fill="#cccee1"/><rect x="54.94" y="562.9" width="13.12" height="2.35" fill="#e9e7ef"/><rect x="68.01" y="562.9" width="13.12" height="2.35" fill="#5161a9"/><rect x="81.08" y="562.9" width="13.12" height="2.35" fill="#a2a8ce"/><rect x="94.15" y="562.9" width="13.12" height="2.35" fill="#f4bcbe"/><rect x="107.22" y="562.9" width="13.12" height="2.35" fill="#f5c7c9"/><rect x="120.29" y="562.9" width="13.12" height="2.35" fill="#f6d3d5"/><rect x="133.36" y="562.9" width="13.12" height="2.35" fill="#ed6e71"/><rect x="146.43" y="562.9" width="13.12" height="2.35" fill="#f09396"/><rect x="28.8" y="565.2" width="13.12" height="0.85" fill="#cfd0e3"/><rect x="41.87" y="565.2" width="13.12" height="0.85" fill="#c7c9df"/><rect x="54.94" y="565.2" width="13.12" height="0.85" fill="#ece9f0"/><rect x="68.01" y="565.2" width="13.12" height="0.85" fill="#7d87bd"/><rect x="81.08" y="565.2" width="13.12" height="0.85" fill="#939bc7"/><rect x="94.15" y="565.2" width="13.12" height="0.85" fill="#f5c3c5"/><rect x="107.22" y="565.2" width="13.12" height="0.85" fill="#f8e8e9"/><rect x="120.29" y="565.2" width="13.12" height="0.85" fill="#f6cdcf"/><rect x="133.36" y="565.2" width="13.12" height="0.85" fill="#ee797c"/><rect x="146.43" y="565.2" width="13.12" height="0.85" fill="#f5c8ca"/><rect x="28.8" y="566" width="13.12" height="2.35" fill="#f1eef2"/><rect x="41.87" y="566" width="13.12" height="2.35" fill="#8f97c5"/><rect x="54.94" y="566" width="13.12" height="2.35" fill="#e8e6ee"/><rect x="68.01" y="566" width="13.12" height="2.35" fill="#9098c6"/><rect x="81.08" y="566" width="13.12" height="2.35" fill="#cfd0e3"/><rect x="94.15" y="566" width="13.12" height="2.35" fill="#f4bfc1"/><rect x="107.22" y="566" width="13.12" height="2.35" fill="#f1989a"/><rect x="120.29" y="566" width="13.12" height="2.35" fill="#f3b4b6"/><rect x="133.36" y="566" width="13.12" height="2.35" fill="#eb5559"/><rect x="146.43" y="566" width="13.12" height="2.35" fill="#f7dfe0"/><rect x="28.8" y="568.3" width="13.12" height="2.35" fill="#d5d5e5"/><rect x="41.87" y="568.3" width="13.12" height="2.35" fill="#b1b6d5"/><rect x="54.94" y="568.3" width="13.12" height="2.35" fill="#e1e0eb"/><rect x="68.01" y="568.3" width="13.12" height="2.35" fill="#5060a8"/><rect x="81.08" y="568.3" width="13.12" height="2.35" fill="#eeebf1"/><rect x="94.15" y="568.3" width="13.12" height="2.35" fill="#f4bec0"/><rect x="107.22" y="568.3" width="13.12" height="2.35" fill="#f29fa2"/><rect x="120.29" y="568.3" width="13.12" height="2.35" fill="#f2a3a5"/><rect x="133.36" y="568.3" width="13.12" height="2.35" fill="#ee777a"/><rect x="146.43" y="568.3" width="13.12" height="2.35" fill="#f6d6d7"/><rect x="28.8" y="570.6" width="13.12" height="2.35" fill="#f0edf2"/><rect x="41.87" y="570.6" width="13.12" height="2.35" fill="#828cbf"/><rect x="54.94" y="570.6" width="13.12" height="2.35" fill="#dedde9"/><rect x="68.01" y="570.6" width="13.12" height="2.35" fill="#4556a3"/><rect x="81.08" y="570.6" width="13.12" height="2.35" fill="#eae8ef"/><rect x="94.15" y="570.6" width="13.12" height="2.35" fill="#f5c6c7"/><rect x="107.22" y="570.6" width="13.12" height="2.35" fill="#f19da0"/><rect x="120.29" y="570.6" width="13.12" height="2.35" fill="#f8e5e6"/><rect x="133.36" y="570.6" width="13.12" height="2.35" fill="#ec6366"/><rect x="146.43" y="570.6" width="13.12" height="2.35" fill="#f5c4c6"/><rect x="28.8" y="572.9" width="13.12" height="2.35" fill="#c4c6de"/><rect x="41.87" y="572.9" width="13.12" height="2.35" fill="#bec1db"/><rect x="54.94" y="572.9" width="13.12" height="2.35" fill="#d3d4e5"/><rect x="68.01" y="572.9" width="13.12" height="2.35" fill="#7581ba"/><rect x="81.08" y="572.9" width="13.12" height="2.35" fill="#d1d1e3"/><rect x="94.15" y="572.9" width="13.12" height="2.35" fill="#f4bec0"/><rect x="107.22" y="572.9" width="13.12" height="2.35" fill="#f3b5b7"/><rect x="120.29" y="572.9" width="13.12" height="2.35" fill="#f6cecf"/><rect x="133.36" y="572.9" width="13.12" height="2.35" fill="#ed6f72"/><rect x="146.43" y="572.9" width="13.12" height="2.35" fill="#f8e5e6"/><rect x="28.8" y="575.2" width="13.12" height="0.85" fill="#e6e4ed"/><rect x="41.87" y="575.2" width="13.12" height="0.85" fill="#9ca3cb"/><rect x="54.94" y="575.2" width="13.12" height="0.85" fill="#f4f1f4"/><rect x="68.01" y="575.2" width="13.12" height="0.85" fill="#606eb0"/><rect x="81.08" y="575.2" width="13.12" height="0.85" fill="#cccde1"/><rect x="94.15" y="575.2" width="13.12" height="0.85" fill="#f0898c"/><rect x="107.22" y="575.2" width="13.12" height="0.85" fill="#f19496"/><rect x="120.29" y="575.2" width="13.12" height="0.85" fill="#f4b6b8"/><rect x="133.36" y="575.2" width="13.12" height="0.85" fill="#ec5c5f"/><rect x="146.43" y="575.2" width="13.12" height="0.85" fill="#f7dbdc"/><rect x="28.8" y="576" width="13.12" height="2.35" fill="#f2eef3"/><rect x="41.87" y="576" width="13.12" height="2.35" fill="#e4e2ec"/><rect x="54.94" y="576" width="13.12" height="2.35" fill="#deddea"/><rect x="68.01" y="576" width="13.12" height="2.35" fill="#9099c6"/><rect x="81.08" y="576" width="13.12" height="2.35" fill="#bbbed9"/><rect x="94.15" y="576" width="13.12" height="2.35" fill="#f6d1d3"/><rect x="107.22" y="576" width="13.12" height="2.35" fill="#f6d7d8"/><rect x="120.29" y="576" width="13.12" height="2.35" fill="#f5c8ca"/><rect x="133.36" y="576" width="13.12" height="2.35" fill="#e93d41"/><rect x="146.43" y="576" width="13.12" height="2.35" fill="#f4bcbe"/><rect x="28.8" y="578.3" width="13.12" height="2.35" fill="#eeecf1"/><rect x="41.87" y="578.3" width="13.12" height="2.35" fill="#e6e4ed"/><rect x="54.94" y="578.3" width="13.12" height="2.35" fill="#f0edf2"/><rect x="68.01" y="578.3" width="13.12" height="2.35" fill="#3e50a0"/><rect x="81.08" y="578.3" width="13.12" height="2.35" fill="#d0d1e3"/><rect x="94.15" y="578.3" width="13.12" height="2.35" fill="#f6cfd0"/><rect x="107.22" y="578.3" width="13.12" height="2.35" fill="#f5c6c8"/><rect x="120.29" y="578.3" width="13.12" height="2.35" fill="#f6d2d4"/><rect x="133.36" y="578.3" width="13.12" height="2.35" fill="#e83236"/><rect x="146.43" y="578.3" width="13.12" height="2.35" fill="#f6d0d2"/><rect x="28.8" y="580.6" width="13.12" height="2.35" fill="#ece9f0"/><rect x="41.87" y="580.6" width="13.12" height="2.35" fill="#e4e2ec"/><rect x="54.94" y="580.6" width="13.12" height="2.35" fill="#f3f0f3"/><rect x="68.01" y="580.6" width="13.12" height="2.35" fill="#3e50a0"/><rect x="81.08" y="580.6" width="13.12" height="2.35" fill="#c9cae0"/><rect x="94.15" y="580.6" width="13.12" height="2.35" fill="#f6d8d9"/><rect x="107.22" y="580.6" width="13.12" height="2.35" fill="#f6d5d6"/><rect x="120.29" y="580.6" width="13.12" height="2.35" fill="#f5cdce"/><rect x="133.36" y="580.6" width="13.12" height="2.35" fill="#ee7275"/><rect x="146.43" y="580.6" width="13.12" height="2.35" fill="#f6cdcf"/><rect x="28.8" y="582.9" width="13.12" height="2.35" fill="#f4f1f4"/><rect x="41.87" y="582.9" width="13.12" height="2.35" fill="#cacce0"/><rect x="54.94" y="582.9" width="13.12" height="2.35" fill="#f4f0f4"/><rect x="68.01" y="582.9" width="13.12" height="2.35" fill="#7c86bc"/><rect x="81.08" y="582.9" width="13.12" height="2.35" fill="#e0dfea"/><rect x="94.15" y="582.9" width="13.12" height="2.35" fill="#f6d4d5"/><rect x="107.22" y="582.9" width="13.12" height="2.35" fill="#f5cacc"/><rect x="120.29" y="582.9" width="13.12" height="2.35" fill="#f7e0e1"/><rect x="133.36" y="582.9" width="13.12" height="2.35" fill="#e83236"/><rect x="146.43" y="582.9" width="13.12" height="2.35" fill="#f4babc"/><rect x="28.8" y="585.2" width="13.12" height="0.85" fill="#e8e6ee"/><rect x="41.87" y="585.2" width="13.12" height="0.85" fill="#c8cae0"/><rect x="54.94" y="585.2" width="13.12" height="0.85" fill="#e3e2ec"/><rect x="68.01" y="585.2" width="13.12" height="0.85" fill="#818bbf"/><rect x="81.08" y="585.2" width="13.12" height="0.85" fill="#cccde1"/><rect x="94.15" y="585.2" width="13.12" height="0.85" fill="#f8e8ea"/><rect x="107.22" y="585.2" width="13.12" height="0.85" fill="#f4b8ba"/><rect x="120.29" y="585.2" width="13.12" height="0.85" fill="#f6d6d7"/><rect x="133.36" y="585.2" width="13.12" height="0.85" fill="#e83236"/><rect x="146.43" y="585.2" width="13.12" height="0.85" fill="#f7dee0"/><rect x="28.8" y="586" width="13.12" height="2.35" fill="#f2eff3"/><rect x="41.87" y="586" width="13.12" height="2.35" fill="#c7c9df"/><rect x="54.94" y="586" width="13.12" height="2.35" fill="#cdcee2"/><rect x="68.01" y="586" width="13.12" height="2.35" fill="#3e50a0"/><rect x="81.08" y="586" width="13.12" height="2.35" fill="#eae7ef"/><rect x="94.15" y="586" width="13.12" height="2.35" fill="#f5c4c6"/><rect x="107.22" y="586" width="13.12" height="2.35" fill="#f7dadb"/><rect x="120.29" y="586" width="13.12" height="2.35" fill="#f5c2c4"/><rect x="133.36" y="586" width="13.12" height="2.35" fill="#e83236"/><rect x="146.43" y="586" width="13.12" height="2.35" fill="#f2a6a8"/><rect x="28.8" y="588.3" width="13.12" height="2.35" fill="#e7e5ee"/><rect x="41.87" y="588.3" width="13.12" height="2.35" fill="#bcbfda"/><rect x="54.94" y="588.3" width="13.12" height="2.35" fill="#a9afd1"/><rect x="68.01" y="588.3" width="13.12" height="2.35" fill="#5e6caf"/><rect x="81.08" y="588.3" width="13.12" height="2.35" fill="#eeecf1"/><rect x="94.15" y="588.3" width="13.12" height="2.35" fill="#f9f2f3"/><rect x="107.22" y="588.3" width="13.12" height="2.35" fill="#f08f91"/><rect x="120.29" y="588.3" width="13.12" height="2.35" fill="#f4bec0"/><rect x="133.36" y="588.3" width="13.12" height="2.35" fill="#ea474b"/><rect x="146.43" y="588.3" width="13.12" height="2.35" fill="#f3b3b5"/><rect x="28.8" y="590.6" width="13.12" height="2.35" fill="#e7e5ee"/><rect x="41.87" y="590.6" width="13.12" height="2.35" fill="#969ec9"/><rect x="54.94" y="590.6" width="13.12" height="2.35" fill="#c0c3dc"/><rect x="68.01" y="590.6" width="13.12" height="2.35" fill="#4455a3"/><rect x="81.08" y="590.6" width="13.12" height="2.35" fill="#f9f4f5"/><rect x="94.15" y="590.6" width="13.12" height="2.35" fill="#f8eff0"/><rect x="107.22" y="590.6" width="13.12" height="2.35" fill="#f2a7a9"/><rect x="120.29" y="590.6" width="13.12" height="2.35" fill="#f09194"/><rect x="133.36" y="590.6" width="13.12" height="2.35" fill="#e83438"/><rect x="146.43" y="590.6" width="13.12" height="2.35" fill="#f5c3c4"/><rect x="28.8" y="592.9" width="13.12" height="2.35" fill="#d6d6e6"/><rect x="41.87" y="592.9" width="13.12" height="2.35" fill="#b9bdd9"/><rect x="54.94" y="592.9" width="13.12" height="2.35" fill="#e3e2ec"/><rect x="68.01" y="592.9" width="13.12" height="2.35" fill="#6a77b4"/><rect x="81.08" y="592.9" width="13.12" height="2.35" fill="#e5e4ed"/><rect x="94.15" y="592.9" width="13.12" height="2.35" fill="#f5c9cb"/><rect x="107.22" y="592.9" width="13.12" height="2.35" fill="#f19fa1"/><rect x="120.29" y="592.9" width="13.12" height="2.35" fill="#f5ccce"/><rect x="133.36" y="592.9" width="13.12" height="2.35" fill="#ee7578"/><rect x="146.43" y="592.9" width="13.12" height="2.35" fill="#f7e0e1"/><rect x="28.8" y="595.2" width="13.12" height="0.85" fill="#dbdae8"/><rect x="41.87" y="595.2" width="13.12" height="0.85" fill="#c8cae0"/><rect x="54.94" y="595.2" width="13.12" height="0.85" fill="#b5b9d7"/><rect x="68.01" y="595.2" width="13.12" height="0.85" fill="#5565ab"/><rect x="81.08" y="595.2" width="13.12" height="0.85" fill="#e9e7ee"/><rect x="94.15" y="595.2" width="13.12" height="0.85" fill="#f8e6e7"/><rect x="107.22" y="595.2" width="13.12" height="0.85" fill="#f3b1b3"/><rect x="120.29" y="595.2" width="13.12" height="0.85" fill="#f5c2c4"/><rect x="133.36" y="595.2" width="13.12" height="0.85" fill="#e83236"/><rect x="146.43" y="595.2" width="13.12" height="0.85" fill="#f4c0c1"/><rect x="28.8" y="596" width="13.12" height="2.35" fill="#e8e6ee"/><rect x="41.87" y="596" width="13.12" height="2.35" fill="#e5e3ed"/><rect x="54.94" y="596" width="13.12" height="2.35" fill="#d2d3e4"/><rect x="68.01" y="596" width="13.12" height="2.35" fill="#4657a4"/><rect x="81.08" y="596" width="13.12" height="2.35" fill="#c9cbe0"/><rect x="94.15" y="596" width="13.12" height="2.35" fill="#f5c7c8"/><rect x="107.22" y="596" width="13.12" height="2.35" fill="#f6cdcf"/><rect x="120.29" y="596" width="13.12" height="2.35" fill="#f6d8d9"/><rect x="133.36" y="596" width="13.12" height="2.35" fill="#ee7679"/><rect x="146.43" y="596" width="13.12" height="2.35" fill="#f7dadb"/><rect x="28.8" y="598.3" width="13.12" height="2.35" fill="#c9cae0"/><rect x="41.87" y="598.3" width="13.12" height="2.35" fill="#d5d5e5"/><rect x="54.94" y="598.3" width="13.12" height="2.35" fill="#cdcee2"/><rect x="68.01" y="598.3" width="13.12" height="2.35" fill="#5161a9"/><rect x="81.08" y="598.3" width="13.12" height="2.35" fill="#e1e0eb"/><rect x="94.15" y="598.3" width="13.12" height="2.35" fill="#f19d9f"/><rect x="107.22" y="598.3" width="13.12" height="2.35" fill="#f5c5c6"/><rect x="120.29" y="598.3" width="13.12" height="2.35" fill="#f6d7d9"/><rect x="133.36" y="598.3" width="13.12" height="2.35" fill="#ee7a7d"/><rect x="146.43" y="598.3" width="13.12" height="2.35" fill="#f7e2e4"/><rect x="28.8" y="600.6" width="13.12" height="2.35" fill="#efedf2"/><rect x="41.87" y="600.6" width="13.12" height="2.35" fill="#edebf1"/><rect x="54.94" y="600.6" width="13.12" height="2.35" fill="#dedeea"/><rect x="68.01" y="600.6" width="13.12" height="2.35" fill="#5161a9"/><rect x="81.08" y="600.6" width="13.12" height="2.35" fill="#e8e6ee"/><rect x="94.15" y="600.6" width="13.12" height="2.35" fill="#ef8486"/><rect x="107.22" y="600.6" width="13.12" height="2.35" fill="#f8e7e8"/><rect x="120.29" y="600.6" width="13.12" height="2.35" fill="#f8edee"/><rect x="133.36" y="600.6" width="13.12" height="2.35" fill="#e83236"/><rect x="146.43" y="600.6" width="13.12" height="2.35" fill="#f8e7e8"/><rect x="28.8" y="602.9" width="13.12" height="2.35" fill="#d3d4e5"/><rect x="41.87" y="602.9" width="13.12" height="2.35" fill="#deddea"/><rect x="54.94" y="602.9" width="13.12" height="2.35" fill="#dcdbe8"/><rect x="68.01" y="602.9" width="13.12" height="2.35" fill="#3e50a0"/><rect x="81.08" y="602.9" width="13.12" height="2.35" fill="#d2d2e4"/><rect x="94.15" y="602.9" width="13.12" height="2.35" fill="#f2a8aa"/><rect x="107.22" y="602.9" width="13.12" height="2.35" fill="#f6d7d8"/><rect x="120.29" y="602.9" width="13.12" height="2.35" fill="#f6d5d6"/><rect x="133.36" y="602.9" width="13.12" height="2.35" fill="#ec5b5e"/><rect x="146.43" y="602.9" width="13.12" height="2.35" fill="#f8e9ea"/><rect x="28.8" y="605.2" width="13.12" height="0.85" fill="#e9e7ef"/><rect x="41.87" y="605.2" width="13.12" height="0.85" fill="#e3e2ec"/><rect x="54.94" y="605.2" width="13.12" height="0.85" fill="#efecf1"/><rect x="68.01" y="605.2" width="13.12" height="0.85" fill="#3e50a0"/><rect x="81.08" y="605.2" width="13.12" height="0.85" fill="#eceaf0"/><rect x="94.15" y="605.2" width="13.12" height="0.85" fill="#f6d7d9"/><rect x="107.22" y="605.2" width="13.12" height="0.85" fill="#f8e8e9"/><rect x="120.29" y="605.2" width="13.12" height="0.85" fill="#f7e2e3"/><rect x="133.36" y="605.2" width="13.12" height="0.85" fill="#e93e42"/><rect x="146.43" y="605.2" width="13.12" height="0.85" fill="#f8e5e6"/><rect x="28.8" y="606" width="13.12" height="2.35" fill="#cfd0e3"/><rect x="41.87" y="606" width="13.12" height="2.35" fill="#c9cbe0"/><rect x="54.94" y="606" width="13.12" height="2.35" fill="#eae8ef"/><rect x="68.01" y="606" width="13.12" height="2.35" fill="#3e50a0"/><rect x="81.08" y="606" width="13.12" height="2.35" fill="#b9bcd8"/><rect x="94.15" y="606" width="13.12" height="2.35" fill="#f7e1e2"/><rect x="107.22" y="606" width="13.12" height="2.35" fill="#f6d7d8"/><rect x="120.29" y="606" width="13.12" height="2.35" fill="#f7e1e2"/><rect x="133.36" y="606" width="13.12" height="2.35" fill="#ea4e52"/><rect x="146.43" y="606" width="13.12" height="2.35" fill="#f5cccd"/><rect x="28.8" y="608.3" width="13.12" height="2.35" fill="#b0b5d5"/><rect x="41.87" y="608.3" width="13.12" height="2.35" fill="#dadae8"/><rect x="54.94" y="608.3" width="13.12" height="2.35" fill="#f3eff3"/><rect x="68.01" y="608.3" width="13.12" height="2.35" fill="#5766ab"/><rect x="81.08" y="608.3" width="13.12" height="2.35" fill="#c2c4dd"/><rect x="94.15" y="608.3" width="13.12" height="2.35" fill="#f5c3c5"/><rect x="107.22" y="608.3" width="13.12" height="2.35" fill="#f4bcbd"/><rect x="120.29" y="608.3" width="13.12" height="2.35" fill="#f4bbbc"/><rect x="133.36" y="608.3" width="13.12" height="2.35" fill="#f0898c"/><rect x="146.43" y="608.3" width="13.12" height="2.35" fill="#f4bfc1"/><rect x="28.8" y="610.6" width="13.12" height="2.35" fill="#c2c4dd"/><rect x="41.87" y="610.6" width="13.12" height="2.35" fill="#aeb3d3"/><rect x="54.94" y="610.6" width="13.12" height="2.35" fill="#f4f0f4"/><rect x="68.01" y="610.6" width="13.12" height="2.35" fill="#4959a5"/><rect x="81.08" y="610.6" width="13.12" height="2.35" fill="#a4aacf"/><rect x="94.15" y="610.6" width="13.12" height="2.35" fill="#f7dfe1"/><rect x="107.22" y="610.6" width="13.12" height="2.35" fill="#f3abad"/><rect x="120.29" y="610.6" width="13.12" height="2.35" fill="#f4babc"/><rect x="133.36" y="610.6" width="13.12" height="2.35" fill="#eb5457"/><rect x="146.43" y="610.6" width="13.12" height="2.35" fill="#f4bdbf"/><rect x="28.8" y="612.9" width="13.12" height="2.35" fill="#dedde9"/><rect x="41.87" y="612.9" width="13.12" height="2.35" fill="#d7d7e6"/><rect x="54.94" y="612.9" width="13.12" height="2.35" fill="#f6f2f5"/><rect x="68.01" y="612.9" width="13.12" height="2.35" fill="#838cc0"/><rect x="81.08" y="612.9" width="13.12" height="2.35" fill="#d1d2e4"/><rect x="94.15" y="612.9" width="13.12" height="2.35" fill="#f5ccce"/><rect x="107.22" y="612.9" width="13.12" height="2.35" fill="#f4c0c2"/><rect x="120.29" y="612.9" width="13.12" height="2.35" fill="#f4bcbe"/><rect x="133.36" y="612.9" width="13.12" height="2.35" fill="#ee7376"/><rect x="146.43" y="612.9" width="13.12" height="2.35" fill="#f5cbcd"/><rect x="28.8" y="615.2" width="13.12" height="0.85" fill="#bdc0da"/><rect x="41.87" y="615.2" width="13.12" height="0.85" fill="#dfdeea"/><rect x="54.94" y="615.2" width="13.12" height="0.85" fill="#dcdbe9"/><rect x="68.01" y="615.2" width="13.12" height="0.85" fill="#495aa5"/><rect x="81.08" y="615.2" width="13.12" height="0.85" fill="#cdcfe2"/><rect x="94.15" y="615.2" width="13.12" height="0.85" fill="#f7e1e3"/><rect x="107.22" y="615.2" width="13.12" height="0.85" fill="#f19c9f"/><rect x="120.29" y="615.2" width="13.12" height="0.85" fill="#f5ccce"/><rect x="133.36" y="615.2" width="13.12" height="0.85" fill="#ef7e81"/><rect x="146.43" y="615.2" width="13.12" height="0.85" fill="#f6d0d2"/><rect x="28.8" y="616" width="13.12" height="2.35" fill="#eeebf1"/><rect x="41.87" y="616" width="13.12" height="2.35" fill="#8992c2"/><rect x="54.94" y="616" width="13.12" height="2.35" fill="#f0edf2"/><rect x="68.01" y="616" width="13.12" height="2.35" fill="#606eb0"/><rect x="81.08" y="616" width="13.12" height="2.35" fill="#eeebf1"/><rect x="94.15" y="616" width="13.12" height="2.35" fill="#f7e0e2"/><rect x="107.22" y="616" width="13.12" height="2.35" fill="#f6d2d4"/><rect x="120.29" y="616" width="13.12" height="2.35" fill="#f2a3a5"/><rect x="133.36" y="616" width="13.12" height="2.35" fill="#ed666a"/><rect x="146.43" y="616" width="13.12" height="2.35" fill="#f2a7a9"/><rect x="28.8" y="618.3" width="13.12" height="2.35" fill="#cdcee2"/><rect x="41.87" y="618.3" width="13.12" height="2.35" fill="#9fa6cd"/><rect x="54.94" y="618.3" width="13.12" height="2.35" fill="#edeaf1"/><rect x="68.01" y="618.3" width="13.12" height="2.35" fill="#3e50a0"/><rect x="81.08" y="618.3" width="13.12" height="2.35" fill="#e6e4ed"/><rect x="94.15" y="618.3" width="13.12" height="2.35" fill="#f8ebec"/><rect x="107.22" y="618.3" width="13.12" height="2.35" fill="#f4b9bb"/><rect x="120.29" y="618.3" width="13.12" height="2.35" fill="#f5cdce"/><rect x="133.36" y="618.3" width="13.12" height="2.35" fill="#e93b3f"/><rect x="146.43" y="618.3" width="13.12" height="2.35" fill="#f3b5b7"/><rect x="28.8" y="620.6" width="13.12" height="2.35" fill="#e0dfeb"/><rect x="41.87" y="620.6" width="13.12" height="2.35" fill="#d1d2e4"/><rect x="54.94" y="620.6" width="13.12" height="2.35" fill="#e6e4ed"/><rect x="68.01" y="620.6" width="13.12" height="2.35" fill="#6c78b5"/><rect x="81.08" y="620.6" width="13.12" height="2.35" fill="#d7d7e7"/><rect x="94.15" y="620.6" width="13.12" height="2.35" fill="#f5cdce"/><rect x="107.22" y="620.6" width="13.12" height="2.35" fill="#f6d7d8"/><rect x="120.29" y="620.6" width="13.12" height="2.35" fill="#f4b8ba"/><rect x="133.36" y="620.6" width="13.12" height="2.35" fill="#e83337"/><rect x="146.43" y="620.6" width="13.12" height="2.35" fill="#f3afb1"/><rect x="28.8" y="622.9" width="13.12" height="2.35" fill="#d3d3e4"/><rect x="41.87" y="622.9" width="13.12" height="2.35" fill="#9aa2cb"/><rect x="54.94" y="622.9" width="13.12" height="2.35" fill="#e0dfeb"/><rect x="68.01" y="622.9" width="13.12" height="2.35" fill="#4d5da7"/><rect x="81.08" y="622.9" width="13.12" height="2.35" fill="#dddce9"/><rect x="94.15" y="622.9" width="13.12" height="2.35" fill="#f5cacc"/><rect x="107.22" y="622.9" width="13.12" height="2.35" fill="#f4babb"/><rect x="120.29" y="622.9" width="13.12" height="2.35" fill="#f5c3c5"/><rect x="133.36" y="622.9" width="13.12" height="2.35" fill="#ed6e71"/><rect x="146.43" y="622.9" width="13.12" height="2.35" fill="#f6d8d9"/><rect x="28.8" y="625.2" width="13.12" height="0.85" fill="#e6e4ed"/><rect x="41.87" y="625.2" width="13.12" height="0.85" fill="#b8bcd8"/><rect x="54.94" y="625.2" width="13.12" height="0.85" fill="#e1e0eb"/><rect x="68.01" y="625.2" width="13.12" height="0.85" fill="#4e5ea7"/><rect x="81.08" y="625.2" width="13.12" height="0.85" fill="#c4c6dd"/><rect x="94.15" y="625.2" width="13.12" height="0.85" fill="#f7dcdd"/><rect x="107.22" y="625.2" width="13.12" height="0.85" fill="#f6cdcf"/><rect x="120.29" y="625.2" width="13.12" height="0.85" fill="#f5cacc"/><rect x="133.36" y="625.2" width="13.12" height="0.85" fill="#ee7477"/><rect x="146.43" y="625.2" width="13.12" height="0.85" fill="#f6cfd1"/><rect x="28.8" y="626" width="13.12" height="2.35" fill="#eeebf1"/><rect x="41.87" y="626" width="13.12" height="2.35" fill="#e4e3ec"/><rect x="54.94" y="626" width="13.12" height="2.35" fill="#dcdbe9"/><rect x="68.01" y="626" width="13.12" height="2.35" fill="#7e89be"/><rect x="81.08" y="626" width="13.12" height="2.35" fill="#cfd0e3"/><rect x="94.15" y="626" width="13.12" height="2.35" fill="#f7d9da"/><rect x="107.22" y="626" width="13.12" height="2.35" fill="#f7dddf"/><rect x="120.29" y="626" width="13.12" height="2.35" fill="#f7dadb"/><rect x="133.36" y="626" width="13.12" height="2.35" fill="#ef8689"/><rect x="146.43" y="626" width="13.12" height="2.35" fill="#f7dee0"/><rect x="28.8" y="628.3" width="13.12" height="2.35" fill="#d1d2e4"/><rect x="41.87" y="628.3" width="13.12" height="2.35" fill="#bbbeda"/><rect x="54.94" y="628.3" width="13.12" height="2.35" fill="#dbdae8"/><rect x="68.01" y="628.3" width="13.12" height="2.35" fill="#3e50a0"/><rect x="81.08" y="628.3" width="13.12" height="2.35" fill="#dfdeea"/><rect x="94.15" y="628.3" width="13.12" height="2.35" fill="#f9f5f6"/><rect x="107.22" y="628.3" width="13.12" height="2.35" fill="#f6d1d2"/><rect x="120.29" y="628.3" width="13.12" height="2.35" fill="#f5c5c6"/><rect x="133.36" y="628.3" width="13.12" height="2.35" fill="#e83236"/><rect x="146.43" y="628.3" width="13.12" height="2.35" fill="#f4c0c2"/><rect x="28.8" y="630.6" width="13.12" height="0.45" fill="#dddde9"/><rect x="41.87" y="630.6" width="13.12" height="0.45" fill="#bdc0da"/><rect x="54.94" y="630.6" width="13.12" height="0.45" fill="#eeecf1"/><rect x="68.01" y="630.6" width="13.12" height="0.45" fill="#6673b2"/><rect x="81.08" y="630.6" width="13.12" height="0.45" fill="#cdcee2"/><rect x="94.15" y="630.6" width="13.12" height="0.45" fill="#f7dcdd"/><rect x="107.22" y="630.6" width="13.12" height="0.45" fill="#f2a6a8"/><rect x="120.29" y="630.6" width="13.12" height="0.45" fill="#f8eeef"/><rect x="133.36" y="630.6" width="13.12" height="0.45" fill="#ef8588"/><rect x="146.43" y="630.6" width="13.12" height="0.45" fill="#f6d5d6"/></g>
<g shape-rendering="crispEdges"><rect x="185.5" y="285" width="13.05" height="2.35" fill="#f1989b"/><rect x="198.5" y="285" width="13.05" height="2.35" fill="#f5c7c8"/><rect x="211.5" y="285" width="13.05" height="2.35" fill="#f4b8ba"/><rect x="224.5" y="285" width="13.05" height="2.35" fill="#f6d7d9"/><rect x="237.5" y="285" width="13.05" height="2.35" fill="#e93d41"/><rect x="250.5" y="285" width="13.05" height="2.35" fill="#d8d8e7"/><rect x="263.5" y="285" width="13.05" height="2.35" fill="#dddce9"/><rect x="276.5" y="285" width="13.05" height="2.35" fill="#5463aa"/><rect x="289.5" y="285" width="13.05" height="2.35" fill="#d9d9e7"/><rect x="302.5" y="285" width="13.05" height="2.35" fill="#c2c4dc"/><rect x="185.5" y="287.3" width="13.05" height="2.35" fill="#f3afb1"/><rect x="198.5" y="287.3" width="13.05" height="2.35" fill="#f4c0c2"/><rect x="211.5" y="287.3" width="13.05" height="2.35" fill="#ed6d70"/><rect x="224.5" y="287.3" width="13.05" height="2.35" fill="#f4c0c2"/><rect x="237.5" y="287.3" width="13.05" height="2.35" fill="#ec5e62"/><rect x="250.5" y="287.3" width="13.05" height="2.35" fill="#acb1d2"/><rect x="263.5" y="287.3" width="13.05" height="2.35" fill="#e9e7ef"/><rect x="276.5" y="287.3" width="13.05" height="2.35" fill="#a6acd0"/><rect x="289.5" y="287.3" width="13.05" height="2.35" fill="#d7d7e6"/><rect x="302.5" y="287.3" width="13.05" height="2.35" fill="#b3b7d6"/><rect x="185.5" y="289.6" width="13.05" height="2.35" fill="#f3adaf"/><rect x="198.5" y="289.6" width="13.05" height="2.35" fill="#f6d3d5"/><rect x="211.5" y="289.6" width="13.05" height="2.35" fill="#f3b0b2"/><rect x="224.5" y="289.6" width="13.05" height="2.35" fill="#f6d7d8"/><rect x="237.5" y="289.6" width="13.05" height="2.35" fill="#ed6e71"/><rect x="250.5" y="289.6" width="13.05" height="2.35" fill="#b8bcd8"/><rect x="263.5" y="289.6" width="13.05" height="2.35" fill="#d7d7e6"/><rect x="276.5" y="289.6" width="13.05" height="2.35" fill="#7480b9"/><rect x="289.5" y="289.6" width="13.05" height="2.35" fill="#dedde9"/><rect x="302.5" y="289.6" width="13.05" height="2.35" fill="#868fc1"/><rect x="185.5" y="291.9" width="13.05" height="2.35" fill="#f4bbbd"/><rect x="198.5" y="291.9" width="13.05" height="2.35" fill="#f1979a"/><rect x="211.5" y="291.9" width="13.05" height="2.35" fill="#f09194"/><rect x="224.5" y="291.9" width="13.05" height="2.35" fill="#f4bbbd"/><rect x="237.5" y="291.9" width="13.05" height="2.35" fill="#ec6467"/><rect x="250.5" y="291.9" width="13.05" height="2.35" fill="#b1b6d5"/><rect x="263.5" y="291.9" width="13.05" height="2.35" fill="#b7bad8"/><rect x="276.5" y="291.9" width="13.05" height="2.35" fill="#7b86bc"/><rect x="289.5" y="291.9" width="13.05" height="2.35" fill="#e0dfeb"/><rect x="302.5" y="291.9" width="13.05" height="2.35" fill="#939bc7"/><rect x="185.5" y="294.2" width="13.05" height="0.85" fill="#f2a3a6"/><rect x="198.5" y="294.2" width="13.05" height="0.85" fill="#f3b5b7"/><rect x="211.5" y="294.2" width="13.05" height="0.85" fill="#ef7d80"/><rect x="224.5" y="294.2" width="13.05" height="0.85" fill="#f6d0d2"/><rect x="237.5" y="294.2" width="13.05" height="0.85" fill="#e93a3e"/><rect x="250.5" y="294.2" width="13.05" height="0.85" fill="#c4c6de"/><rect x="263.5" y="294.2" width="13.05" height="0.85" fill="#d3d3e4"/><rect x="276.5" y="294.2" width="13.05" height="0.85" fill="#8b94c3"/><rect x="289.5" y="294.2" width="13.05" height="0.85" fill="#d7d7e7"/><rect x="302.5" y="294.2" width="13.05" height="0.85" fill="#5b69ad"/><rect x="185.5" y="295" width="13.05" height="2.35" fill="#f6d4d5"/><rect x="198.5" y="295" width="13.05" height="2.35" fill="#f8e6e7"/><rect x="211.5" y="295" width="13.05" height="2.35" fill="#ea4d51"/><rect x="224.5" y="295" width="13.05" height="2.35" fill="#ef8184"/><rect x="237.5" y="295" width="13.05" height="2.35" fill="#f4bdbf"/><rect x="250.5" y="295" width="13.05" height="2.35" fill="#dbdae8"/><rect x="263.5" y="295" width="13.05" height="2.35" fill="#e3e1ec"/><rect x="276.5" y="295" width="13.05" height="2.35" fill="#3e50a0"/><rect x="289.5" y="295" width="13.05" height="2.35" fill="#a5aacf"/><rect x="302.5" y="295" width="13.05" height="2.35" fill="#b4b8d6"/><rect x="185.5" y="297.3" width="13.05" height="2.35" fill="#f6d5d7"/><rect x="198.5" y="297.3" width="13.05" height="2.35" fill="#f6f3f5"/><rect x="211.5" y="297.3" width="13.05" height="2.35" fill="#ef888a"/><rect x="224.5" y="297.3" width="13.05" height="2.35" fill="#f09193"/><rect x="237.5" y="297.3" width="13.05" height="2.35" fill="#ee7275"/><rect x="250.5" y="297.3" width="13.05" height="2.35" fill="#eae8ef"/><rect x="263.5" y="297.3" width="13.05" height="2.35" fill="#d9d9e7"/><rect x="276.5" y="297.3" width="13.05" height="2.35" fill="#848ec0"/><rect x="289.5" y="297.3" width="13.05" height="2.35" fill="#a0a6cd"/><rect x="302.5" y="297.3" width="13.05" height="2.35" fill="#8e97c5"/><rect x="185.5" y="299.6" width="13.05" height="2.35" fill="#f7e0e1"/><rect x="198.5" y="299.6" width="13.05" height="2.35" fill="#f9f4f5"/><rect x="211.5" y="299.6" width="13.05" height="2.35" fill="#f3aeb0"/><rect x="224.5" y="299.6" width="13.05" height="2.35" fill="#f2a2a4"/><rect x="237.5" y="299.6" width="13.05" height="2.35" fill="#f2a6a8"/><rect x="250.5" y="299.6" width="13.05" height="2.35" fill="#e5e3ed"/><rect x="263.5" y="299.6" width="13.05" height="2.35" fill="#f2eff3"/><rect x="276.5" y="299.6" width="13.05" height="2.35" fill="#969dc8"/><rect x="289.5" y="299.6" width="13.05" height="2.35" fill="#7984bb"/><rect x="302.5" y="299.6" width="13.05" height="2.35" fill="#a2a9ce"/><rect x="185.5" y="301.9" width="13.05" height="2.35" fill="#f6d4d6"/><rect x="198.5" y="301.9" width="13.05" height="2.35" fill="#f9f5f6"/><rect x="211.5" y="301.9" width="13.05" height="2.35" fill="#ef8285"/><rect x="224.5" y="301.9" width="13.05" height="2.35" fill="#ed6f73"/><rect x="237.5" y="301.9" width="13.05" height="2.35" fill="#f2aaac"/><rect x="250.5" y="301.9" width="13.05" height="2.35" fill="#f2eff3"/><rect x="263.5" y="301.9" width="13.05" height="2.35" fill="#e7e5ee"/><rect x="276.5" y="301.9" width="13.05" height="2.35" fill="#7480b9"/><rect x="289.5" y="301.9" width="13.05" height="2.35" fill="#828cbf"/><rect x="302.5" y="301.9" width="13.05" height="2.35" fill="#b7bbd8"/><rect x="185.5" y="304.2" width="13.05" height="0.85" fill="#f6d8da"/><rect x="198.5" y="304.2" width="13.05" height="0.85" fill="#f8e7e8"/><rect x="211.5" y="304.2" width="13.05" height="0.85" fill="#e93d41"/><rect x="224.5" y="304.2" width="13.05" height="0.85" fill="#f3aeb0"/><rect x="237.5" y="304.2" width="13.05" height="0.85" fill="#ee797c"/><rect x="250.5" y="304.2" width="13.05" height="0.85" fill="#e9e7ef"/><rect x="263.5" y="304.2" width="13.05" height="0.85" fill="#e7e5ee"/><rect x="276.5" y="304.2" width="13.05" height="0.85" fill="#949bc7"/><rect x="289.5" y="304.2" width="13.05" height="0.85" fill="#a6abd0"/><rect x="302.5" y="304.2" width="13.05" height="0.85" fill="#adb2d3"/><rect x="185.5" y="305" width="13.05" height="2.35" fill="#f7dadb"/><rect x="198.5" y="305" width="13.05" height="2.35" fill="#f1989b"/><rect x="211.5" y="305" width="13.05" height="2.35" fill="#ec6266"/><rect x="224.5" y="305" width="13.05" height="2.35" fill="#ec6569"/><rect x="237.5" y="305" width="13.05" height="2.35" fill="#ea474b"/><rect x="250.5" y="305" width="13.05" height="2.35" fill="#dcdce9"/><rect x="263.5" y="305" width="13.05" height="2.35" fill="#d6d6e6"/><rect x="276.5" y="305" width="13.05" height="2.35" fill="#a6acd0"/><rect x="289.5" y="305" width="13.05" height="2.35" fill="#868fc1"/><rect x="302.5" y="305" width="13.05" height="2.35" fill="#9da3cc"/><rect x="185.5" y="307.3" width="13.05" height="2.35" fill="#f5c7c9"/><rect x="198.5" y="307.3" width="13.05" height="2.35" fill="#ef8588"/><rect x="211.5" y="307.3" width="13.05" height="2.35" fill="#ea4e52"/><rect x="224.5" y="307.3" width="13.05" height="2.35" fill="#e8373b"/><rect x="237.5" y="307.3" width="13.05" height="2.35" fill="#ee797c"/><rect x="250.5" y="307.3" width="13.05" height="2.35" fill="#dcdbe9"/><rect x="263.5" y="307.3" width="13.05" height="2.35" fill="#f0edf2"/><rect x="276.5" y="307.3" width="13.05" height="2.35" fill="#8690c1"/><rect x="289.5" y="307.3" width="13.05" height="2.35" fill="#a7add1"/><rect x="302.5" y="307.3" width="13.05" height="2.35" fill="#8f98c5"/><rect x="185.5" y="309.6" width="13.05" height="2.35" fill="#f7dbdd"/><rect x="198.5" y="309.6" width="13.05" height="2.35" fill="#f4c0c2"/><rect x="211.5" y="309.6" width="13.05" height="2.35" fill="#ea4549"/><rect x="224.5" y="309.6" width="13.05" height="2.35" fill="#f09295"/><rect x="237.5" y="309.6" width="13.05" height="2.35" fill="#ea474a"/><rect x="250.5" y="309.6" width="13.05" height="2.35" fill="#d3d4e5"/><rect x="263.5" y="309.6" width="13.05" height="2.35" fill="#bfc2db"/><rect x="276.5" y="309.6" width="13.05" height="2.35" fill="#959cc8"/><rect x="289.5" y="309.6" width="13.05" height="2.35" fill="#b5b9d7"/><rect x="302.5" y="309.6" width="13.05" height="2.35" fill="#aaafd2"/><rect x="185.5" y="311.9" width="13.05" height="2.35" fill="#f3abae"/><rect x="198.5" y="311.9" width="13.05" height="2.35" fill="#f6d1d2"/><rect x="211.5" y="311.9" width="13.05" height="2.35" fill="#ea464a"/><rect x="224.5" y="311.9" width="13.05" height="2.35" fill="#ef888a"/><rect x="237.5" y="311.9" width="13.05" height="2.35" fill="#f19da0"/><rect x="250.5" y="311.9" width="13.05" height="2.35" fill="#d2d3e4"/><rect x="263.5" y="311.9" width="13.05" height="2.35" fill="#d8d8e7"/><rect x="276.5" y="311.9" width="13.05" height="2.35" fill="#bdc0da"/><rect x="289.5" y="311.9" width="13.05" height="2.35" fill="#8b94c3"/><rect x="302.5" y="311.9" width="13.05" height="2.35" fill="#989fc9"/><rect x="185.5" y="314.2" width="13.05" height="0.85" fill="#f8edee"/><rect x="198.5" y="314.2" width="13.05" height="0.85" fill="#f6cfd0"/><rect x="211.5" y="314.2" width="13.05" height="0.85" fill="#ea494d"/><rect x="224.5" y="314.2" width="13.05" height="0.85" fill="#f2a0a3"/><rect x="237.5" y="314.2" width="13.05" height="0.85" fill="#ed7174"/><rect x="250.5" y="314.2" width="13.05" height="0.85" fill="#f6f2f5"/><rect x="263.5" y="314.2" width="13.05" height="0.85" fill="#c8cae0"/><rect x="276.5" y="314.2" width="13.05" height="0.85" fill="#a4aacf"/><rect x="289.5" y="314.2" width="13.05" height="0.85" fill="#737fb9"/><rect x="302.5" y="314.2" width="13.05" height="0.85" fill="#9ca3cb"/><rect x="185.5" y="315" width="13.05" height="2.35" fill="#f8e8e9"/><rect x="198.5" y="315" width="13.05" height="2.35" fill="#f5c8ca"/><rect x="211.5" y="315" width="13.05" height="2.35" fill="#f08f91"/><rect x="224.5" y="315" width="13.05" height="2.35" fill="#ec5f63"/><rect x="237.5" y="315" width="13.05" height="2.35" fill="#ee7174"/><rect x="250.5" y="315" width="13.05" height="2.35" fill="#d6d6e6"/><rect x="263.5" y="315" width="13.05" height="2.35" fill="#dddde9"/><rect x="276.5" y="315" width="13.05" height="2.35" fill="#b4b8d6"/><rect x="289.5" y="315" width="13.05" height="2.35" fill="#abb0d2"/><rect x="302.5" y="315" width="13.05" height="2.35" fill="#7b86bc"/><rect x="185.5" y="317.3" width="13.05" height="2.35" fill="#f6cdcf"/><rect x="198.5" y="317.3" width="13.05" height="2.35" fill="#f7e3e4"/><rect x="211.5" y="317.3" width="13.05" height="2.35" fill="#f4bdbf"/><rect x="224.5" y="317.3" width="13.05" height="2.35" fill="#f4bfc1"/><rect x="237.5" y="317.3" width="13.05" height="2.35" fill="#ed686b"/><rect x="250.5" y="317.3" width="13.05" height="2.35" fill="#bbbed9"/><rect x="263.5" y="317.3" width="13.05" height="2.35" fill="#dddce9"/><rect x="276.5" y="317.3" width="13.05" height="2.35" fill="#a8add1"/><rect x="289.5" y="317.3" width="13.05" height="2.35" fill="#a5aacf"/><rect x="302.5" y="317.3" width="13.05" height="2.35" fill="#8690c1"/><rect x="185.5" y="319.6" width="13.05" height="2.35" fill="#f8ebec"/><rect x="198.5" y="319.6" width="13.05" height="2.35" fill="#f6d8d9"/><rect x="211.5" y="319.6" width="13.05" height="2.35" fill="#ee7c7f"/><rect x="224.5" y="319.6" width="13.05" height="2.35" fill="#f5c3c5"/><rect x="237.5" y="319.6" width="13.05" height="2.35" fill="#ec6164"/><rect x="250.5" y="319.6" width="13.05" height="2.35" fill="#c9cbe0"/><rect x="263.5" y="319.6" width="13.05" height="2.35" fill="#e9e7ef"/><rect x="276.5" y="319.6" width="13.05" height="2.35" fill="#b0b4d4"/><rect x="289.5" y="319.6" width="13.05" height="2.35" fill="#9da4cc"/><rect x="302.5" y="319.6" width="13.05" height="2.35" fill="#6875b3"/><rect x="185.5" y="321.9" width="13.05" height="2.35" fill="#f8edee"/><rect x="198.5" y="321.9" width="13.05" height="2.35" fill="#f7d9db"/><rect x="211.5" y="321.9" width="13.05" height="2.35" fill="#f6d2d4"/><rect x="224.5" y="321.9" width="13.05" height="2.35" fill="#ed6d70"/><rect x="237.5" y="321.9" width="13.05" height="2.35" fill="#e83236"/><rect x="250.5" y="321.9" width="13.05" height="2.35" fill="#c8c9df"/><rect x="263.5" y="321.9" width="13.05" height="2.35" fill="#e5e4ed"/><rect x="276.5" y="321.9" width="13.05" height="2.35" fill="#bdc0da"/><rect x="289.5" y="321.9" width="13.05" height="2.35" fill="#8d96c4"/><rect x="302.5" y="321.9" width="13.05" height="2.35" fill="#7e89bd"/><rect x="185.5" y="324.2" width="13.05" height="0.85" fill="#f8e5e7"/><rect x="198.5" y="324.2" width="13.05" height="0.85" fill="#f4bdbe"/><rect x="211.5" y="324.2" width="13.05" height="0.85" fill="#f19698"/><rect x="224.5" y="324.2" width="13.05" height="0.85" fill="#ee7c7f"/><rect x="237.5" y="324.2" width="13.05" height="0.85" fill="#ee797c"/><rect x="250.5" y="324.2" width="13.05" height="0.85" fill="#cbcde1"/><rect x="263.5" y="324.2" width="13.05" height="0.85" fill="#dbdae8"/><rect x="276.5" y="324.2" width="13.05" height="0.85" fill="#c8c9df"/><rect x="289.5" y="324.2" width="13.05" height="0.85" fill="#6472b2"/><rect x="302.5" y="324.2" width="13.05" height="0.85" fill="#838dc0"/><rect x="185.5" y="325" width="13.05" height="2.35" fill="#f5cbcc"/><rect x="198.5" y="325" width="13.05" height="2.35" fill="#f7dadc"/><rect x="211.5" y="325" width="13.05" height="2.35" fill="#ef8487"/><rect x="224.5" y="325" width="13.05" height="2.35" fill="#f08e90"/><rect x="237.5" y="325" width="13.05" height="2.35" fill="#ef878a"/><rect x="250.5" y="325" width="13.05" height="2.35" fill="#d2d3e4"/><rect x="263.5" y="325" width="13.05" height="2.35" fill="#d5d5e5"/><rect x="276.5" y="325" width="13.05" height="2.35" fill="#858ec1"/><rect x="289.5" y="325" width="13.05" height="2.35" fill="#7c87bc"/><rect x="302.5" y="325" width="13.05" height="2.35" fill="#838dc0"/><rect x="185.5" y="327.3" width="13.05" height="2.35" fill="#f8e8e9"/><rect x="198.5" y="327.3" width="13.05" height="2.35" fill="#f5cccd"/><rect x="211.5" y="327.3" width="13.05" height="2.35" fill="#f3afb1"/><rect x="224.5" y="327.3" width="13.05" height="2.35" fill="#f4bcbe"/><rect x="237.5" y="327.3" width="13.05" height="2.35" fill="#f2aaac"/><rect x="250.5" y="327.3" width="13.05" height="2.35" fill="#b9bcd8"/><rect x="263.5" y="327.3" width="13.05" height="2.35" fill="#bbbed9"/><rect x="276.5" y="327.3" width="13.05" height="2.35" fill="#a1a7cd"/><rect x="289.5" y="327.3" width="13.05" height="2.35" fill="#848ec0"/><rect x="302.5" y="327.3" width="13.05" height="2.35" fill="#b1b5d5"/><rect x="185.5" y="329.6" width="13.05" height="2.35" fill="#f4c1c3"/><rect x="198.5" y="329.6" width="13.05" height="2.35" fill="#f7dbdc"/><rect x="211.5" y="329.6" width="13.05" height="2.35" fill="#f4bdbf"/><rect x="224.5" y="329.6" width="13.05" height="2.35" fill="#f3b4b6"/><rect x="237.5" y="329.6" width="13.05" height="2.35" fill="#f4bebf"/><rect x="250.5" y="329.6" width="13.05" height="2.35" fill="#e8e6ee"/><rect x="263.5" y="329.6" width="13.05" height="2.35" fill="#c6c8df"/><rect x="276.5" y="329.6" width="13.05" height="2.35" fill="#7581b9"/><rect x="289.5" y="329.6" width="13.05" height="2.35" fill="#a1a7cd"/><rect x="302.5" y="329.6" width="13.05" height="2.35" fill="#9ea4cc"/><rect x="185.5" y="331.9" width="13.05" height="2.35" fill="#f6d4d6"/><rect x="198.5" y="331.9" width="13.05" height="2.35" fill="#f4bcbe"/><rect x="211.5" y="331.9" width="13.05" height="2.35" fill="#f4bfc1"/><rect x="224.5" y="331.9" width="13.05" height="2.35" fill="#f2a0a2"/><rect x="237.5" y="331.9" width="13.05" height="2.35" fill="#f5c7c9"/><rect x="250.5" y="331.9" width="13.05" height="2.35" fill="#d9d9e7"/><rect x="263.5" y="331.9" width="13.05" height="2.35" fill="#bbbeda"/><rect x="276.5" y="331.9" width="13.05" height="2.35" fill="#a6acd0"/><rect x="289.5" y="331.9" width="13.05" height="2.35" fill="#969dc8"/><rect x="302.5" y="331.9" width="13.05" height="2.35" fill="#b8bcd8"/><rect x="185.5" y="334.2" width="13.05" height="0.85" fill="#f7dedf"/><rect x="198.5" y="334.2" width="13.05" height="0.85" fill="#f3afb1"/><rect x="211.5" y="334.2" width="13.05" height="0.85" fill="#ec6366"/><rect x="224.5" y="334.2" width="13.05" height="0.85" fill="#f2a7a9"/><rect x="237.5" y="334.2" width="13.05" height="0.85" fill="#f5c3c5"/><rect x="250.5" y="334.2" width="13.05" height="0.85" fill="#d8d8e7"/><rect x="263.5" y="334.2" width="13.05" height="0.85" fill="#d6d6e6"/><rect x="276.5" y="334.2" width="13.05" height="0.85" fill="#c7c9df"/><rect x="289.5" y="334.2" width="13.05" height="0.85" fill="#b1b5d5"/><rect x="302.5" y="334.2" width="13.05" height="0.85" fill="#858fc1"/><rect x="185.5" y="335" width="13.05" height="2.35" fill="#f5ccce"/><rect x="198.5" y="335" width="13.05" height="2.35" fill="#f3b1b3"/><rect x="211.5" y="335" width="13.05" height="2.35" fill="#f2a1a3"/><rect x="224.5" y="335" width="13.05" height="2.35" fill="#f6d3d5"/><rect x="237.5" y="335" width="13.05" height="2.35" fill="#ec6568"/><rect x="250.5" y="335" width="13.05" height="2.35" fill="#cacce0"/><rect x="263.5" y="335" width="13.05" height="2.35" fill="#bfc1db"/><rect x="276.5" y="335" width="13.05" height="2.35" fill="#c0c3dc"/><rect x="289.5" y="335" width="13.05" height="2.35" fill="#7b86bc"/><rect x="302.5" y="335" width="13.05" height="2.35" fill="#c1c3dc"/><rect x="185.5" y="337.3" width="13.05" height="2.35" fill="#f6d7d9"/><rect x="198.5" y="337.3" width="13.05" height="2.35" fill="#f3b0b2"/><rect x="211.5" y="337.3" width="13.05" height="2.35" fill="#f0898c"/><rect x="224.5" y="337.3" width="13.05" height="2.35" fill="#f4bdbf"/><rect x="237.5" y="337.3" width="13.05" height="2.35" fill="#f4babc"/><rect x="250.5" y="337.3" width="13.05" height="2.35" fill="#a4aacf"/><rect x="263.5" y="337.3" width="13.05" height="2.35" fill="#d3d4e5"/><rect x="276.5" y="337.3" width="13.05" height="2.35" fill="#8c95c4"/><rect x="289.5" y="337.3" width="13.05" height="2.35" fill="#848dc0"/><rect x="302.5" y="337.3" width="13.05" height="2.35" fill="#9098c6"/><rect x="185.5" y="339.6" width="13.05" height="2.35" fill="#f2a5a7"/><rect x="198.5" y="339.6" width="13.05" height="2.35" fill="#f19b9d"/><rect x="211.5" y="339.6" width="13.05" height="2.35" fill="#f4bdbf"/><rect x="224.5" y="339.6" width="13.05" height="2.35" fill="#f5cccd"/><rect x="237.5" y="339.6" width="13.05" height="2.35" fill="#ec5f62"/><rect x="250.5" y="339.6" width="13.05" height="2.35" fill="#b2b6d5"/><rect x="263.5" y="339.6" width="13.05" height="2.35" fill="#e2e1ec"/><rect x="276.5" y="339.6" width="13.05" height="2.35" fill="#99a0ca"/><rect x="289.5" y="339.6" width="13.05" height="2.35" fill="#9fa6cd"/><rect x="302.5" y="339.6" width="13.05" height="2.35" fill="#838dc0"/><rect x="185.5" y="341.9" width="13.05" height="2.35" fill="#f2a7aa"/><rect x="198.5" y="341.9" width="13.05" height="2.35" fill="#f2a2a4"/><rect x="211.5" y="341.9" width="13.05" height="2.35" fill="#f29fa1"/><rect x="224.5" y="341.9" width="13.05" height="2.35" fill="#f2a2a5"/><rect x="237.5" y="341.9" width="13.05" height="2.35" fill="#ef888a"/><rect x="250.5" y="341.9" width="13.05" height="2.35" fill="#a6acd0"/><rect x="263.5" y="341.9" width="13.05" height="2.35" fill="#d2d2e4"/><rect x="276.5" y="341.9" width="13.05" height="2.35" fill="#969ec8"/><rect x="289.5" y="341.9" width="13.05" height="2.35" fill="#9ba2cb"/><rect x="302.5" y="341.9" width="13.05" height="2.35" fill="#929ac7"/><rect x="185.5" y="344.2" width="13.05" height="0.85" fill="#f6cfd1"/><rect x="198.5" y="344.2" width="13.05" height="0.85" fill="#f6d1d3"/><rect x="211.5" y="344.2" width="13.05" height="0.85" fill="#ef8689"/><rect x="224.5" y="344.2" width="13.05" height="0.85" fill="#f3b6b8"/><rect x="237.5" y="344.2" width="13.05" height="0.85" fill="#f3b6b7"/><rect x="250.5" y="344.2" width="13.05" height="0.85" fill="#c4c6de"/><rect x="263.5" y="344.2" width="13.05" height="0.85" fill="#dcdbe9"/><rect x="276.5" y="344.2" width="13.05" height="0.85" fill="#cacbe0"/><rect x="289.5" y="344.2" width="13.05" height="0.85" fill="#7d88bd"/><rect x="302.5" y="344.2" width="13.05" height="0.85" fill="#929bc7"/><rect x="185.5" y="345" width="13.05" height="2.35" fill="#f4bdbf"/><rect x="198.5" y="345" width="13.05" height="2.35" fill="#f8e7e9"/><rect x="211.5" y="345" width="13.05" height="2.35" fill="#ec5f63"/><rect x="224.5" y="345" width="13.05" height="2.35" fill="#f0898b"/><rect x="237.5" y="345" width="13.05" height="2.35" fill="#f19ea0"/><rect x="250.5" y="345" width="13.05" height="2.35" fill="#b3b7d6"/><rect x="263.5" y="345" width="13.05" height="2.35" fill="#d1d1e3"/><rect x="276.5" y="345" width="13.05" height="2.35" fill="#858fc1"/><rect x="289.5" y="345" width="13.05" height="2.35" fill="#858ec0"/><rect x="302.5" y="345" width="13.05" height="2.35" fill="#9199c6"/><rect x="185.5" y="347.3" width="13.05" height="2.35" fill="#f6d4d6"/><rect x="198.5" y="347.3" width="13.05" height="2.35" fill="#f6d3d4"/><rect x="211.5" y="347.3" width="13.05" height="2.35" fill="#f2a1a3"/><rect x="224.5" y="347.3" width="13.05" height="2.35" fill="#f3b4b6"/><rect x="237.5" y="347.3" width="13.05" height="2.35" fill="#f6d4d5"/><rect x="250.5" y="347.3" width="13.05" height="2.35" fill="#c8cadf"/><rect x="263.5" y="347.3" width="13.05" height="2.35" fill="#e1e0eb"/><rect x="276.5" y="347.3" width="13.05" height="2.35" fill="#838dc0"/><rect x="289.5" y="347.3" width="13.05" height="2.35" fill="#8790c1"/><rect x="302.5" y="347.3" width="13.05" height="2.35" fill="#aaafd2"/><rect x="185.5" y="349.6" width="13.05" height="2.35" fill="#f3b2b4"/><rect x="198.5" y="349.6" width="13.05" height="2.35" fill="#f8e8e9"/><rect x="211.5" y="349.6" width="13.05" height="2.35" fill="#ed696c"/><rect x="224.5" y="349.6" width="13.05" height="2.35" fill="#f3b2b4"/><rect x="237.5" y="349.6" width="13.05" height="2.35" fill="#f7dbdc"/><rect x="250.5" y="349.6" width="13.05" height="2.35" fill="#9fa5cd"/><rect x="263.5" y="349.6" width="13.05" height="2.35" fill="#e4e2ec"/><rect x="276.5" y="349.6" width="13.05" height="2.35" fill="#7581b9"/><rect x="289.5" y="349.6" width="13.05" height="2.35" fill="#babdd9"/><rect x="302.5" y="349.6" width="13.05" height="2.35" fill="#bfc2db"/><rect x="185.5" y="351.9" width="13.05" height="2.35" fill="#f4b6b8"/><rect x="198.5" y="351.9" width="13.05" height="2.35" fill="#f6d1d3"/><rect x="211.5" y="351.9" width="13.05" height="2.35" fill="#f08b8e"/><rect x="224.5" y="351.9" width="13.05" height="2.35" fill="#f08b8d"/><rect x="237.5" y="351.9" width="13.05" height="2.35" fill="#f5c8ca"/><rect x="250.5" y="351.9" width="13.05" height="2.35" fill="#b0b4d4"/><rect x="263.5" y="351.9" width="13.05" height="2.35" fill="#d9d9e7"/><rect x="276.5" y="351.9" width="13.05" height="2.35" fill="#8690c1"/><rect x="289.5" y="351.9" width="13.05" height="2.35" fill="#a9afd1"/><rect x="302.5" y="351.9" width="13.05" height="2.35" fill="#838dc0"/><rect x="185.5" y="354.2" width="13.05" height="0.85" fill="#f2aaac"/><rect x="198.5" y="354.2" width="13.05" height="0.85" fill="#f7e0e2"/><rect x="211.5" y="354.2" width="13.05" height="0.85" fill="#ed6d70"/><rect x="224.5" y="354.2" width="13.05" height="0.85" fill="#ef8487"/><rect x="237.5" y="354.2" width="13.05" height="0.85" fill="#f1999c"/><rect x="250.5" y="354.2" width="13.05" height="0.85" fill="#cfd0e3"/><rect x="263.5" y="354.2" width="13.05" height="0.85" fill="#f9f5f6"/><rect x="276.5" y="354.2" width="13.05" height="0.85" fill="#b4b8d6"/><rect x="289.5" y="354.2" width="13.05" height="0.85" fill="#959dc8"/><rect x="302.5" y="354.2" width="13.05" height="0.85" fill="#c0c2dc"/><rect x="185.5" y="355" width="13.05" height="2.35" fill="#f5c9cb"/><rect x="198.5" y="355" width="13.05" height="2.35" fill="#f3adaf"/><rect x="211.5" y="355" width="13.05" height="2.35" fill="#f3b5b7"/><rect x="224.5" y="355" width="13.05" height="2.35" fill="#ec6265"/><rect x="237.5" y="355" width="13.05" height="2.35" fill="#ee7b7e"/><rect x="250.5" y="355" width="13.05" height="2.35" fill="#929ac6"/><rect x="263.5" y="355" width="13.05" height="2.35" fill="#c7c9df"/><rect x="276.5" y="355" width="13.05" height="2.35" fill="#d3d4e5"/><rect x="289.5" y="355" width="13.05" height="2.35" fill="#5463aa"/><rect x="302.5" y="355" width="13.05" height="2.35" fill="#b7bad7"/><rect x="185.5" y="357.3" width="13.05" height="2.35" fill="#f3b1b3"/><rect x="198.5" y="357.3" width="13.05" height="2.35" fill="#f3abad"/><rect x="211.5" y="357.3" width="13.05" height="2.35" fill="#f5cccd"/><rect x="224.5" y="357.3" width="13.05" height="2.35" fill="#ee777a"/><rect x="237.5" y="357.3" width="13.05" height="2.35" fill="#f3adaf"/><rect x="250.5" y="357.3" width="13.05" height="2.35" fill="#9fa6cd"/><rect x="263.5" y="357.3" width="13.05" height="2.35" fill="#cecfe2"/><rect x="276.5" y="357.3" width="13.05" height="2.35" fill="#d0d1e3"/><rect x="289.5" y="357.3" width="13.05" height="2.35" fill="#9ea5cc"/><rect x="302.5" y="357.3" width="13.05" height="2.35" fill="#cdcee2"/><rect x="185.5" y="359.6" width="13.05" height="2.35" fill="#f2aaac"/><rect x="198.5" y="359.6" width="13.05" height="2.35" fill="#f3b2b4"/><rect x="211.5" y="359.6" width="13.05" height="2.35" fill="#f2a3a5"/><rect x="224.5" y="359.6" width="13.05" height="2.35" fill="#f09295"/><rect x="237.5" y="359.6" width="13.05" height="2.35" fill="#f2aaac"/><rect x="250.5" y="359.6" width="13.05" height="2.35" fill="#bdc0da"/><rect x="263.5" y="359.6" width="13.05" height="2.35" fill="#dcdce9"/><rect x="276.5" y="359.6" width="13.05" height="2.35" fill="#cccee2"/><rect x="289.5" y="359.6" width="13.05" height="2.35" fill="#8892c2"/><rect x="302.5" y="359.6" width="13.05" height="2.35" fill="#d9d9e7"/><rect x="185.5" y="361.9" width="13.05" height="2.35" fill="#f2a9ab"/><rect x="198.5" y="361.9" width="13.05" height="2.35" fill="#f2a8aa"/><rect x="211.5" y="361.9" width="13.05" height="2.35" fill="#f3adaf"/><rect x="224.5" y="361.9" width="13.05" height="2.35" fill="#e93d41"/><rect x="237.5" y="361.9" width="13.05" height="2.35" fill="#f19d9f"/><rect x="250.5" y="361.9" width="13.05" height="2.35" fill="#b8bbd8"/><rect x="263.5" y="361.9" width="13.05" height="2.35" fill="#d0d1e3"/><rect x="276.5" y="361.9" width="13.05" height="2.35" fill="#c2c4dd"/><rect x="289.5" y="361.9" width="13.05" height="2.35" fill="#6270b1"/><rect x="302.5" y="361.9" width="13.05" height="2.35" fill="#d0d0e3"/><rect x="185.5" y="364.2" width="13.05" height="0.85" fill="#f08b8e"/><rect x="198.5" y="364.2" width="13.05" height="0.85" fill="#f3b4b6"/><rect x="211.5" y="364.2" width="13.05" height="0.85" fill="#f4bcbe"/><rect x="224.5" y="364.2" width="13.05" height="0.85" fill="#ea4b4f"/><rect x="237.5" y="364.2" width="13.05" height="0.85" fill="#f4bfc1"/><rect x="250.5" y="364.2" width="13.05" height="0.85" fill="#939bc7"/><rect x="263.5" y="364.2" width="13.05" height="0.85" fill="#d3d4e5"/><rect x="276.5" y="364.2" width="13.05" height="0.85" fill="#d6d6e6"/><rect x="289.5" y="364.2" width="13.05" height="0.85" fill="#6976b4"/><rect x="302.5" y="364.2" width="13.05" height="0.85" fill="#c9cbe0"/><rect x="185.5" y="365" width="13.05" height="2.35" fill="#f5c4c6"/><rect x="198.5" y="365" width="13.05" height="2.35" fill="#eb5458"/><rect x="211.5" y="365" width="13.05" height="2.35" fill="#ea474b"/><rect x="224.5" y="365" width="13.05" height="2.35" fill="#f6cfd1"/><rect x="237.5" y="365" width="13.05" height="2.35" fill="#f5c8ca"/><rect x="250.5" y="365" width="13.05" height="2.35" fill="#c9cae0"/><rect x="263.5" y="365" width="13.05" height="2.35" fill="#b1b6d5"/><rect x="276.5" y="365" width="13.05" height="2.35" fill="#c4c6de"/><rect x="289.5" y="365" width="13.05" height="2.35" fill="#dbdbe8"/><rect x="302.5" y="365" width="13.05" height="2.35" fill="#f5f1f4"/><rect x="185.5" y="367.3" width="13.05" height="2.35" fill="#f7d9da"/><rect x="198.5" y="367.3" width="13.05" height="2.35" fill="#e93a3d"/><rect x="211.5" y="367.3" width="13.05" height="2.35" fill="#e93c40"/><rect x="224.5" y="367.3" width="13.05" height="2.35" fill="#f19699"/><rect x="237.5" y="367.3" width="13.05" height="2.35" fill="#f6d1d3"/><rect x="250.5" y="367.3" width="13.05" height="2.35" fill="#d8d8e7"/><rect x="263.5" y="367.3" width="13.05" height="2.35" fill="#cbcde1"/><rect x="276.5" y="367.3" width="13.05" height="2.35" fill="#4f5fa8"/><rect x="289.5" y="367.3" width="13.05" height="2.35" fill="#f0edf2"/><rect x="302.5" y="367.3" width="13.05" height="2.35" fill="#f1eef2"/><rect x="185.5" y="369.6" width="13.05" height="2.35" fill="#f6d2d4"/><rect x="198.5" y="369.6" width="13.05" height="2.35" fill="#f3acaf"/><rect x="211.5" y="369.6" width="13.05" height="2.35" fill="#f2a4a6"/><rect x="224.5" y="369.6" width="13.05" height="2.35" fill="#f4b7b8"/><rect x="237.5" y="369.6" width="13.05" height="2.35" fill="#f5c9cb"/><rect x="250.5" y="369.6" width="13.05" height="2.35" fill="#e4e2ec"/><rect x="263.5" y="369.6" width="13.05" height="2.35" fill="#cbcce1"/><rect x="276.5" y="369.6" width="13.05" height="2.35" fill="#b4b8d6"/><rect x="289.5" y="369.6" width="13.05" height="2.35" fill="#c6c8de"/><rect x="302.5" y="369.6" width="13.05" height="2.35" fill="#e6e5ed"/><rect x="185.5" y="371.9" width="13.05" height="2.35" fill="#f7dadb"/><rect x="198.5" y="371.9" width="13.05" height="2.35" fill="#ec6265"/><rect x="211.5" y="371.9" width="13.05" height="2.35" fill="#f09294"/><rect x="224.5" y="371.9" width="13.05" height="2.35" fill="#f5c8ca"/><rect x="237.5" y="371.9" width="13.05" height="2.35" fill="#f7dbdd"/><rect x="250.5" y="371.9" width="13.05" height="2.35" fill="#cfd0e3"/><rect x="263.5" y="371.9" width="13.05" height="2.35" fill="#b7bad7"/><rect x="276.5" y="371.9" width="13.05" height="2.35" fill="#969ec8"/><rect x="289.5" y="371.9" width="13.05" height="2.35" fill="#e2e1eb"/><rect x="302.5" y="371.9" width="13.05" height="2.35" fill="#e2e1eb"/><rect x="185.5" y="374.2" width="13.05" height="0.85" fill="#f5c7c9"/><rect x="198.5" y="374.2" width="13.05" height="0.85" fill="#e93d41"/><rect x="211.5" y="374.2" width="13.05" height="0.85" fill="#ec5f62"/><rect x="224.5" y="374.2" width="13.05" height="0.85" fill="#f08e91"/><rect x="237.5" y="374.2" width="13.05" height="0.85" fill="#f19d9f"/><rect x="250.5" y="374.2" width="13.05" height="0.85" fill="#dddde9"/><rect x="263.5" y="374.2" width="13.05" height="0.85" fill="#b1b5d5"/><rect x="276.5" y="374.2" width="13.05" height="0.85" fill="#7a85bb"/><rect x="289.5" y="374.2" width="13.05" height="0.85" fill="#ebe8ef"/><rect x="302.5" y="374.2" width="13.05" height="0.85" fill="#d2d3e4"/><rect x="185.5" y="375" width="13.05" height="2.35" fill="#f6d5d6"/><rect x="198.5" y="375" width="13.05" height="2.35" fill="#ef8082"/><rect x="211.5" y="375" width="13.05" height="2.35" fill="#ee7679"/><rect x="224.5" y="375" width="13.05" height="2.35" fill="#f19c9f"/><rect x="237.5" y="375" width="13.05" height="2.35" fill="#eb5558"/><rect x="250.5" y="375" width="13.05" height="2.35" fill="#eeebf1"/><rect x="263.5" y="375" width="13.05" height="2.35" fill="#babdd9"/><rect x="276.5" y="375" width="13.05" height="2.35" fill="#a2a9ce"/><rect x="289.5" y="375" width="13.05" height="2.35" fill="#e2e1ec"/><rect x="302.5" y="375" width="13.05" height="2.35" fill="#bcbfda"/><rect x="185.5" y="377.3" width="13.05" height="2.35" fill="#f5c2c4"/><rect x="198.5" y="377.3" width="13.05" height="2.35" fill="#ed6c6f"/><rect x="211.5" y="377.3" width="13.05" height="2.35" fill="#ef8588"/><rect x="224.5" y="377.3" width="13.05" height="2.35" fill="#f4babc"/><rect x="237.5" y="377.3" width="13.05" height="2.35" fill="#f2a5a7"/><rect x="250.5" y="377.3" width="13.05" height="2.35" fill="#dadae8"/><rect x="263.5" y="377.3" width="13.05" height="2.35" fill="#5c6bae"/><rect x="276.5" y="377.3" width="13.05" height="2.35" fill="#c1c4dc"/><rect x="289.5" y="377.3" width="13.05" height="2.35" fill="#e7e5ee"/><rect x="302.5" y="377.3" width="13.05" height="2.35" fill="#a3a9ce"/><rect x="185.5" y="379.6" width="13.05" height="2.35" fill="#f5c1c3"/><rect x="198.5" y="379.6" width="13.05" height="2.35" fill="#ea4a4d"/><rect x="211.5" y="379.6" width="13.05" height="2.35" fill="#f4b7b9"/><rect x="224.5" y="379.6" width="13.05" height="2.35" fill="#f1989b"/><rect x="237.5" y="379.6" width="13.05" height="2.35" fill="#ee7578"/><rect x="250.5" y="379.6" width="13.05" height="2.35" fill="#d8d8e7"/><rect x="263.5" y="379.6" width="13.05" height="2.35" fill="#4d5da7"/><rect x="276.5" y="379.6" width="13.05" height="2.35" fill="#acb1d3"/><rect x="289.5" y="379.6" width="13.05" height="2.35" fill="#bbbfda"/><rect x="302.5" y="379.6" width="13.05" height="2.35" fill="#a4aacf"/><rect x="185.5" y="381.9" width="13.05" height="2.35" fill="#f4b8ba"/><rect x="198.5" y="381.9" width="13.05" height="2.35" fill="#f3acae"/><rect x="211.5" y="381.9" width="13.05" height="2.35" fill="#eb5356"/><rect x="224.5" y="381.9" width="13.05" height="2.35" fill="#f5c5c7"/><rect x="237.5" y="381.9" width="13.05" height="2.35" fill="#eb585b"/><rect x="250.5" y="381.9" width="13.05" height="2.35" fill="#e8e6ee"/><rect x="263.5" y="381.9" width="13.05" height="2.35" fill="#5262a9"/><rect x="276.5" y="381.9" width="13.05" height="2.35" fill="#8c95c4"/><rect x="289.5" y="381.9" width="13.05" height="2.35" fill="#dbdae8"/><rect x="302.5" y="381.9" width="13.05" height="2.35" fill="#8e96c5"/><rect x="185.5" y="384.2" width="13.05" height="0.85" fill="#f5c6c7"/><rect x="198.5" y="384.2" width="13.05" height="0.85" fill="#f4bcbe"/><rect x="211.5" y="384.2" width="13.05" height="0.85" fill="#ea4a4e"/><rect x="224.5" y="384.2" width="13.05" height="0.85" fill="#f5c8ca"/><rect x="237.5" y="384.2" width="13.05" height="0.85" fill="#ec6064"/><rect x="250.5" y="384.2" width="13.05" height="0.85" fill="#f0edf2"/><rect x="263.5" y="384.2" width="13.05" height="0.85" fill="#737fb8"/><rect x="276.5" y="384.2" width="13.05" height="0.85" fill="#929ac6"/><rect x="289.5" y="384.2" width="13.05" height="0.85" fill="#afb4d4"/><rect x="302.5" y="384.2" width="13.05" height="0.85" fill="#adb2d3"/><rect x="185.5" y="385" width="13.05" height="2.35" fill="#f6cecf"/><rect x="198.5" y="385" width="13.05" height="2.35" fill="#ea474a"/><rect x="211.5" y="385" width="13.05" height="2.35" fill="#f6cfd1"/><rect x="224.5" y="385" width="13.05" height="2.35" fill="#f19a9c"/><rect x="237.5" y="385" width="13.05" height="2.35" fill="#f19c9f"/><rect x="250.5" y="385" width="13.05" height="2.35" fill="#e2e1eb"/><rect x="263.5" y="385" width="13.05" height="2.35" fill="#a1a8ce"/><rect x="276.5" y="385" width="13.05" height="2.35" fill="#c2c5dd"/><rect x="289.5" y="385" width="13.05" height="2.35" fill="#dbdae8"/><rect x="302.5" y="385" width="13.05" height="2.35" fill="#6472b1"/><rect x="185.5" y="387.3" width="13.05" height="2.35" fill="#f6d2d3"/><rect x="198.5" y="387.3" width="13.05" height="2.35" fill="#ed686b"/><rect x="211.5" y="387.3" width="13.05" height="2.35" fill="#f08b8e"/><rect x="224.5" y="387.3" width="13.05" height="2.35" fill="#f5c6c8"/><rect x="237.5" y="387.3" width="13.05" height="2.35" fill="#ed6b6e"/><rect x="250.5" y="387.3" width="13.05" height="2.35" fill="#f2eff3"/><rect x="263.5" y="387.3" width="13.05" height="2.35" fill="#d1d2e4"/><rect x="276.5" y="387.3" width="13.05" height="2.35" fill="#dadae8"/><rect x="289.5" y="387.3" width="13.05" height="2.35" fill="#cbcde1"/><rect x="302.5" y="387.3" width="13.05" height="2.35" fill="#a7add0"/><rect x="185.5" y="389.6" width="13.05" height="2.35" fill="#f8e8ea"/><rect x="198.5" y="389.6" width="13.05" height="2.35" fill="#ef8083"/><rect x="211.5" y="389.6" width="13.05" height="2.35" fill="#f0898b"/><rect x="224.5" y="389.6" width="13.05" height="2.35" fill="#f19a9c"/><rect x="237.5" y="389.6" width="13.05" height="2.35" fill="#ec6164"/><rect x="250.5" y="389.6" width="13.05" height="2.35" fill="#f3f0f3"/><rect x="263.5" y="389.6" width="13.05" height="2.35" fill="#828cbf"/><rect x="276.5" y="389.6" width="13.05" height="2.35" fill="#cecfe2"/><rect x="289.5" y="389.6" width="13.05" height="2.35" fill="#d0d1e3"/><rect x="302.5" y="389.6" width="13.05" height="2.35" fill="#6673b2"/><rect x="185.5" y="391.9" width="13.05" height="2.35" fill="#f6d2d4"/><rect x="198.5" y="391.9" width="13.05" height="2.35" fill="#ed676a"/><rect x="211.5" y="391.9" width="13.05" height="2.35" fill="#f3acae"/><rect x="224.5" y="391.9" width="13.05" height="2.35" fill="#f3b3b5"/><rect x="237.5" y="391.9" width="13.05" height="2.35" fill="#ee7376"/><rect x="250.5" y="391.9" width="13.05" height="2.35" fill="#e4e2ec"/><rect x="263.5" y="391.9" width="13.05" height="2.35" fill="#c7c9df"/><rect x="276.5" y="391.9" width="13.05" height="2.35" fill="#d5d5e6"/><rect x="289.5" y="391.9" width="13.05" height="2.35" fill="#dfdeea"/><rect x="302.5" y="391.9" width="13.05" height="2.35" fill="#848ec0"/><rect x="185.5" y="394.2" width="13.05" height="2.35" fill="#f8e7e8"/><rect x="198.5" y="394.2" width="13.05" height="2.35" fill="#f2a5a7"/><rect x="211.5" y="394.2" width="13.05" height="2.35" fill="#f19d9f"/><rect x="224.5" y="394.2" width="13.05" height="2.35" fill="#f3aeb0"/><rect x="237.5" y="394.2" width="13.05" height="2.35" fill="#ed6f72"/><rect x="250.5" y="394.2" width="13.05" height="2.35" fill="#e9e7ef"/><rect x="263.5" y="394.2" width="13.05" height="2.35" fill="#8d96c4"/><rect x="276.5" y="394.2" width="13.05" height="2.35" fill="#e1e0eb"/><rect x="289.5" y="394.2" width="13.05" height="2.35" fill="#d9d8e7"/><rect x="302.5" y="394.2" width="13.05" height="2.35" fill="#8b94c3"/><rect x="185.5" y="396.5" width="13.05" height="0.55" fill="#f6d3d5"/><rect x="198.5" y="396.5" width="13.05" height="0.55" fill="#ec5c5f"/><rect x="211.5" y="396.5" width="13.05" height="0.55" fill="#f08c8f"/><rect x="224.5" y="396.5" width="13.05" height="0.55" fill="#f2a6a8"/><rect x="237.5" y="396.5" width="13.05" height="0.55" fill="#ee7477"/><rect x="250.5" y="396.5" width="13.05" height="0.55" fill="#edebf1"/><rect x="263.5" y="396.5" width="13.05" height="0.55" fill="#b9bcd8"/><rect x="276.5" y="396.5" width="13.05" height="0.55" fill="#d6d6e6"/><rect x="289.5" y="396.5" width="13.05" height="0.55" fill="#cdcee2"/><rect x="302.5" y="396.5" width="13.05" height="0.55" fill="#babdd9"/><rect x="185.5" y="397" width="13.05" height="2.35" fill="#f5f2f4"/><rect x="198.5" y="397" width="13.05" height="2.35" fill="#989fc9"/><rect x="211.5" y="397" width="13.05" height="2.35" fill="#f5f1f4"/><rect x="224.5" y="397" width="13.05" height="2.35" fill="#afb4d4"/><rect x="237.5" y="397" width="13.05" height="2.35" fill="#8c95c4"/><rect x="250.5" y="397" width="13.05" height="2.35" fill="#f7dedf"/><rect x="263.5" y="397" width="13.05" height="2.35" fill="#ea4d51"/><rect x="276.5" y="397" width="13.05" height="2.35" fill="#f7dedf"/><rect x="289.5" y="397" width="13.05" height="2.35" fill="#f5c4c6"/><rect x="302.5" y="397" width="13.05" height="2.35" fill="#f4bcbe"/><rect x="185.5" y="399.3" width="13.05" height="2.35" fill="#efecf1"/><rect x="198.5" y="399.3" width="13.05" height="2.35" fill="#8891c2"/><rect x="211.5" y="399.3" width="13.05" height="2.35" fill="#ece9f0"/><rect x="224.5" y="399.3" width="13.05" height="2.35" fill="#8992c3"/><rect x="237.5" y="399.3" width="13.05" height="2.35" fill="#cfd0e3"/><rect x="250.5" y="399.3" width="13.05" height="2.35" fill="#f8e9ea"/><rect x="263.5" y="399.3" width="13.05" height="2.35" fill="#ed676a"/><rect x="276.5" y="399.3" width="13.05" height="2.35" fill="#f7dedf"/><rect x="289.5" y="399.3" width="13.05" height="2.35" fill="#f08d90"/><rect x="302.5" y="399.3" width="13.05" height="2.35" fill="#f2a8aa"/><rect x="185.5" y="401.6" width="13.05" height="2.35" fill="#edeaf0"/><rect x="198.5" y="401.6" width="13.05" height="2.35" fill="#4355a2"/><rect x="211.5" y="401.6" width="13.05" height="2.35" fill="#f6f2f4"/><rect x="224.5" y="401.6" width="13.05" height="2.35" fill="#abb1d2"/><rect x="237.5" y="401.6" width="13.05" height="2.35" fill="#98a0ca"/><rect x="250.5" y="401.6" width="13.05" height="2.35" fill="#f9f0f1"/><rect x="263.5" y="401.6" width="13.05" height="2.35" fill="#ec5c60"/><rect x="276.5" y="401.6" width="13.05" height="2.35" fill="#f8edee"/><rect x="289.5" y="401.6" width="13.05" height="2.35" fill="#f4b6b8"/><rect x="302.5" y="401.6" width="13.05" height="2.35" fill="#f2a9ab"/><rect x="185.5" y="403.9" width="13.05" height="1.15" fill="#ebe8ef"/><rect x="198.5" y="403.9" width="13.05" height="1.15" fill="#b5b9d7"/><rect x="211.5" y="403.9" width="13.05" height="1.15" fill="#edebf1"/><rect x="224.5" y="403.9" width="13.05" height="1.15" fill="#a0a6cd"/><rect x="237.5" y="403.9" width="13.05" height="1.15" fill="#a4aacf"/><rect x="250.5" y="403.9" width="13.05" height="1.15" fill="#f9f0f1"/><rect x="263.5" y="403.9" width="13.05" height="1.15" fill="#e83639"/><rect x="276.5" y="403.9" width="13.05" height="1.15" fill="#f5c7c9"/><rect x="289.5" y="403.9" width="13.05" height="1.15" fill="#f19a9c"/><rect x="302.5" y="403.9" width="13.05" height="1.15" fill="#f4bec0"/><rect x="185.5" y="405" width="13.05" height="2.35" fill="#e9e7ef"/><rect x="198.5" y="405" width="13.05" height="2.35" fill="#6c79b5"/><rect x="211.5" y="405" width="13.05" height="2.35" fill="#d1d1e3"/><rect x="224.5" y="405" width="13.05" height="2.35" fill="#727db8"/><rect x="237.5" y="405" width="13.05" height="2.35" fill="#dbdbe8"/><rect x="250.5" y="405" width="13.05" height="2.35" fill="#e7e5ee"/><rect x="263.5" y="405" width="13.05" height="2.35" fill="#ed676a"/><rect x="276.5" y="405" width="13.05" height="2.35" fill="#f8e6e7"/><rect x="289.5" y="405" width="13.05" height="2.35" fill="#f08b8d"/><rect x="302.5" y="405" width="13.05" height="2.35" fill="#f2a1a3"/><rect x="185.5" y="407.3" width="13.05" height="2.35" fill="#e5e4ed"/><rect x="198.5" y="407.3" width="13.05" height="2.35" fill="#a1a8ce"/><rect x="211.5" y="407.3" width="13.05" height="2.35" fill="#dedeea"/><rect x="224.5" y="407.3" width="13.05" height="2.35" fill="#717db7"/><rect x="237.5" y="407.3" width="13.05" height="2.35" fill="#c8cadf"/><rect x="250.5" y="407.3" width="13.05" height="2.35" fill="#f7f3f5"/><rect x="263.5" y="407.3" width="13.05" height="2.35" fill="#eb5558"/><rect x="276.5" y="407.3" width="13.05" height="2.35" fill="#f7dbdc"/><rect x="289.5" y="407.3" width="13.05" height="2.35" fill="#f09396"/><rect x="302.5" y="407.3" width="13.05" height="2.35" fill="#f08c8f"/><rect x="185.5" y="409.6" width="13.05" height="2.35" fill="#eeebf1"/><rect x="198.5" y="409.6" width="13.05" height="2.35" fill="#bbbed9"/><rect x="211.5" y="409.6" width="13.05" height="2.35" fill="#e9e7ef"/><rect x="224.5" y="409.6" width="13.05" height="2.35" fill="#8d96c4"/><rect x="237.5" y="409.6" width="13.05" height="2.35" fill="#929ac7"/><rect x="250.5" y="409.6" width="13.05" height="2.35" fill="#e7e5ee"/><rect x="263.5" y="409.6" width="13.05" height="2.35" fill="#f09092"/><rect x="276.5" y="409.6" width="13.05" height="2.35" fill="#f8eaeb"/><rect x="289.5" y="409.6" width="13.05" height="2.35" fill="#f1989b"/><rect x="302.5" y="409.6" width="13.05" height="2.35" fill="#f3b0b2"/><rect x="185.5" y="411.9" width="13.05" height="2.35" fill="#f2eff3"/><rect x="198.5" y="411.9" width="13.05" height="2.35" fill="#7783ba"/><rect x="211.5" y="411.9" width="13.05" height="2.35" fill="#eae7ef"/><rect x="224.5" y="411.9" width="13.05" height="2.35" fill="#c8c9df"/><rect x="237.5" y="411.9" width="13.05" height="2.35" fill="#cfd0e2"/><rect x="250.5" y="411.9" width="13.05" height="2.35" fill="#dbdbe8"/><rect x="263.5" y="411.9" width="13.05" height="2.35" fill="#eb585b"/><rect x="276.5" y="411.9" width="13.05" height="2.35" fill="#f8f4f5"/><rect x="289.5" y="411.9" width="13.05" height="2.35" fill="#f6d1d3"/><rect x="302.5" y="411.9" width="13.05" height="2.35" fill="#f5c8ca"/><rect x="185.5" y="414.2" width="13.05" height="0.85" fill="#f2eff3"/><rect x="198.5" y="414.2" width="13.05" height="0.85" fill="#6c79b5"/><rect x="211.5" y="414.2" width="13.05" height="0.85" fill="#e6e4ed"/><rect x="224.5" y="414.2" width="13.05" height="0.85" fill="#a1a7cd"/><rect x="237.5" y="414.2" width="13.05" height="0.85" fill="#aaafd2"/><rect x="250.5" y="414.2" width="13.05" height="0.85" fill="#f2eff3"/><rect x="263.5" y="414.2" width="13.05" height="0.85" fill="#ea474b"/><rect x="276.5" y="414.2" width="13.05" height="0.85" fill="#f8f4f5"/><rect x="289.5" y="414.2" width="13.05" height="0.85" fill="#f19a9c"/><rect x="302.5" y="414.2" width="13.05" height="0.85" fill="#ef8385"/><rect x="185.5" y="415" width="13.05" height="2.35" fill="#e8e6ee"/><rect x="198.5" y="415" width="13.05" height="2.35" fill="#b4b8d6"/><rect x="211.5" y="415" width="13.05" height="2.35" fill="#606eb0"/><rect x="224.5" y="415" width="13.05" height="2.35" fill="#a1a7cd"/><rect x="237.5" y="415" width="13.05" height="2.35" fill="#bec1db"/><rect x="250.5" y="415" width="13.05" height="2.35" fill="#f8edee"/><rect x="263.5" y="415" width="13.05" height="2.35" fill="#ed6b6e"/><rect x="276.5" y="415" width="13.05" height="2.35" fill="#f19b9e"/><rect x="289.5" y="415" width="13.05" height="2.35" fill="#f3abad"/><rect x="302.5" y="415" width="13.05" height="2.35" fill="#f4c0c1"/><rect x="185.5" y="417.3" width="13.05" height="2.35" fill="#ece9f0"/><rect x="198.5" y="417.3" width="13.05" height="2.35" fill="#abb0d2"/><rect x="211.5" y="417.3" width="13.05" height="2.35" fill="#b8bcd8"/><rect x="224.5" y="417.3" width="13.05" height="2.35" fill="#d4d4e5"/><rect x="237.5" y="417.3" width="13.05" height="2.35" fill="#8d95c4"/><rect x="250.5" y="417.3" width="13.05" height="2.35" fill="#f8edef"/><rect x="263.5" y="417.3" width="13.05" height="2.35" fill="#ec6468"/><rect x="276.5" y="417.3" width="13.05" height="2.35" fill="#f3b6b8"/><rect x="289.5" y="417.3" width="13.05" height="2.35" fill="#ef8083"/><rect x="302.5" y="417.3" width="13.05" height="2.35" fill="#ef8083"/><rect x="185.5" y="419.6" width="13.05" height="2.35" fill="#f2eff3"/><rect x="198.5" y="419.6" width="13.05" height="2.35" fill="#8c95c4"/><rect x="211.5" y="419.6" width="13.05" height="2.35" fill="#b4b8d6"/><rect x="224.5" y="419.6" width="13.05" height="2.35" fill="#949cc7"/><rect x="237.5" y="419.6" width="13.05" height="2.35" fill="#8d96c5"/><rect x="250.5" y="419.6" width="13.05" height="2.35" fill="#f8e5e6"/><rect x="263.5" y="419.6" width="13.05" height="2.35" fill="#ec5e62"/><rect x="276.5" y="419.6" width="13.05" height="2.35" fill="#f2a5a7"/><rect x="289.5" y="419.6" width="13.05" height="2.35" fill="#f08e90"/><rect x="302.5" y="419.6" width="13.05" height="2.35" fill="#ee7275"/><rect x="185.5" y="421.9" width="13.05" height="2.35" fill="#f9f5f6"/><rect x="198.5" y="421.9" width="13.05" height="2.35" fill="#a3a9cf"/><rect x="211.5" y="421.9" width="13.05" height="2.35" fill="#c9cbe0"/><rect x="224.5" y="421.9" width="13.05" height="2.35" fill="#9098c6"/><rect x="237.5" y="421.9" width="13.05" height="2.35" fill="#8a93c3"/><rect x="250.5" y="421.9" width="13.05" height="2.35" fill="#f9f3f4"/><rect x="263.5" y="421.9" width="13.05" height="2.35" fill="#ec5c60"/><rect x="276.5" y="421.9" width="13.05" height="2.35" fill="#f5c4c5"/><rect x="289.5" y="421.9" width="13.05" height="2.35" fill="#f5c7c8"/><rect x="302.5" y="421.9" width="13.05" height="2.35" fill="#ee797c"/><rect x="185.5" y="424.2" width="13.05" height="0.85" fill="#e9e7ef"/><rect x="198.5" y="424.2" width="13.05" height="0.85" fill="#b5b9d7"/><rect x="211.5" y="424.2" width="13.05" height="0.85" fill="#7783ba"/><rect x="224.5" y="424.2" width="13.05" height="0.85" fill="#b5b9d7"/><rect x="237.5" y="424.2" width="13.05" height="0.85" fill="#8c95c4"/><rect x="250.5" y="424.2" width="13.05" height="0.85" fill="#f9f1f2"/><rect x="263.5" y="424.2" width="13.05" height="0.85" fill="#ee7d7f"/><rect x="276.5" y="424.2" width="13.05" height="0.85" fill="#f6ced0"/><rect x="289.5" y="424.2" width="13.05" height="0.85" fill="#f3abad"/><rect x="302.5" y="424.2" width="13.05" height="0.85" fill="#f09194"/><rect x="185.5" y="425" width="13.05" height="2.35" fill="#d7d7e6"/><rect x="198.5" y="425" width="13.05" height="2.35" fill="#99a0ca"/><rect x="211.5" y="425" width="13.05" height="2.35" fill="#8b94c3"/><rect x="224.5" y="425" width="13.05" height="2.35" fill="#f8f5f6"/><rect x="237.5" y="425" width="13.05" height="2.35" fill="#a9afd1"/><rect x="250.5" y="425" width="13.05" height="2.35" fill="#f2a1a3"/><rect x="263.5" y="425" width="13.05" height="2.35" fill="#ec6165"/><rect x="276.5" y="425" width="13.05" height="2.35" fill="#f29fa1"/><rect x="289.5" y="425" width="13.05" height="2.35" fill="#f6d2d4"/><rect x="302.5" y="425" width="13.05" height="2.35" fill="#f4babc"/><rect x="185.5" y="427.3" width="13.05" height="2.35" fill="#ece9f0"/><rect x="198.5" y="427.3" width="13.05" height="2.35" fill="#b1b6d5"/><rect x="211.5" y="427.3" width="13.05" height="2.35" fill="#989fc9"/><rect x="224.5" y="427.3" width="13.05" height="2.35" fill="#edeaf0"/><rect x="237.5" y="427.3" width="13.05" height="2.35" fill="#cdcee2"/><rect x="250.5" y="427.3" width="13.05" height="2.35" fill="#f5c2c4"/><rect x="263.5" y="427.3" width="13.05" height="2.35" fill="#f3b3b5"/><rect x="276.5" y="427.3" width="13.05" height="2.35" fill="#f3b3b5"/><rect x="289.5" y="427.3" width="13.05" height="2.35" fill="#f6d7d8"/><rect x="302.5" y="427.3" width="13.05" height="2.35" fill="#f4babc"/><rect x="185.5" y="429.6" width="13.05" height="2.35" fill="#e5e3ed"/><rect x="198.5" y="429.6" width="13.05" height="2.35" fill="#808bbf"/><rect x="211.5" y="429.6" width="13.05" height="2.35" fill="#abb0d2"/><rect x="224.5" y="429.6" width="13.05" height="2.35" fill="#dfdeea"/><rect x="237.5" y="429.6" width="13.05" height="2.35" fill="#acb1d3"/><rect x="250.5" y="429.6" width="13.05" height="2.35" fill="#f5c3c4"/><rect x="263.5" y="429.6" width="13.05" height="2.35" fill="#ee787b"/><rect x="276.5" y="429.6" width="13.05" height="2.35" fill="#f2a3a6"/><rect x="289.5" y="429.6" width="13.05" height="2.35" fill="#f7ddde"/><rect x="302.5" y="429.6" width="13.05" height="2.35" fill="#f3afb1"/><rect x="185.5" y="431.9" width="13.05" height="2.35" fill="#c8cae0"/><rect x="198.5" y="431.9" width="13.05" height="2.35" fill="#b6bad7"/><rect x="211.5" y="431.9" width="13.05" height="2.35" fill="#a1a7ce"/><rect x="224.5" y="431.9" width="13.05" height="2.35" fill="#efedf2"/><rect x="237.5" y="431.9" width="13.05" height="2.35" fill="#d5d5e5"/><rect x="250.5" y="431.9" width="13.05" height="2.35" fill="#f2a9ab"/><rect x="263.5" y="431.9" width="13.05" height="2.35" fill="#ef8487"/><rect x="276.5" y="431.9" width="13.05" height="2.35" fill="#f4bcbe"/><rect x="289.5" y="431.9" width="13.05" height="2.35" fill="#f6cdcf"/><rect x="302.5" y="431.9" width="13.05" height="2.35" fill="#f6cfd1"/><rect x="185.5" y="434.2" width="13.05" height="0.85" fill="#e3e2ec"/><rect x="198.5" y="434.2" width="13.05" height="0.85" fill="#7581b9"/><rect x="211.5" y="434.2" width="13.05" height="0.85" fill="#a6acd0"/><rect x="224.5" y="434.2" width="13.05" height="0.85" fill="#f8f4f5"/><rect x="237.5" y="434.2" width="13.05" height="0.85" fill="#b8bcd8"/><rect x="250.5" y="434.2" width="13.05" height="0.85" fill="#f2a7a9"/><rect x="263.5" y="434.2" width="13.05" height="0.85" fill="#f5c3c4"/><rect x="276.5" y="434.2" width="13.05" height="0.85" fill="#f7dadb"/><rect x="289.5" y="434.2" width="13.05" height="0.85" fill="#f7dedf"/><rect x="302.5" y="434.2" width="13.05" height="0.85" fill="#f7d9da"/><rect x="185.5" y="435" width="13.05" height="2.35" fill="#f7f4f5"/><rect x="198.5" y="435" width="13.05" height="2.35" fill="#afb4d4"/><rect x="211.5" y="435" width="13.05" height="2.35" fill="#6e7bb6"/><rect x="224.5" y="435" width="13.05" height="2.35" fill="#5464aa"/><rect x="237.5" y="435" width="13.05" height="2.35" fill="#939bc7"/><rect x="250.5" y="435" width="13.05" height="2.35" fill="#f5cbcd"/><rect x="263.5" y="435" width="13.05" height="2.35" fill="#f09395"/><rect x="276.5" y="435" width="13.05" height="2.35" fill="#f0898c"/><rect x="289.5" y="435" width="13.05" height="2.35" fill="#ee797c"/><rect x="302.5" y="435" width="13.05" height="2.35" fill="#f19ea1"/><rect x="185.5" y="437.3" width="13.05" height="2.35" fill="#e6e4ed"/><rect x="198.5" y="437.3" width="13.05" height="2.35" fill="#b2b6d5"/><rect x="211.5" y="437.3" width="13.05" height="2.35" fill="#bbbed9"/><rect x="224.5" y="437.3" width="13.05" height="2.35" fill="#8e97c5"/><rect x="237.5" y="437.3" width="13.05" height="2.35" fill="#acb1d3"/><rect x="250.5" y="437.3" width="13.05" height="2.35" fill="#f6d2d4"/><rect x="263.5" y="437.3" width="13.05" height="2.35" fill="#f6d3d5"/><rect x="276.5" y="437.3" width="13.05" height="2.35" fill="#ee7477"/><rect x="289.5" y="437.3" width="13.05" height="2.35" fill="#ea4c50"/><rect x="302.5" y="437.3" width="13.05" height="2.35" fill="#f5c9cb"/><rect x="185.5" y="439.6" width="13.05" height="2.35" fill="#e8e6ee"/><rect x="198.5" y="439.6" width="13.05" height="2.35" fill="#b1b6d5"/><rect x="211.5" y="439.6" width="13.05" height="2.35" fill="#d2d3e4"/><rect x="224.5" y="439.6" width="13.05" height="2.35" fill="#6d79b6"/><rect x="237.5" y="439.6" width="13.05" height="2.35" fill="#8b94c3"/><rect x="250.5" y="439.6" width="13.05" height="2.35" fill="#f5cbcd"/><rect x="263.5" y="439.6" width="13.05" height="2.35" fill="#f3b4b6"/><rect x="276.5" y="439.6" width="13.05" height="2.35" fill="#f4c0c2"/><rect x="289.5" y="439.6" width="13.05" height="2.35" fill="#ed6b6f"/><rect x="302.5" y="439.6" width="13.05" height="2.35" fill="#f19799"/><rect x="185.5" y="441.9" width="13.05" height="2.35" fill="#ebe9f0"/><rect x="198.5" y="441.9" width="13.05" height="2.35" fill="#deddea"/><rect x="211.5" y="441.9" width="13.05" height="2.35" fill="#b8bcd8"/><rect x="224.5" y="441.9" width="13.05" height="2.35" fill="#5564ab"/><rect x="237.5" y="441.9" width="13.05" height="2.35" fill="#adb2d3"/><rect x="250.5" y="441.9" width="13.05" height="2.35" fill="#f7e0e2"/><rect x="263.5" y="441.9" width="13.05" height="2.35" fill="#f4b7b9"/><rect x="276.5" y="441.9" width="13.05" height="2.35" fill="#f08c8e"/><rect x="289.5" y="441.9" width="13.05" height="2.35" fill="#f1979a"/><rect x="302.5" y="441.9" width="13.05" height="2.35" fill="#f4bcbe"/><rect x="185.5" y="444.2" width="13.05" height="0.85" fill="#eae8ef"/><rect x="198.5" y="444.2" width="13.05" height="0.85" fill="#c9cae0"/><rect x="211.5" y="444.2" width="13.05" height="0.85" fill="#828cbf"/><rect x="224.5" y="444.2" width="13.05" height="0.85" fill="#aeb3d4"/><rect x="237.5" y="444.2" width="13.05" height="0.85" fill="#d0d1e3"/><rect x="250.5" y="444.2" width="13.05" height="0.85" fill="#f7dfe1"/><rect x="263.5" y="444.2" width="13.05" height="0.85" fill="#f6ced0"/><rect x="276.5" y="444.2" width="13.05" height="0.85" fill="#ee7275"/><rect x="289.5" y="444.2" width="13.05" height="0.85" fill="#ed6a6d"/><rect x="302.5" y="444.2" width="13.05" height="0.85" fill="#f5c7c9"/><rect x="185.5" y="445" width="13.05" height="2.35" fill="#d0d1e3"/><rect x="198.5" y="445" width="13.05" height="2.35" fill="#9ba2cb"/><rect x="211.5" y="445" width="13.05" height="2.35" fill="#c8cae0"/><rect x="224.5" y="445" width="13.05" height="2.35" fill="#c4c6de"/><rect x="237.5" y="445" width="13.05" height="2.35" fill="#9098c6"/><rect x="250.5" y="445" width="13.05" height="2.35" fill="#f7dddf"/><rect x="263.5" y="445" width="13.05" height="2.35" fill="#f6cdcf"/><rect x="276.5" y="445" width="13.05" height="2.35" fill="#f09194"/><rect x="289.5" y="445" width="13.05" height="2.35" fill="#f2a6a8"/><rect x="302.5" y="445" width="13.05" height="2.35" fill="#f7dadc"/><rect x="185.5" y="447.3" width="13.05" height="2.35" fill="#e4e2ec"/><rect x="198.5" y="447.3" width="13.05" height="2.35" fill="#9fa5cd"/><rect x="211.5" y="447.3" width="13.05" height="2.35" fill="#989fc9"/><rect x="224.5" y="447.3" width="13.05" height="2.35" fill="#a6acd0"/><rect x="237.5" y="447.3" width="13.05" height="2.35" fill="#cdcee2"/><rect x="250.5" y="447.3" width="13.05" height="2.35" fill="#f5c5c7"/><rect x="263.5" y="447.3" width="13.05" height="2.35" fill="#f4bfc0"/><rect x="276.5" y="447.3" width="13.05" height="2.35" fill="#f2aaac"/><rect x="289.5" y="447.3" width="13.05" height="2.35" fill="#ef7d80"/><rect x="302.5" y="447.3" width="13.05" height="2.35" fill="#f6d3d4"/><rect x="185.5" y="449.6" width="13.05" height="2.35" fill="#e8e6ee"/><rect x="198.5" y="449.6" width="13.05" height="2.35" fill="#a1a7cd"/><rect x="211.5" y="449.6" width="13.05" height="2.35" fill="#afb4d4"/><rect x="224.5" y="449.6" width="13.05" height="2.35" fill="#b1b5d5"/><rect x="237.5" y="449.6" width="13.05" height="2.35" fill="#cacce1"/><rect x="250.5" y="449.6" width="13.05" height="2.35" fill="#f8ebec"/><rect x="263.5" y="449.6" width="13.05" height="2.35" fill="#f3b1b3"/><rect x="276.5" y="449.6" width="13.05" height="2.35" fill="#f3b3b5"/><rect x="289.5" y="449.6" width="13.05" height="2.35" fill="#f2a4a6"/><rect x="302.5" y="449.6" width="13.05" height="2.35" fill="#f5c3c4"/><rect x="185.5" y="451.9" width="13.05" height="2.35" fill="#eeebf1"/><rect x="198.5" y="451.9" width="13.05" height="2.35" fill="#7580b9"/><rect x="211.5" y="451.9" width="13.05" height="2.35" fill="#959dc8"/><rect x="224.5" y="451.9" width="13.05" height="2.35" fill="#5464aa"/><rect x="237.5" y="451.9" width="13.05" height="2.35" fill="#cccde1"/><rect x="250.5" y="451.9" width="13.05" height="2.35" fill="#f5cdce"/><rect x="263.5" y="451.9" width="13.05" height="2.35" fill="#f7d9da"/><rect x="276.5" y="451.9" width="13.05" height="2.35" fill="#ee7a7d"/><rect x="289.5" y="451.9" width="13.05" height="2.35" fill="#f19699"/><rect x="302.5" y="451.9" width="13.05" height="2.35" fill="#f8e5e6"/><rect x="185.5" y="454.2" width="13.05" height="0.85" fill="#ebe9f0"/><rect x="198.5" y="454.2" width="13.05" height="0.85" fill="#d2d2e4"/><rect x="211.5" y="454.2" width="13.05" height="0.85" fill="#848ec0"/><rect x="224.5" y="454.2" width="13.05" height="0.85" fill="#848ec0"/><rect x="237.5" y="454.2" width="13.05" height="0.85" fill="#d1d2e4"/><rect x="250.5" y="454.2" width="13.05" height="0.85" fill="#f4bcbe"/><rect x="263.5" y="454.2" width="13.05" height="0.85" fill="#f5c6c8"/><rect x="276.5" y="454.2" width="13.05" height="0.85" fill="#ec6366"/><rect x="289.5" y="454.2" width="13.05" height="0.85" fill="#ef8588"/><rect x="302.5" y="454.2" width="13.05" height="0.85" fill="#f2a6a8"/><rect x="185.5" y="455" width="13.05" height="2.35" fill="#edeaf0"/><rect x="198.5" y="455" width="13.05" height="2.35" fill="#c1c4dc"/><rect x="211.5" y="455" width="13.05" height="2.35" fill="#4c5da7"/><rect x="224.5" y="455" width="13.05" height="2.35" fill="#b7bbd8"/><rect x="237.5" y="455" width="13.05" height="2.35" fill="#dedeea"/><rect x="250.5" y="455" width="13.05" height="2.35" fill="#f6d4d6"/><rect x="263.5" y="455" width="13.05" height="2.35" fill="#f3b3b5"/><rect x="276.5" y="455" width="13.05" height="2.35" fill="#f08c8f"/><rect x="289.5" y="455" width="13.05" height="2.35" fill="#f3acae"/><rect x="302.5" y="455" width="13.05" height="2.35" fill="#f6cfd1"/><rect x="185.5" y="457.3" width="13.05" height="2.35" fill="#efecf1"/><rect x="198.5" y="457.3" width="13.05" height="2.35" fill="#bcbfda"/><rect x="211.5" y="457.3" width="13.05" height="2.35" fill="#b4b8d6"/><rect x="224.5" y="457.3" width="13.05" height="2.35" fill="#a2a8ce"/><rect x="237.5" y="457.3" width="13.05" height="2.35" fill="#d3d3e4"/><rect x="250.5" y="457.3" width="13.05" height="2.35" fill="#f5c4c6"/><rect x="263.5" y="457.3" width="13.05" height="2.35" fill="#f3abad"/><rect x="276.5" y="457.3" width="13.05" height="2.35" fill="#ed676a"/><rect x="289.5" y="457.3" width="13.05" height="2.35" fill="#f2a5a8"/><rect x="302.5" y="457.3" width="13.05" height="2.35" fill="#f3abad"/><rect x="185.5" y="459.6" width="13.05" height="2.35" fill="#f2eff3"/><rect x="198.5" y="459.6" width="13.05" height="2.35" fill="#d4d5e5"/><rect x="211.5" y="459.6" width="13.05" height="2.35" fill="#abb0d2"/><rect x="224.5" y="459.6" width="13.05" height="2.35" fill="#b4b8d6"/><rect x="237.5" y="459.6" width="13.05" height="2.35" fill="#d6d6e6"/><rect x="250.5" y="459.6" width="13.05" height="2.35" fill="#f5c8ca"/><rect x="263.5" y="459.6" width="13.05" height="2.35" fill="#f7d9db"/><rect x="276.5" y="459.6" width="13.05" height="2.35" fill="#ee7679"/><rect x="289.5" y="459.6" width="13.05" height="2.35" fill="#f2a4a6"/><rect x="302.5" y="459.6" width="13.05" height="2.35" fill="#f5cacb"/><rect x="185.5" y="461.9" width="13.05" height="2.35" fill="#e9e7ee"/><rect x="198.5" y="461.9" width="13.05" height="2.35" fill="#d7d7e7"/><rect x="211.5" y="461.9" width="13.05" height="2.35" fill="#707db7"/><rect x="224.5" y="461.9" width="13.05" height="2.35" fill="#818bbf"/><rect x="237.5" y="461.9" width="13.05" height="2.35" fill="#bbbed9"/><rect x="250.5" y="461.9" width="13.05" height="2.35" fill="#f6d4d5"/><rect x="263.5" y="461.9" width="13.05" height="2.35" fill="#f5c5c7"/><rect x="276.5" y="461.9" width="13.05" height="2.35" fill="#eb575a"/><rect x="289.5" y="461.9" width="13.05" height="2.35" fill="#f09396"/><rect x="302.5" y="461.9" width="13.05" height="2.35" fill="#f5ccce"/><rect x="185.5" y="464.2" width="13.05" height="0.85" fill="#e1e0eb"/><rect x="198.5" y="464.2" width="13.05" height="0.85" fill="#e5e3ed"/><rect x="211.5" y="464.2" width="13.05" height="0.85" fill="#adb2d3"/><rect x="224.5" y="464.2" width="13.05" height="0.85" fill="#717db7"/><rect x="237.5" y="464.2" width="13.05" height="0.85" fill="#e9e7ef"/><rect x="250.5" y="464.2" width="13.05" height="0.85" fill="#f6d4d5"/><rect x="263.5" y="464.2" width="13.05" height="0.85" fill="#f3b0b2"/><rect x="276.5" y="464.2" width="13.05" height="0.85" fill="#f08c8e"/><rect x="289.5" y="464.2" width="13.05" height="0.85" fill="#f3b0b2"/><rect x="302.5" y="464.2" width="13.05" height="0.85" fill="#f09193"/><rect x="185.5" y="465" width="13.05" height="2.35" fill="#f0edf2"/><rect x="198.5" y="465" width="13.05" height="2.35" fill="#f7dbdc"/><rect x="211.5" y="465" width="13.05" height="2.35" fill="#5968ac"/><rect x="224.5" y="465" width="13.05" height="2.35" fill="#cdcfe2"/><rect x="237.5" y="465" width="13.05" height="2.35" fill="#969ec8"/><rect x="250.5" y="465" width="13.05" height="2.35" fill="#f8edee"/><rect x="263.5" y="465" width="13.05" height="2.35" fill="#f8eeef"/><rect x="276.5" y="465" width="13.05" height="2.35" fill="#eb5155"/><rect x="289.5" y="465" width="13.05" height="2.35" fill="#f7e0e1"/><rect x="302.5" y="465" width="13.05" height="2.35" fill="#ef878a"/><rect x="185.5" y="467.3" width="13.05" height="2.35" fill="#d2d3e4"/><rect x="198.5" y="467.3" width="13.05" height="2.35" fill="#f7e1e2"/><rect x="211.5" y="467.3" width="13.05" height="2.35" fill="#9ea4cc"/><rect x="224.5" y="467.3" width="13.05" height="2.35" fill="#b3b7d6"/><rect x="237.5" y="467.3" width="13.05" height="2.35" fill="#c5c8de"/><rect x="250.5" y="467.3" width="13.05" height="2.35" fill="#f6cfd1"/><rect x="263.5" y="467.3" width="13.05" height="2.35" fill="#f7ddde"/><rect x="276.5" y="467.3" width="13.05" height="2.35" fill="#e8363a"/><rect x="289.5" y="467.3" width="13.05" height="2.35" fill="#f7e2e4"/><rect x="302.5" y="467.3" width="13.05" height="2.35" fill="#f2a7a9"/><rect x="185.5" y="469.6" width="13.05" height="2.35" fill="#dadae8"/><rect x="198.5" y="469.6" width="13.05" height="2.35" fill="#f7e0e2"/><rect x="211.5" y="469.6" width="13.05" height="2.35" fill="#b8bbd8"/><rect x="224.5" y="469.6" width="13.05" height="2.35" fill="#e0dfea"/><rect x="237.5" y="469.6" width="13.05" height="2.35" fill="#a7add0"/><rect x="250.5" y="469.6" width="13.05" height="2.35" fill="#f6d7d9"/><rect x="263.5" y="469.6" width="13.05" height="2.35" fill="#f8e4e5"/><rect x="276.5" y="469.6" width="13.05" height="2.35" fill="#ea4649"/><rect x="289.5" y="469.6" width="13.05" height="2.35" fill="#f8e8e9"/><rect x="302.5" y="469.6" width="13.05" height="2.35" fill="#ee7175"/><rect x="185.5" y="471.9" width="13.05" height="2.35" fill="#dbdbe8"/><rect x="198.5" y="471.9" width="13.05" height="2.35" fill="#f7e0e1"/><rect x="211.5" y="471.9" width="13.05" height="2.35" fill="#939bc7"/><rect x="224.5" y="471.9" width="13.05" height="2.35" fill="#e9e7ef"/><rect x="237.5" y="471.9" width="13.05" height="2.35" fill="#acb1d3"/><rect x="250.5" y="471.9" width="13.05" height="2.35" fill="#f9f4f5"/><rect x="263.5" y="471.9" width="13.05" height="2.35" fill="#f8e7e8"/><rect x="276.5" y="471.9" width="13.05" height="2.35" fill="#f09395"/><rect x="289.5" y="471.9" width="13.05" height="2.35" fill="#f7dedf"/><rect x="302.5" y="471.9" width="13.05" height="2.35" fill="#ef7d80"/><rect x="185.5" y="474.2" width="13.05" height="0.85" fill="#deddea"/><rect x="198.5" y="474.2" width="13.05" height="0.85" fill="#f8eaec"/><rect x="211.5" y="474.2" width="13.05" height="0.85" fill="#6a77b4"/><rect x="224.5" y="474.2" width="13.05" height="0.85" fill="#d6d6e6"/><rect x="237.5" y="474.2" width="13.05" height="0.85" fill="#dddce9"/><rect x="250.5" y="474.2" width="13.05" height="0.85" fill="#f7ddde"/><rect x="263.5" y="474.2" width="13.05" height="0.85" fill="#f5cdce"/><rect x="276.5" y="474.2" width="13.05" height="0.85" fill="#f09396"/><rect x="289.5" y="474.2" width="13.05" height="0.85" fill="#f7dadb"/><rect x="302.5" y="474.2" width="13.05" height="0.85" fill="#f2a8aa"/><rect x="185.5" y="475" width="13.05" height="2.35" fill="#dfdeea"/><rect x="198.5" y="475" width="13.05" height="2.35" fill="#f0edf2"/><rect x="211.5" y="475" width="13.05" height="2.35" fill="#8f97c5"/><rect x="224.5" y="475" width="13.05" height="2.35" fill="#e0dfea"/><rect x="237.5" y="475" width="13.05" height="2.35" fill="#afb3d4"/><rect x="250.5" y="475" width="13.05" height="2.35" fill="#f7dcdd"/><rect x="263.5" y="475" width="13.05" height="2.35" fill="#f6d8da"/><rect x="276.5" y="475" width="13.05" height="2.35" fill="#ec6165"/><rect x="289.5" y="475" width="13.05" height="2.35" fill="#f7ddde"/><rect x="302.5" y="475" width="13.05" height="2.35" fill="#f2a3a5"/><rect x="185.5" y="477.3" width="13.05" height="2.35" fill="#eeebf1"/><rect x="198.5" y="477.3" width="13.05" height="2.35" fill="#dcdce9"/><rect x="211.5" y="477.3" width="13.05" height="2.35" fill="#5e6caf"/><rect x="224.5" y="477.3" width="13.05" height="2.35" fill="#dcdce9"/><rect x="237.5" y="477.3" width="13.05" height="2.35" fill="#afb3d4"/><rect x="250.5" y="477.3" width="13.05" height="2.35" fill="#f8ebec"/><rect x="263.5" y="477.3" width="13.05" height="2.35" fill="#f9f2f3"/><rect x="276.5" y="477.3" width="13.05" height="2.35" fill="#f0888b"/><rect x="289.5" y="477.3" width="13.05" height="2.35" fill="#f8e8e9"/><rect x="302.5" y="477.3" width="13.05" height="2.35" fill="#f29fa2"/><rect x="185.5" y="479.6" width="13.05" height="2.35" fill="#f9f3f4"/><rect x="198.5" y="479.6" width="13.05" height="2.35" fill="#d3d4e5"/><rect x="211.5" y="479.6" width="13.05" height="2.35" fill="#6d7ab6"/><rect x="224.5" y="479.6" width="13.05" height="2.35" fill="#eae8ef"/><rect x="237.5" y="479.6" width="13.05" height="2.35" fill="#949cc7"/><rect x="250.5" y="479.6" width="13.05" height="2.35" fill="#f7e1e2"/><rect x="263.5" y="479.6" width="13.05" height="2.35" fill="#f8e4e5"/><rect x="276.5" y="479.6" width="13.05" height="2.35" fill="#ec6568"/><rect x="289.5" y="479.6" width="13.05" height="2.35" fill="#f7dcdd"/><rect x="302.5" y="479.6" width="13.05" height="2.35" fill="#f3b0b2"/><rect x="185.5" y="481.9" width="13.05" height="2.35" fill="#f3eff3"/><rect x="198.5" y="481.9" width="13.05" height="2.35" fill="#e0dfeb"/><rect x="211.5" y="481.9" width="13.05" height="2.35" fill="#7580b9"/><rect x="224.5" y="481.9" width="13.05" height="2.35" fill="#e2e1eb"/><rect x="237.5" y="481.9" width="13.05" height="2.35" fill="#bbbed9"/><rect x="250.5" y="481.9" width="13.05" height="2.35" fill="#f6d2d4"/><rect x="263.5" y="481.9" width="13.05" height="2.35" fill="#f9f4f5"/><rect x="276.5" y="481.9" width="13.05" height="2.35" fill="#ee7376"/><rect x="289.5" y="481.9" width="13.05" height="2.35" fill="#f8edee"/><rect x="302.5" y="481.9" width="13.05" height="2.35" fill="#f08b8d"/><rect x="185.5" y="484.2" width="13.05" height="0.85" fill="#ece9f0"/><rect x="198.5" y="484.2" width="13.05" height="0.85" fill="#dcdbe8"/><rect x="211.5" y="484.2" width="13.05" height="0.85" fill="#bdc0da"/><rect x="224.5" y="484.2" width="13.05" height="0.85" fill="#cacce0"/><rect x="237.5" y="484.2" width="13.05" height="0.85" fill="#9ea5cc"/><rect x="250.5" y="484.2" width="13.05" height="0.85" fill="#f4b9bb"/><rect x="263.5" y="484.2" width="13.05" height="0.85" fill="#f9f2f3"/><rect x="276.5" y="484.2" width="13.05" height="0.85" fill="#e94145"/><rect x="289.5" y="484.2" width="13.05" height="0.85" fill="#f7dfe0"/><rect x="302.5" y="484.2" width="13.05" height="0.85" fill="#f3aeb0"/><rect x="185.5" y="485" width="13.05" height="2.35" fill="#cecfe2"/><rect x="198.5" y="485" width="13.05" height="2.35" fill="#eae8ef"/><rect x="211.5" y="485" width="13.05" height="2.35" fill="#b4b8d6"/><rect x="224.5" y="485" width="13.05" height="2.35" fill="#dddce9"/><rect x="237.5" y="485" width="13.05" height="2.35" fill="#bbbfda"/><rect x="250.5" y="485" width="13.05" height="2.35" fill="#f7e0e1"/><rect x="263.5" y="485" width="13.05" height="2.35" fill="#f5c5c6"/><rect x="276.5" y="485" width="13.05" height="2.35" fill="#ee7679"/><rect x="289.5" y="485" width="13.05" height="2.35" fill="#f4bec0"/><rect x="302.5" y="485" width="13.05" height="2.35" fill="#f19a9c"/><rect x="185.5" y="487.3" width="13.05" height="2.35" fill="#d1d2e4"/><rect x="198.5" y="487.3" width="13.05" height="2.35" fill="#f3eff3"/><rect x="211.5" y="487.3" width="13.05" height="2.35" fill="#99a0ca"/><rect x="224.5" y="487.3" width="13.05" height="2.35" fill="#f4f1f4"/><rect x="237.5" y="487.3" width="13.05" height="2.35" fill="#c6c8df"/><rect x="250.5" y="487.3" width="13.05" height="2.35" fill="#f7dbdc"/><rect x="263.5" y="487.3" width="13.05" height="2.35" fill="#f8e4e6"/><rect x="276.5" y="487.3" width="13.05" height="2.35" fill="#ed676a"/><rect x="289.5" y="487.3" width="13.05" height="2.35" fill="#f5c9cb"/><rect x="302.5" y="487.3" width="13.05" height="2.35" fill="#f5ccce"/><rect x="185.5" y="489.6" width="13.05" height="2.35" fill="#dfdeea"/><rect x="198.5" y="489.6" width="13.05" height="2.35" fill="#eeebf1"/><rect x="211.5" y="489.6" width="13.05" height="2.35" fill="#bcbfda"/><rect x="224.5" y="489.6" width="13.05" height="2.35" fill="#e1e0eb"/><rect x="237.5" y="489.6" width="13.05" height="2.35" fill="#bec1db"/><rect x="250.5" y="489.6" width="13.05" height="2.35" fill="#f8e9ea"/><rect x="263.5" y="489.6" width="13.05" height="2.35" fill="#f5c7c9"/><rect x="276.5" y="489.6" width="13.05" height="2.35" fill="#e93a3e"/><rect x="289.5" y="489.6" width="13.05" height="2.35" fill="#f2a3a5"/><rect x="302.5" y="489.6" width="13.05" height="2.35" fill="#f19b9d"/><rect x="185.5" y="491.9" width="13.05" height="2.35" fill="#d4d4e5"/><rect x="198.5" y="491.9" width="13.05" height="2.35" fill="#e5e4ed"/><rect x="211.5" y="491.9" width="13.05" height="2.35" fill="#5867ac"/><rect x="224.5" y="491.9" width="13.05" height="2.35" fill="#e7e5ee"/><rect x="237.5" y="491.9" width="13.05" height="2.35" fill="#afb4d4"/><rect x="250.5" y="491.9" width="13.05" height="2.35" fill="#f5c4c6"/><rect x="263.5" y="491.9" width="13.05" height="2.35" fill="#f3adaf"/><rect x="276.5" y="491.9" width="13.05" height="2.35" fill="#ed696c"/><rect x="289.5" y="491.9" width="13.05" height="2.35" fill="#f6cdcf"/><rect x="302.5" y="491.9" width="13.05" height="2.35" fill="#f6d0d2"/><rect x="185.5" y="494.2" width="13.05" height="0.85" fill="#dfdeea"/><rect x="198.5" y="494.2" width="13.05" height="0.85" fill="#e8e6ee"/><rect x="211.5" y="494.2" width="13.05" height="0.85" fill="#7883bb"/><rect x="224.5" y="494.2" width="13.05" height="0.85" fill="#cdcee2"/><rect x="237.5" y="494.2" width="13.05" height="0.85" fill="#c1c4dc"/><rect x="250.5" y="494.2" width="13.05" height="0.85" fill="#f7dadb"/><rect x="263.5" y="494.2" width="13.05" height="0.85" fill="#f5c8c9"/><rect x="276.5" y="494.2" width="13.05" height="0.85" fill="#ec6265"/><rect x="289.5" y="494.2" width="13.05" height="0.85" fill="#f6d6d7"/><rect x="302.5" y="494.2" width="13.05" height="0.85" fill="#f3b4b6"/><rect x="185.5" y="495" width="13.05" height="2.35" fill="#e9e6ee"/><rect x="198.5" y="495" width="13.05" height="2.35" fill="#dcdbe9"/><rect x="211.5" y="495" width="13.05" height="2.35" fill="#8992c2"/><rect x="224.5" y="495" width="13.05" height="2.35" fill="#a8aed1"/><rect x="237.5" y="495" width="13.05" height="2.35" fill="#edeaf1"/><rect x="250.5" y="495" width="13.05" height="2.35" fill="#f8eeef"/><rect x="263.5" y="495" width="13.05" height="2.35" fill="#f8e5e7"/><rect x="276.5" y="495" width="13.05" height="2.35" fill="#ef8386"/><rect x="289.5" y="495" width="13.05" height="2.35" fill="#f1999c"/><rect x="302.5" y="495" width="13.05" height="2.35" fill="#f6cfd1"/><rect x="185.5" y="497.3" width="13.05" height="2.35" fill="#f2eef3"/><rect x="198.5" y="497.3" width="13.05" height="2.35" fill="#d5d6e6"/><rect x="211.5" y="497.3" width="13.05" height="2.35" fill="#939bc7"/><rect x="224.5" y="497.3" width="13.05" height="2.35" fill="#aab0d2"/><rect x="237.5" y="497.3" width="13.05" height="2.35" fill="#c5c7de"/><rect x="250.5" y="497.3" width="13.05" height="2.35" fill="#f7ddde"/><rect x="263.5" y="497.3" width="13.05" height="2.35" fill="#f7dcde"/><rect x="276.5" y="497.3" width="13.05" height="2.35" fill="#ed686c"/><rect x="289.5" y="497.3" width="13.05" height="2.35" fill="#f5ccce"/><rect x="302.5" y="497.3" width="13.05" height="2.35" fill="#f8e8e9"/><rect x="185.5" y="499.6" width="13.05" height="2.35" fill="#f1eef2"/><rect x="198.5" y="499.6" width="13.05" height="2.35" fill="#e3e2ec"/><rect x="211.5" y="499.6" width="13.05" height="2.35" fill="#4052a1"/><rect x="224.5" y="499.6" width="13.05" height="2.35" fill="#aaafd2"/><rect x="237.5" y="499.6" width="13.05" height="2.35" fill="#d7d7e6"/><rect x="250.5" y="499.6" width="13.05" height="2.35" fill="#f6d6d7"/><rect x="263.5" y="499.6" width="13.05" height="2.35" fill="#f8eaeb"/><rect x="276.5" y="499.6" width="13.05" height="2.35" fill="#eb5155"/><rect x="289.5" y="499.6" width="13.05" height="2.35" fill="#f4b8ba"/><rect x="302.5" y="499.6" width="13.05" height="2.35" fill="#f6d8d9"/><rect x="185.5" y="501.9" width="13.05" height="2.35" fill="#f3eff3"/><rect x="198.5" y="501.9" width="13.05" height="2.35" fill="#d8d8e7"/><rect x="211.5" y="501.9" width="13.05" height="2.35" fill="#abb1d2"/><rect x="224.5" y="501.9" width="13.05" height="2.35" fill="#dad9e8"/><rect x="237.5" y="501.9" width="13.05" height="2.35" fill="#d9d9e7"/><rect x="250.5" y="501.9" width="13.05" height="2.35" fill="#f7e0e2"/><rect x="263.5" y="501.9" width="13.05" height="2.35" fill="#f9f0f1"/><rect x="276.5" y="501.9" width="13.05" height="2.35" fill="#ec5c5f"/><rect x="289.5" y="501.9" width="13.05" height="2.35" fill="#f6d0d1"/><rect x="302.5" y="501.9" width="13.05" height="2.35" fill="#f8ebed"/><rect x="185.5" y="504.2" width="13.05" height="0.85" fill="#f5f2f4"/><rect x="198.5" y="504.2" width="13.05" height="0.85" fill="#eae8ef"/><rect x="211.5" y="504.2" width="13.05" height="0.85" fill="#5a69ad"/><rect x="224.5" y="504.2" width="13.05" height="0.85" fill="#c1c3dc"/><rect x="237.5" y="504.2" width="13.05" height="0.85" fill="#d9d9e7"/><rect x="250.5" y="504.2" width="13.05" height="0.85" fill="#f6d5d7"/><rect x="263.5" y="504.2" width="13.05" height="0.85" fill="#f7e3e4"/><rect x="276.5" y="504.2" width="13.05" height="0.85" fill="#e83236"/><rect x="289.5" y="504.2" width="13.05" height="0.85" fill="#f19d9f"/><rect x="302.5" y="504.2" width="13.05" height="0.85" fill="#f6d2d4"/><rect x="185.5" y="505" width="13.05" height="2.35" fill="#dcdbe9"/><rect x="198.5" y="505" width="13.05" height="2.35" fill="#a8aed1"/><rect x="211.5" y="505" width="13.05" height="2.35" fill="#bdc0da"/><rect x="224.5" y="505" width="13.05" height="2.35" fill="#dedde9"/><rect x="237.5" y="505" width="13.05" height="2.35" fill="#abb0d2"/><rect x="250.5" y="505" width="13.05" height="2.35" fill="#f7dcde"/><rect x="263.5" y="505" width="13.05" height="2.35" fill="#f19c9e"/><rect x="276.5" y="505" width="13.05" height="2.35" fill="#f2a8aa"/><rect x="289.5" y="505" width="13.05" height="2.35" fill="#ef7e80"/><rect x="302.5" y="505" width="13.05" height="2.35" fill="#eb585c"/><rect x="185.5" y="507.3" width="13.05" height="2.35" fill="#dedeea"/><rect x="198.5" y="507.3" width="13.05" height="2.35" fill="#adb2d3"/><rect x="211.5" y="507.3" width="13.05" height="2.35" fill="#b8bcd8"/><rect x="224.5" y="507.3" width="13.05" height="2.35" fill="#c8cae0"/><rect x="237.5" y="507.3" width="13.05" height="2.35" fill="#6875b4"/><rect x="250.5" y="507.3" width="13.05" height="2.35" fill="#f8e5e7"/><rect x="263.5" y="507.3" width="13.05" height="2.35" fill="#f19c9e"/><rect x="276.5" y="507.3" width="13.05" height="2.35" fill="#f6cfd1"/><rect x="289.5" y="507.3" width="13.05" height="2.35" fill="#f5c6c8"/><rect x="302.5" y="507.3" width="13.05" height="2.35" fill="#f08d90"/><rect x="185.5" y="509.6" width="13.05" height="2.35" fill="#d4d5e5"/><rect x="198.5" y="509.6" width="13.05" height="2.35" fill="#c1c4dc"/><rect x="211.5" y="509.6" width="13.05" height="2.35" fill="#babed9"/><rect x="224.5" y="509.6" width="13.05" height="2.35" fill="#c8c9df"/><rect x="237.5" y="509.6" width="13.05" height="2.35" fill="#a5abcf"/><rect x="250.5" y="509.6" width="13.05" height="2.35" fill="#f5cbcd"/><rect x="263.5" y="509.6" width="13.05" height="2.35" fill="#f5c2c3"/><rect x="276.5" y="509.6" width="13.05" height="2.35" fill="#f6d4d5"/><rect x="289.5" y="509.6" width="13.05" height="2.35" fill="#f1979a"/><rect x="302.5" y="509.6" width="13.05" height="2.35" fill="#f09396"/><rect x="185.5" y="511.9" width="13.05" height="2.35" fill="#edeaf0"/><rect x="198.5" y="511.9" width="13.05" height="2.35" fill="#979ec9"/><rect x="211.5" y="511.9" width="13.05" height="2.35" fill="#bec1db"/><rect x="224.5" y="511.9" width="13.05" height="2.35" fill="#efecf2"/><rect x="237.5" y="511.9" width="13.05" height="2.35" fill="#6370b1"/><rect x="250.5" y="511.9" width="13.05" height="2.35" fill="#f7d9db"/><rect x="263.5" y="511.9" width="13.05" height="2.35" fill="#f6d7d8"/><rect x="276.5" y="511.9" width="13.05" height="2.35" fill="#f5c8ca"/><rect x="289.5" y="511.9" width="13.05" height="2.35" fill="#ed6c6f"/><rect x="302.5" y="511.9" width="13.05" height="2.35" fill="#f09395"/><rect x="185.5" y="514.2" width="13.05" height="0.85" fill="#dfdeea"/><rect x="198.5" y="514.2" width="13.05" height="0.85" fill="#a4aacf"/><rect x="211.5" y="514.2" width="13.05" height="0.85" fill="#acb1d3"/><rect x="224.5" y="514.2" width="13.05" height="0.85" fill="#b6bad7"/><rect x="237.5" y="514.2" width="13.05" height="0.85" fill="#949cc8"/><rect x="250.5" y="514.2" width="13.05" height="0.85" fill="#f5c4c6"/><rect x="263.5" y="514.2" width="13.05" height="0.85" fill="#f2a4a6"/><rect x="276.5" y="514.2" width="13.05" height="0.85" fill="#f4b6b8"/><rect x="289.5" y="514.2" width="13.05" height="0.85" fill="#ef8689"/><rect x="302.5" y="514.2" width="13.05" height="0.85" fill="#f3abad"/><rect x="185.5" y="515" width="13.05" height="2.35" fill="#e2e1eb"/><rect x="198.5" y="515" width="13.05" height="2.35" fill="#8e97c5"/><rect x="211.5" y="515" width="13.05" height="2.35" fill="#cdcee2"/><rect x="224.5" y="515" width="13.05" height="2.35" fill="#b0b4d4"/><rect x="237.5" y="515" width="13.05" height="2.35" fill="#4b5ba6"/><rect x="250.5" y="515" width="13.05" height="2.35" fill="#f6d8d9"/><rect x="263.5" y="515" width="13.05" height="2.35" fill="#ee7679"/><rect x="276.5" y="515" width="13.05" height="2.35" fill="#f4b8ba"/><rect x="289.5" y="515" width="13.05" height="2.35" fill="#f5c5c6"/><rect x="302.5" y="515" width="13.05" height="2.35" fill="#f2a9ab"/><rect x="185.5" y="517.3" width="13.05" height="2.35" fill="#e9e7ef"/><rect x="198.5" y="517.3" width="13.05" height="2.35" fill="#aaafd2"/><rect x="211.5" y="517.3" width="13.05" height="2.35" fill="#bbbed9"/><rect x="224.5" y="517.3" width="13.05" height="2.35" fill="#d4d4e5"/><rect x="237.5" y="517.3" width="13.05" height="2.35" fill="#c0c3dc"/><rect x="250.5" y="517.3" width="13.05" height="2.35" fill="#f7d9db"/><rect x="263.5" y="517.3" width="13.05" height="2.35" fill="#f19597"/><rect x="276.5" y="517.3" width="13.05" height="2.35" fill="#f4bcbd"/><rect x="289.5" y="517.3" width="13.05" height="2.35" fill="#f6cfd0"/><rect x="302.5" y="517.3" width="13.05" height="2.35" fill="#f3b2b4"/><rect x="185.5" y="519.6" width="13.05" height="2.35" fill="#dcdce9"/><rect x="198.5" y="519.6" width="13.05" height="2.35" fill="#a9afd1"/><rect x="211.5" y="519.6" width="13.05" height="2.35" fill="#d9d9e7"/><rect x="224.5" y="519.6" width="13.05" height="2.35" fill="#b7bad7"/><rect x="237.5" y="519.6" width="13.05" height="2.35" fill="#9ea4cc"/><rect x="250.5" y="519.6" width="13.05" height="2.35" fill="#f6d7d9"/><rect x="263.5" y="519.6" width="13.05" height="2.35" fill="#f5c5c6"/><rect x="276.5" y="519.6" width="13.05" height="2.35" fill="#f19a9c"/><rect x="289.5" y="519.6" width="13.05" height="2.35" fill="#f3adb0"/><rect x="302.5" y="519.6" width="13.05" height="2.35" fill="#e8373a"/><rect x="185.5" y="521.9" width="13.05" height="2.35" fill="#eeebf1"/><rect x="198.5" y="521.9" width="13.05" height="2.35" fill="#939bc7"/><rect x="211.5" y="521.9" width="13.05" height="2.35" fill="#c8c9df"/><rect x="224.5" y="521.9" width="13.05" height="2.35" fill="#a5abd0"/><rect x="237.5" y="521.9" width="13.05" height="2.35" fill="#6673b2"/><rect x="250.5" y="521.9" width="13.05" height="2.35" fill="#f6d5d6"/><rect x="263.5" y="521.9" width="13.05" height="2.35" fill="#eb575b"/><rect x="276.5" y="521.9" width="13.05" height="2.35" fill="#f19799"/><rect x="289.5" y="521.9" width="13.05" height="2.35" fill="#f4c0c2"/><rect x="302.5" y="521.9" width="13.05" height="2.35" fill="#ef8689"/><rect x="185.5" y="524.2" width="13.05" height="0.85" fill="#d7d7e6"/><rect x="198.5" y="524.2" width="13.05" height="0.85" fill="#b5b9d7"/><rect x="211.5" y="524.2" width="13.05" height="0.85" fill="#e6e4ed"/><rect x="224.5" y="524.2" width="13.05" height="0.85" fill="#afb4d4"/><rect x="237.5" y="524.2" width="13.05" height="0.85" fill="#858ec1"/><rect x="250.5" y="524.2" width="13.05" height="0.85" fill="#f8edee"/><rect x="263.5" y="524.2" width="13.05" height="0.85" fill="#f4c0c1"/><rect x="276.5" y="524.2" width="13.05" height="0.85" fill="#f7dbdc"/><rect x="289.5" y="524.2" width="13.05" height="0.85" fill="#f2aaac"/><rect x="302.5" y="524.2" width="13.05" height="0.85" fill="#f3aeb0"/><rect x="185.5" y="525" width="13.05" height="2.35" fill="#dedeea"/><rect x="198.5" y="525" width="13.05" height="2.35" fill="#dddce9"/><rect x="211.5" y="525" width="13.05" height="2.35" fill="#e5e4ed"/><rect x="224.5" y="525" width="13.05" height="2.35" fill="#8f97c5"/><rect x="237.5" y="525" width="13.05" height="2.35" fill="#8891c2"/><rect x="250.5" y="525" width="13.05" height="2.35" fill="#f8ebec"/><rect x="263.5" y="525" width="13.05" height="2.35" fill="#f08a8c"/><rect x="276.5" y="525" width="13.05" height="2.35" fill="#f4c0c2"/><rect x="289.5" y="525" width="13.05" height="2.35" fill="#f2a9ab"/><rect x="302.5" y="525" width="13.05" height="2.35" fill="#f4babc"/><rect x="185.5" y="527.3" width="13.05" height="2.35" fill="#d7d7e7"/><rect x="198.5" y="527.3" width="13.05" height="2.35" fill="#eceaf0"/><rect x="211.5" y="527.3" width="13.05" height="2.35" fill="#cecfe2"/><rect x="224.5" y="527.3" width="13.05" height="2.35" fill="#c8c9df"/><rect x="237.5" y="527.3" width="13.05" height="2.35" fill="#808abe"/><rect x="250.5" y="527.3" width="13.05" height="2.35" fill="#f6cfd1"/><rect x="263.5" y="527.3" width="13.05" height="2.35" fill="#f5c9cb"/><rect x="276.5" y="527.3" width="13.05" height="2.35" fill="#f7dedf"/><rect x="289.5" y="527.3" width="13.05" height="2.35" fill="#f4b8ba"/><rect x="302.5" y="527.3" width="13.05" height="2.35" fill="#f4babc"/><rect x="185.5" y="529.6" width="13.05" height="2.35" fill="#d0d0e3"/><rect x="198.5" y="529.6" width="13.05" height="2.35" fill="#e5e4ed"/><rect x="211.5" y="529.6" width="13.05" height="2.35" fill="#ebe9f0"/><rect x="224.5" y="529.6" width="13.05" height="2.35" fill="#a3a9ce"/><rect x="237.5" y="529.6" width="13.05" height="2.35" fill="#7581b9"/><rect x="250.5" y="529.6" width="13.05" height="2.35" fill="#f6d7d9"/><rect x="263.5" y="529.6" width="13.05" height="2.35" fill="#f3b3b5"/><rect x="276.5" y="529.6" width="13.05" height="2.35" fill="#f4c0c2"/><rect x="289.5" y="529.6" width="13.05" height="2.35" fill="#f2a1a4"/><rect x="302.5" y="529.6" width="13.05" height="2.35" fill="#f2a9ab"/><rect x="185.5" y="531.9" width="13.05" height="2.35" fill="#e6e4ed"/><rect x="198.5" y="531.9" width="13.05" height="2.35" fill="#cecfe2"/><rect x="211.5" y="531.9" width="13.05" height="2.35" fill="#dcdce9"/><rect x="224.5" y="531.9" width="13.05" height="2.35" fill="#bec1db"/><rect x="237.5" y="531.9" width="13.05" height="2.35" fill="#6673b2"/><rect x="250.5" y="531.9" width="13.05" height="2.35" fill="#f7d8da"/><rect x="263.5" y="531.9" width="13.05" height="2.35" fill="#ef8689"/><rect x="276.5" y="531.9" width="13.05" height="2.35" fill="#f7dbdd"/><rect x="289.5" y="531.9" width="13.05" height="2.35" fill="#f7d9da"/><rect x="302.5" y="531.9" width="13.05" height="2.35" fill="#f3adaf"/><rect x="185.5" y="534.2" width="13.05" height="0.85" fill="#c8cae0"/><rect x="198.5" y="534.2" width="13.05" height="0.85" fill="#eae8ef"/><rect x="211.5" y="534.2" width="13.05" height="0.85" fill="#d4d4e5"/><rect x="224.5" y="534.2" width="13.05" height="0.85" fill="#7984bb"/><rect x="237.5" y="534.2" width="13.05" height="0.85" fill="#b6bad7"/><rect x="250.5" y="534.2" width="13.05" height="0.85" fill="#f6cfd1"/><rect x="263.5" y="534.2" width="13.05" height="0.85" fill="#f4bdbf"/><rect x="276.5" y="534.2" width="13.05" height="0.85" fill="#f4bbbd"/><rect x="289.5" y="534.2" width="13.05" height="0.85" fill="#f08e91"/><rect x="302.5" y="534.2" width="13.05" height="0.85" fill="#ed7174"/><rect x="185.5" y="535" width="13.05" height="2.35" fill="#b9bdd9"/><rect x="198.5" y="535" width="13.05" height="2.35" fill="#c0c3dc"/><rect x="211.5" y="535" width="13.05" height="2.35" fill="#f2eff3"/><rect x="224.5" y="535" width="13.05" height="2.35" fill="#b0b5d5"/><rect x="237.5" y="535" width="13.05" height="2.35" fill="#9ca3cb"/><rect x="250.5" y="535" width="13.05" height="2.35" fill="#f4c1c2"/><rect x="263.5" y="535" width="13.05" height="2.35" fill="#f4bcbd"/><rect x="276.5" y="535" width="13.05" height="2.35" fill="#f4b9ba"/><rect x="289.5" y="535" width="13.05" height="2.35" fill="#f2aaac"/><rect x="302.5" y="535" width="13.05" height="2.35" fill="#f2a9ab"/><rect x="185.5" y="537.3" width="13.05" height="2.35" fill="#d8d8e7"/><rect x="198.5" y="537.3" width="13.05" height="2.35" fill="#e9e6ee"/><rect x="211.5" y="537.3" width="13.05" height="2.35" fill="#eceaf0"/><rect x="224.5" y="537.3" width="13.05" height="2.35" fill="#bfc2db"/><rect x="237.5" y="537.3" width="13.05" height="2.35" fill="#d0d1e3"/><rect x="250.5" y="537.3" width="13.05" height="2.35" fill="#f2a5a8"/><rect x="263.5" y="537.3" width="13.05" height="2.35" fill="#f3b2b4"/><rect x="276.5" y="537.3" width="13.05" height="2.35" fill="#f4b7b9"/><rect x="289.5" y="537.3" width="13.05" height="2.35" fill="#f08b8d"/><rect x="302.5" y="537.3" width="13.05" height="2.35" fill="#ee787b"/><rect x="185.5" y="539.6" width="13.05" height="2.35" fill="#b2b6d5"/><rect x="198.5" y="539.6" width="13.05" height="2.35" fill="#bbbed9"/><rect x="211.5" y="539.6" width="13.05" height="2.35" fill="#dbdbe8"/><rect x="224.5" y="539.6" width="13.05" height="2.35" fill="#bbbed9"/><rect x="237.5" y="539.6" width="13.05" height="2.35" fill="#adb2d3"/><rect x="250.5" y="539.6" width="13.05" height="2.35" fill="#f2a5a7"/><rect x="263.5" y="539.6" width="13.05" height="2.35" fill="#f3b1b3"/><rect x="276.5" y="539.6" width="13.05" height="2.35" fill="#f2a2a4"/><rect x="289.5" y="539.6" width="13.05" height="2.35" fill="#f09092"/><rect x="302.5" y="539.6" width="13.05" height="2.35" fill="#ed6a6d"/><rect x="185.5" y="541.9" width="13.05" height="2.35" fill="#9fa6cd"/><rect x="198.5" y="541.9" width="13.05" height="2.35" fill="#bcbfda"/><rect x="211.5" y="541.9" width="13.05" height="2.35" fill="#cacce1"/><rect x="224.5" y="541.9" width="13.05" height="2.35" fill="#8c95c4"/><rect x="237.5" y="541.9" width="13.05" height="2.35" fill="#c4c6de"/><rect x="250.5" y="541.9" width="13.05" height="2.35" fill="#f5c7c9"/><rect x="263.5" y="541.9" width="13.05" height="2.35" fill="#f7dddf"/><rect x="276.5" y="541.9" width="13.05" height="2.35" fill="#f5c9cb"/><rect x="289.5" y="541.9" width="13.05" height="2.35" fill="#f4bcbd"/><rect x="302.5" y="541.9" width="13.05" height="2.35" fill="#f2a5a7"/><rect x="185.5" y="544.2" width="13.05" height="0.85" fill="#c0c3dc"/><rect x="198.5" y="544.2" width="13.05" height="0.85" fill="#c7c9df"/><rect x="211.5" y="544.2" width="13.05" height="0.85" fill="#d8d8e7"/><rect x="224.5" y="544.2" width="13.05" height="0.85" fill="#cacbe0"/><rect x="237.5" y="544.2" width="13.05" height="0.85" fill="#d8d8e7"/><rect x="250.5" y="544.2" width="13.05" height="0.85" fill="#f4bec0"/><rect x="263.5" y="544.2" width="13.05" height="0.85" fill="#f6d4d6"/><rect x="276.5" y="544.2" width="13.05" height="0.85" fill="#f5cbcc"/><rect x="289.5" y="544.2" width="13.05" height="0.85" fill="#f3afb1"/><rect x="302.5" y="544.2" width="13.05" height="0.85" fill="#ec6064"/><rect x="185.5" y="545" width="13.05" height="2.35" fill="#e7e5ee"/><rect x="198.5" y="545" width="13.05" height="2.35" fill="#e5e3ed"/><rect x="211.5" y="545" width="13.05" height="2.35" fill="#c0c3dc"/><rect x="224.5" y="545" width="13.05" height="2.35" fill="#c0c3dc"/><rect x="237.5" y="545" width="13.05" height="2.35" fill="#a5abd0"/><rect x="250.5" y="545" width="13.05" height="2.35" fill="#f5cacc"/><rect x="263.5" y="545" width="13.05" height="2.35" fill="#f7dcdd"/><rect x="276.5" y="545" width="13.05" height="2.35" fill="#f5c7c9"/><rect x="289.5" y="545" width="13.05" height="2.35" fill="#f2a1a4"/><rect x="302.5" y="545" width="13.05" height="2.35" fill="#ee787b"/><rect x="185.5" y="547.3" width="13.05" height="2.35" fill="#e0dfeb"/><rect x="198.5" y="547.3" width="13.05" height="2.35" fill="#e5e3ed"/><rect x="211.5" y="547.3" width="13.05" height="2.35" fill="#cbcde1"/><rect x="224.5" y="547.3" width="13.05" height="2.35" fill="#d0d1e3"/><rect x="237.5" y="547.3" width="13.05" height="2.35" fill="#a5abcf"/><rect x="250.5" y="547.3" width="13.05" height="2.35" fill="#f2a8aa"/><rect x="263.5" y="547.3" width="13.05" height="2.35" fill="#f6d2d3"/><rect x="276.5" y="547.3" width="13.05" height="2.35" fill="#f4c0c2"/><rect x="289.5" y="547.3" width="13.05" height="2.35" fill="#f3abad"/><rect x="302.5" y="547.3" width="13.05" height="2.35" fill="#f08a8c"/><rect x="185.5" y="549.6" width="13.05" height="2.35" fill="#efecf2"/><rect x="198.5" y="549.6" width="13.05" height="2.35" fill="#e5e3ed"/><rect x="211.5" y="549.6" width="13.05" height="2.35" fill="#c1c4dc"/><rect x="224.5" y="549.6" width="13.05" height="2.35" fill="#c1c3dc"/><rect x="237.5" y="549.6" width="13.05" height="2.35" fill="#a8add1"/><rect x="250.5" y="549.6" width="13.05" height="2.35" fill="#f5c6c8"/><rect x="263.5" y="549.6" width="13.05" height="2.35" fill="#f7e1e2"/><rect x="276.5" y="549.6" width="13.05" height="2.35" fill="#f5c2c4"/><rect x="289.5" y="549.6" width="13.05" height="2.35" fill="#f5cacc"/><rect x="302.5" y="549.6" width="13.05" height="2.35" fill="#ea4447"/><rect x="185.5" y="551.9" width="13.05" height="2.35" fill="#e6e4ed"/><rect x="198.5" y="551.9" width="13.05" height="2.35" fill="#e7e5ee"/><rect x="211.5" y="551.9" width="13.05" height="2.35" fill="#bfc2db"/><rect x="224.5" y="551.9" width="13.05" height="2.35" fill="#cacce0"/><rect x="237.5" y="551.9" width="13.05" height="2.35" fill="#9098c6"/><rect x="250.5" y="551.9" width="13.05" height="2.35" fill="#f3b4b6"/><rect x="263.5" y="551.9" width="13.05" height="2.35" fill="#f5cdce"/><rect x="276.5" y="551.9" width="13.05" height="2.35" fill="#f4babc"/><rect x="289.5" y="551.9" width="13.05" height="2.35" fill="#f6cfd0"/><rect x="302.5" y="551.9" width="13.05" height="2.35" fill="#ea4e52"/><rect x="185.5" y="554.2" width="13.05" height="0.85" fill="#ebe9f0"/><rect x="198.5" y="554.2" width="13.05" height="0.85" fill="#ebe9f0"/><rect x="211.5" y="554.2" width="13.05" height="0.85" fill="#c0c3dc"/><rect x="224.5" y="554.2" width="13.05" height="0.85" fill="#d5d5e5"/><rect x="237.5" y="554.2" width="13.05" height="0.85" fill="#a9aed1"/><rect x="250.5" y="554.2" width="13.05" height="0.85" fill="#f6d0d1"/><rect x="263.5" y="554.2" width="13.05" height="0.85" fill="#f5cccd"/><rect x="276.5" y="554.2" width="13.05" height="0.85" fill="#f4c0c2"/><rect x="289.5" y="554.2" width="13.05" height="0.85" fill="#f3b0b2"/><rect x="302.5" y="554.2" width="13.05" height="0.85" fill="#f3b1b3"/><rect x="185.5" y="555" width="13.05" height="2.35" fill="#f8f5f6"/><rect x="198.5" y="555" width="13.05" height="2.35" fill="#dcdbe8"/><rect x="211.5" y="555" width="13.05" height="2.35" fill="#e7e5ee"/><rect x="224.5" y="555" width="13.05" height="2.35" fill="#cdcee2"/><rect x="237.5" y="555" width="13.05" height="2.35" fill="#4d5da7"/><rect x="250.5" y="555" width="13.05" height="2.35" fill="#f6d1d3"/><rect x="263.5" y="555" width="13.05" height="2.35" fill="#f6d0d1"/><rect x="276.5" y="555" width="13.05" height="2.35" fill="#f4b8ba"/><rect x="289.5" y="555" width="13.05" height="2.35" fill="#f3b2b4"/><rect x="302.5" y="555" width="13.05" height="2.35" fill="#eb5255"/><rect x="185.5" y="557.3" width="13.05" height="2.35" fill="#d8d8e7"/><rect x="198.5" y="557.3" width="13.05" height="2.35" fill="#dedde9"/><rect x="211.5" y="557.3" width="13.05" height="2.35" fill="#dcdce9"/><rect x="224.5" y="557.3" width="13.05" height="2.35" fill="#d9d9e7"/><rect x="237.5" y="557.3" width="13.05" height="2.35" fill="#5463aa"/><rect x="250.5" y="557.3" width="13.05" height="2.35" fill="#f6d2d4"/><rect x="263.5" y="557.3" width="13.05" height="2.35" fill="#f5ccce"/><rect x="276.5" y="557.3" width="13.05" height="2.35" fill="#f6d2d4"/><rect x="289.5" y="557.3" width="13.05" height="2.35" fill="#ef8184"/><rect x="302.5" y="557.3" width="13.05" height="2.35" fill="#f08d8f"/><rect x="185.5" y="559.6" width="13.05" height="2.35" fill="#d9d9e7"/><rect x="198.5" y="559.6" width="13.05" height="2.35" fill="#cecfe2"/><rect x="211.5" y="559.6" width="13.05" height="2.35" fill="#dadae8"/><rect x="224.5" y="559.6" width="13.05" height="2.35" fill="#c8cadf"/><rect x="237.5" y="559.6" width="13.05" height="2.35" fill="#6b77b4"/><rect x="250.5" y="559.6" width="13.05" height="2.35" fill="#f6d7d8"/><rect x="263.5" y="559.6" width="13.05" height="2.35" fill="#f3afb1"/><rect x="276.5" y="559.6" width="13.05" height="2.35" fill="#f6d2d4"/><rect x="289.5" y="559.6" width="13.05" height="2.35" fill="#f3aeb0"/><rect x="302.5" y="559.6" width="13.05" height="2.35" fill="#ed676b"/><rect x="185.5" y="561.9" width="13.05" height="2.35" fill="#d7d7e6"/><rect x="198.5" y="561.9" width="13.05" height="2.35" fill="#e9e6ee"/><rect x="211.5" y="561.9" width="13.05" height="2.35" fill="#d9d9e7"/><rect x="224.5" y="561.9" width="13.05" height="2.35" fill="#f1eef2"/><rect x="237.5" y="561.9" width="13.05" height="2.35" fill="#a6acd0"/><rect x="250.5" y="561.9" width="13.05" height="2.35" fill="#f8ebec"/><rect x="263.5" y="561.9" width="13.05" height="2.35" fill="#f6d3d5"/><rect x="276.5" y="561.9" width="13.05" height="2.35" fill="#f7dadb"/><rect x="289.5" y="561.9" width="13.05" height="2.35" fill="#f2a4a6"/><rect x="302.5" y="561.9" width="13.05" height="2.35" fill="#e93b3f"/><rect x="185.5" y="564.2" width="13.05" height="0.85" fill="#dddce9"/><rect x="198.5" y="564.2" width="13.05" height="0.85" fill="#f0edf2"/><rect x="211.5" y="564.2" width="13.05" height="0.85" fill="#dcdbe9"/><rect x="224.5" y="564.2" width="13.05" height="0.85" fill="#dadae8"/><rect x="237.5" y="564.2" width="13.05" height="0.85" fill="#8791c2"/><rect x="250.5" y="564.2" width="13.05" height="0.85" fill="#f5c8ca"/><rect x="263.5" y="564.2" width="13.05" height="0.85" fill="#f3abad"/><rect x="276.5" y="564.2" width="13.05" height="0.85" fill="#f5ccce"/><rect x="289.5" y="564.2" width="13.05" height="0.85" fill="#f5c8ca"/><rect x="302.5" y="564.2" width="13.05" height="0.85" fill="#e93c3f"/><rect x="185.5" y="565" width="13.05" height="2.35" fill="#d8d8e7"/><rect x="198.5" y="565" width="13.05" height="2.35" fill="#e4e2ec"/><rect x="211.5" y="565" width="13.05" height="2.35" fill="#b8bcd8"/><rect x="224.5" y="565" width="13.05" height="2.35" fill="#e1dfeb"/><rect x="237.5" y="565" width="13.05" height="2.35" fill="#4657a4"/><rect x="250.5" y="565" width="13.05" height="2.35" fill="#f6d2d3"/><rect x="263.5" y="565" width="13.05" height="2.35" fill="#f1979a"/><rect x="276.5" y="565" width="13.05" height="2.35" fill="#f4b7b9"/><rect x="289.5" y="565" width="13.05" height="2.35" fill="#f3aeb0"/><rect x="302.5" y="565" width="13.05" height="2.35" fill="#f19799"/><rect x="185.5" y="567.3" width="13.05" height="2.35" fill="#d3d4e5"/><rect x="198.5" y="567.3" width="13.05" height="2.35" fill="#d9d8e7"/><rect x="211.5" y="567.3" width="13.05" height="2.35" fill="#8f97c5"/><rect x="224.5" y="567.3" width="13.05" height="2.35" fill="#a0a6cd"/><rect x="237.5" y="567.3" width="13.05" height="2.35" fill="#4254a2"/><rect x="250.5" y="567.3" width="13.05" height="2.35" fill="#f7dedf"/><rect x="263.5" y="567.3" width="13.05" height="2.35" fill="#f4c1c3"/><rect x="276.5" y="567.3" width="13.05" height="2.35" fill="#eb5256"/><rect x="289.5" y="567.3" width="13.05" height="2.35" fill="#f4bec0"/><rect x="302.5" y="567.3" width="13.05" height="2.35" fill="#ed6669"/><rect x="185.5" y="569.6" width="13.05" height="2.35" fill="#e4e3ed"/><rect x="198.5" y="569.6" width="13.05" height="2.35" fill="#c9cae0"/><rect x="211.5" y="569.6" width="13.05" height="2.35" fill="#bdc0db"/><rect x="224.5" y="569.6" width="13.05" height="2.35" fill="#bec1db"/><rect x="237.5" y="569.6" width="13.05" height="2.35" fill="#8791c2"/><rect x="250.5" y="569.6" width="13.05" height="2.35" fill="#f8e7e8"/><rect x="263.5" y="569.6" width="13.05" height="2.35" fill="#f5c4c6"/><rect x="276.5" y="569.6" width="13.05" height="2.35" fill="#f4bbbd"/><rect x="289.5" y="569.6" width="13.05" height="2.35" fill="#f5cdce"/><rect x="302.5" y="569.6" width="13.05" height="2.35" fill="#f3acae"/><rect x="185.5" y="571.9" width="13.05" height="2.35" fill="#e6e4ed"/><rect x="198.5" y="571.9" width="13.05" height="2.35" fill="#c8cae0"/><rect x="211.5" y="571.9" width="13.05" height="2.35" fill="#c7c9df"/><rect x="224.5" y="571.9" width="13.05" height="2.35" fill="#eceaf0"/><rect x="237.5" y="571.9" width="13.05" height="2.35" fill="#949cc8"/><rect x="250.5" y="571.9" width="13.05" height="2.35" fill="#f7d9da"/><rect x="263.5" y="571.9" width="13.05" height="2.35" fill="#f3abad"/><rect x="276.5" y="571.9" width="13.05" height="2.35" fill="#f09295"/><rect x="289.5" y="571.9" width="13.05" height="2.35" fill="#f3acae"/><rect x="302.5" y="571.9" width="13.05" height="2.35" fill="#eb585c"/><rect x="185.5" y="574.2" width="13.05" height="0.85" fill="#cdcee2"/><rect x="198.5" y="574.2" width="13.05" height="0.85" fill="#f0edf2"/><rect x="211.5" y="574.2" width="13.05" height="0.85" fill="#99a0ca"/><rect x="224.5" y="574.2" width="13.05" height="0.85" fill="#b0b5d5"/><rect x="237.5" y="574.2" width="13.05" height="0.85" fill="#8791c2"/><rect x="250.5" y="574.2" width="13.05" height="0.85" fill="#f7dbdd"/><rect x="263.5" y="574.2" width="13.05" height="0.85" fill="#f08b8e"/><rect x="276.5" y="574.2" width="13.05" height="0.85" fill="#ec6568"/><rect x="289.5" y="574.2" width="13.05" height="0.85" fill="#f4bcbe"/><rect x="302.5" y="574.2" width="13.05" height="0.85" fill="#e9393d"/><rect x="185.5" y="575" width="13.05" height="2.35" fill="#e7e5ee"/><rect x="198.5" y="575" width="13.05" height="2.35" fill="#dcdbe9"/><rect x="211.5" y="575" width="13.05" height="2.35" fill="#b7bbd8"/><rect x="224.5" y="575" width="13.05" height="2.35" fill="#cbcde1"/><rect x="237.5" y="575" width="13.05" height="2.35" fill="#6371b1"/><rect x="250.5" y="575" width="13.05" height="2.35" fill="#f7dadc"/><rect x="263.5" y="575" width="13.05" height="2.35" fill="#f6cdcf"/><rect x="276.5" y="575" width="13.05" height="2.35" fill="#f1999c"/><rect x="289.5" y="575" width="13.05" height="2.35" fill="#f5c9ca"/><rect x="302.5" y="575" width="13.05" height="2.35" fill="#f2a7a9"/><rect x="185.5" y="577.3" width="13.05" height="2.35" fill="#ebe8ef"/><rect x="198.5" y="577.3" width="13.05" height="2.35" fill="#eceaf0"/><rect x="211.5" y="577.3" width="13.05" height="2.35" fill="#949cc8"/><rect x="224.5" y="577.3" width="13.05" height="2.35" fill="#efecf1"/><rect x="237.5" y="577.3" width="13.05" height="2.35" fill="#5161a9"/><rect x="250.5" y="577.3" width="13.05" height="2.35" fill="#f5cacc"/><rect x="263.5" y="577.3" width="13.05" height="2.35" fill="#f3b2b4"/><rect x="276.5" y="577.3" width="13.05" height="2.35" fill="#ec5e61"/><rect x="289.5" y="577.3" width="13.05" height="2.35" fill="#f6d0d1"/><rect x="302.5" y="577.3" width="13.05" height="2.35" fill="#f3abae"/><rect x="185.5" y="579.6" width="13.05" height="2.35" fill="#dfdeea"/><rect x="198.5" y="579.6" width="13.05" height="2.35" fill="#e0dfeb"/><rect x="211.5" y="579.6" width="13.05" height="2.35" fill="#e2e1eb"/><rect x="224.5" y="579.6" width="13.05" height="2.35" fill="#e8e6ee"/><rect x="237.5" y="579.6" width="13.05" height="2.35" fill="#7b85bc"/><rect x="250.5" y="579.6" width="13.05" height="2.35" fill="#f8eeef"/><rect x="263.5" y="579.6" width="13.05" height="2.35" fill="#f4b8ba"/><rect x="276.5" y="579.6" width="13.05" height="2.35" fill="#f2a0a2"/><rect x="289.5" y="579.6" width="13.05" height="2.35" fill="#f3afb1"/><rect x="302.5" y="579.6" width="13.05" height="2.35" fill="#ed6a6d"/><rect x="185.5" y="581.9" width="13.05" height="2.35" fill="#f4f1f4"/><rect x="198.5" y="581.9" width="13.05" height="2.35" fill="#f0edf2"/><rect x="211.5" y="581.9" width="13.05" height="2.35" fill="#dfdeea"/><rect x="224.5" y="581.9" width="13.05" height="2.35" fill="#dadae8"/><rect x="237.5" y="581.9" width="13.05" height="2.35" fill="#6d7ab6"/><rect x="250.5" y="581.9" width="13.05" height="2.35" fill="#f7dcde"/><rect x="263.5" y="581.9" width="13.05" height="2.35" fill="#f7e3e4"/><rect x="276.5" y="581.9" width="13.05" height="2.35" fill="#f3b2b4"/><rect x="289.5" y="581.9" width="13.05" height="2.35" fill="#f5c2c3"/><rect x="302.5" y="581.9" width="13.05" height="2.35" fill="#ee7b7e"/><rect x="185.5" y="584.2" width="13.05" height="0.85" fill="#e8e6ee"/><rect x="198.5" y="584.2" width="13.05" height="0.85" fill="#f1eef2"/><rect x="211.5" y="584.2" width="13.05" height="0.85" fill="#c7c9df"/><rect x="224.5" y="584.2" width="13.05" height="0.85" fill="#dedeea"/><rect x="237.5" y="584.2" width="13.05" height="0.85" fill="#6774b3"/><rect x="250.5" y="584.2" width="13.05" height="0.85" fill="#f6d2d4"/><rect x="263.5" y="584.2" width="13.05" height="0.85" fill="#f6d7d9"/><rect x="276.5" y="584.2" width="13.05" height="0.85" fill="#ee7376"/><rect x="289.5" y="584.2" width="13.05" height="0.85" fill="#f2a5a7"/><rect x="302.5" y="584.2" width="13.05" height="0.85" fill="#ec5a5e"/><rect x="185.5" y="585" width="13.05" height="2.35" fill="#f2eef3"/><rect x="198.5" y="585" width="13.05" height="2.35" fill="#cecfe2"/><rect x="211.5" y="585" width="13.05" height="2.35" fill="#b3b8d6"/><rect x="224.5" y="585" width="13.05" height="2.35" fill="#bdc0da"/><rect x="237.5" y="585" width="13.05" height="2.35" fill="#6572b2"/><rect x="250.5" y="585" width="13.05" height="2.35" fill="#f6cecf"/><rect x="263.5" y="585" width="13.05" height="2.35" fill="#f7dadc"/><rect x="276.5" y="585" width="13.05" height="2.35" fill="#f4b9bb"/><rect x="289.5" y="585" width="13.05" height="2.35" fill="#f7e3e4"/><rect x="302.5" y="585" width="13.05" height="2.35" fill="#f2a1a3"/><rect x="185.5" y="587.3" width="13.05" height="2.35" fill="#eceaf0"/><rect x="198.5" y="587.3" width="13.05" height="2.35" fill="#abb1d2"/><rect x="211.5" y="587.3" width="13.05" height="2.35" fill="#959dc8"/><rect x="224.5" y="587.3" width="13.05" height="2.35" fill="#c0c2dc"/><rect x="237.5" y="587.3" width="13.05" height="2.35" fill="#6d7ab6"/><rect x="250.5" y="587.3" width="13.05" height="2.35" fill="#f6d0d2"/><rect x="263.5" y="587.3" width="13.05" height="2.35" fill="#f19799"/><rect x="276.5" y="587.3" width="13.05" height="2.35" fill="#ef8385"/><rect x="289.5" y="587.3" width="13.05" height="2.35" fill="#f7dfe0"/><rect x="302.5" y="587.3" width="13.05" height="2.35" fill="#f4bbbd"/><rect x="185.5" y="589.6" width="13.05" height="2.35" fill="#f9f3f4"/><rect x="198.5" y="589.6" width="13.05" height="2.35" fill="#9199c6"/><rect x="211.5" y="589.6" width="13.05" height="2.35" fill="#8992c2"/><rect x="224.5" y="589.6" width="13.05" height="2.35" fill="#d6d6e6"/><rect x="237.5" y="589.6" width="13.05" height="2.35" fill="#4455a3"/><rect x="250.5" y="589.6" width="13.05" height="2.35" fill="#f8e4e5"/><rect x="263.5" y="589.6" width="13.05" height="2.35" fill="#f3abad"/><rect x="276.5" y="589.6" width="13.05" height="2.35" fill="#f4bcbd"/><rect x="289.5" y="589.6" width="13.05" height="2.35" fill="#f6cdcf"/><rect x="302.5" y="589.6" width="13.05" height="2.35" fill="#eb5659"/><rect x="185.5" y="591.9" width="13.05" height="2.35" fill="#eeebf1"/><rect x="198.5" y="591.9" width="13.05" height="2.35" fill="#aaafd2"/><rect x="211.5" y="591.9" width="13.05" height="2.35" fill="#acb1d2"/><rect x="224.5" y="591.9" width="13.05" height="2.35" fill="#d1d2e4"/><rect x="237.5" y="591.9" width="13.05" height="2.35" fill="#6371b1"/><rect x="250.5" y="591.9" width="13.05" height="2.35" fill="#f7e0e1"/><rect x="263.5" y="591.9" width="13.05" height="2.35" fill="#f2a5a8"/><rect x="276.5" y="591.9" width="13.05" height="2.35" fill="#ed7174"/><rect x="289.5" y="591.9" width="13.05" height="2.35" fill="#f7d9da"/><rect x="302.5" y="591.9" width="13.05" height="2.35" fill="#ed7174"/><rect x="185.5" y="594.2" width="13.05" height="0.85" fill="#f3f0f3"/><rect x="198.5" y="594.2" width="13.05" height="0.85" fill="#c2c4dd"/><rect x="211.5" y="594.2" width="13.05" height="0.85" fill="#808abe"/><rect x="224.5" y="594.2" width="13.05" height="0.85" fill="#cdcfe2"/><rect x="237.5" y="594.2" width="13.05" height="0.85" fill="#6f7bb7"/><rect x="250.5" y="594.2" width="13.05" height="0.85" fill="#f5c8ca"/><rect x="263.5" y="594.2" width="13.05" height="0.85" fill="#f7e1e2"/><rect x="276.5" y="594.2" width="13.05" height="0.85" fill="#eb5053"/><rect x="289.5" y="594.2" width="13.05" height="0.85" fill="#f8e7e8"/><rect x="302.5" y="594.2" width="13.05" height="0.85" fill="#f3abad"/><rect x="185.5" y="595" width="13.05" height="2.35" fill="#e3e1ec"/><rect x="198.5" y="595" width="13.05" height="2.35" fill="#e1e0eb"/><rect x="211.5" y="595" width="13.05" height="2.35" fill="#818bbf"/><rect x="224.5" y="595" width="13.05" height="2.35" fill="#f8eced"/><rect x="237.5" y="595" width="13.05" height="2.35" fill="#5262a9"/><rect x="250.5" y="595" width="13.05" height="2.35" fill="#f5c3c5"/><rect x="263.5" y="595" width="13.05" height="2.35" fill="#f5ccce"/><rect x="276.5" y="595" width="13.05" height="2.35" fill="#f1999b"/><rect x="289.5" y="595" width="13.05" height="2.35" fill="#f8e4e5"/><rect x="302.5" y="595" width="13.05" height="2.35" fill="#ea4d50"/><rect x="185.5" y="597.3" width="13.05" height="2.35" fill="#f4f0f4"/><rect x="198.5" y="597.3" width="13.05" height="2.35" fill="#c9cbe0"/><rect x="211.5" y="597.3" width="13.05" height="2.35" fill="#949cc8"/><rect x="224.5" y="597.3" width="13.05" height="2.35" fill="#f8edee"/><rect x="237.5" y="597.3" width="13.05" height="2.35" fill="#5867ac"/><rect x="250.5" y="597.3" width="13.05" height="2.35" fill="#f5c8ca"/><rect x="263.5" y="597.3" width="13.05" height="2.35" fill="#f5c5c6"/><rect x="276.5" y="597.3" width="13.05" height="2.35" fill="#f2aaac"/><rect x="289.5" y="597.3" width="13.05" height="2.35" fill="#f9f1f2"/><rect x="302.5" y="597.3" width="13.05" height="2.35" fill="#e94245"/><rect x="185.5" y="599.6" width="13.05" height="2.35" fill="#e5e3ed"/><rect x="198.5" y="599.6" width="13.05" height="2.35" fill="#d6d6e6"/><rect x="211.5" y="599.6" width="13.05" height="2.35" fill="#a9aed1"/><rect x="224.5" y="599.6" width="13.05" height="2.35" fill="#f0edf2"/><rect x="237.5" y="599.6" width="13.05" height="2.35" fill="#7681ba"/><rect x="250.5" y="599.6" width="13.05" height="2.35" fill="#f3b6b8"/><rect x="263.5" y="599.6" width="13.05" height="2.35" fill="#f5c6c8"/><rect x="276.5" y="599.6" width="13.05" height="2.35" fill="#f3b0b2"/><rect x="289.5" y="599.6" width="13.05" height="2.35" fill="#f8eeef"/><rect x="302.5" y="599.6" width="13.05" height="2.35" fill="#e83236"/><rect x="185.5" y="601.9" width="13.05" height="2.35" fill="#ece9f0"/><rect x="198.5" y="601.9" width="13.05" height="2.35" fill="#edebf1"/><rect x="211.5" y="601.9" width="13.05" height="2.35" fill="#8f98c5"/><rect x="224.5" y="601.9" width="13.05" height="2.35" fill="#f9f0f1"/><rect x="237.5" y="601.9" width="13.05" height="2.35" fill="#4d5da7"/><rect x="250.5" y="601.9" width="13.05" height="2.35" fill="#f29fa1"/><rect x="263.5" y="601.9" width="13.05" height="2.35" fill="#f6d3d5"/><rect x="276.5" y="601.9" width="13.05" height="2.35" fill="#f5cccd"/><rect x="289.5" y="601.9" width="13.05" height="2.35" fill="#f7e4e5"/><rect x="302.5" y="601.9" width="13.05" height="2.35" fill="#f1989a"/><rect x="185.5" y="604.2" width="13.05" height="0.85" fill="#f0edf2"/><rect x="198.5" y="604.2" width="13.05" height="0.85" fill="#dfdeea"/><rect x="211.5" y="604.2" width="13.05" height="0.85" fill="#d1d2e4"/><rect x="224.5" y="604.2" width="13.05" height="0.85" fill="#f9eff1"/><rect x="237.5" y="604.2" width="13.05" height="0.85" fill="#4f5fa8"/><rect x="250.5" y="604.2" width="13.05" height="0.85" fill="#f3afb1"/><rect x="263.5" y="604.2" width="13.05" height="0.85" fill="#f6d6d7"/><rect x="276.5" y="604.2" width="13.05" height="0.85" fill="#f4b9bb"/><rect x="289.5" y="604.2" width="13.05" height="0.85" fill="#f8ebec"/><rect x="302.5" y="604.2" width="13.05" height="0.85" fill="#f2a3a6"/><rect x="185.5" y="605" width="13.05" height="2.35" fill="#d1d2e4"/><rect x="198.5" y="605" width="13.05" height="2.35" fill="#dadae8"/><rect x="211.5" y="605" width="13.05" height="2.35" fill="#cfd0e2"/><rect x="224.5" y="605" width="13.05" height="2.35" fill="#f7e2e3"/><rect x="237.5" y="605" width="13.05" height="2.35" fill="#8891c2"/><rect x="250.5" y="605" width="13.05" height="2.35" fill="#f8e4e6"/><rect x="263.5" y="605" width="13.05" height="2.35" fill="#f2a9ac"/><rect x="276.5" y="605" width="13.05" height="2.35" fill="#f3abae"/><rect x="289.5" y="605" width="13.05" height="2.35" fill="#f8e7e8"/><rect x="302.5" y="605" width="13.05" height="2.35" fill="#ec5f62"/><rect x="185.5" y="607.3" width="13.05" height="2.35" fill="#d2d3e4"/><rect x="198.5" y="607.3" width="13.05" height="2.35" fill="#e6e4ed"/><rect x="211.5" y="607.3" width="13.05" height="2.35" fill="#c5c7de"/><rect x="224.5" y="607.3" width="13.05" height="2.35" fill="#f8e5e6"/><rect x="237.5" y="607.3" width="13.05" height="2.35" fill="#4758a4"/><rect x="250.5" y="607.3" width="13.05" height="2.35" fill="#f6d5d6"/><rect x="263.5" y="607.3" width="13.05" height="2.35" fill="#f7dadc"/><rect x="276.5" y="607.3" width="13.05" height="2.35" fill="#f0888b"/><rect x="289.5" y="607.3" width="13.05" height="2.35" fill="#f8e7e9"/><rect x="302.5" y="607.3" width="13.05" height="2.35" fill="#f4bbbd"/><rect x="185.5" y="609.6" width="13.05" height="2.35" fill="#e6e5ed"/><rect x="198.5" y="609.6" width="13.05" height="2.35" fill="#cfd0e3"/><rect x="211.5" y="609.6" width="13.05" height="2.35" fill="#e8e6ee"/><rect x="224.5" y="609.6" width="13.05" height="2.35" fill="#f8e8e9"/><rect x="237.5" y="609.6" width="13.05" height="2.35" fill="#6674b3"/><rect x="250.5" y="609.6" width="13.05" height="2.35" fill="#f7d9db"/><rect x="263.5" y="609.6" width="13.05" height="2.35" fill="#f3acae"/><rect x="276.5" y="609.6" width="13.05" height="2.35" fill="#f19799"/><rect x="289.5" y="609.6" width="13.05" height="2.35" fill="#f7e1e2"/><rect x="302.5" y="609.6" width="13.05" height="2.35" fill="#eb4f53"/><rect x="185.5" y="611.9" width="13.05" height="2.35" fill="#c5c7de"/><rect x="198.5" y="611.9" width="13.05" height="2.35" fill="#d8d8e7"/><rect x="211.5" y="611.9" width="13.05" height="2.35" fill="#c0c3dc"/><rect x="224.5" y="611.9" width="13.05" height="2.35" fill="#f5f2f4"/><rect x="237.5" y="611.9" width="13.05" height="2.35" fill="#7f89be"/><rect x="250.5" y="611.9" width="13.05" height="2.35" fill="#f9f4f6"/><rect x="263.5" y="611.9" width="13.05" height="2.35" fill="#f6d5d7"/><rect x="276.5" y="611.9" width="13.05" height="2.35" fill="#f3b2b4"/><rect x="289.5" y="611.9" width="13.05" height="2.35" fill="#f7dbdc"/><rect x="302.5" y="611.9" width="13.05" height="2.35" fill="#f4bcbe"/><rect x="185.5" y="614.2" width="13.05" height="0.85" fill="#d9d8e7"/><rect x="198.5" y="614.2" width="13.05" height="0.85" fill="#e2e1ec"/><rect x="211.5" y="614.2" width="13.05" height="0.85" fill="#c0c3dc"/><rect x="224.5" y="614.2" width="13.05" height="0.85" fill="#f8eaec"/><rect x="237.5" y="614.2" width="13.05" height="0.85" fill="#7681ba"/><rect x="250.5" y="614.2" width="13.05" height="0.85" fill="#f6d4d5"/><rect x="263.5" y="614.2" width="13.05" height="0.85" fill="#f6d3d4"/><rect x="276.5" y="614.2" width="13.05" height="0.85" fill="#f7dfe0"/><rect x="289.5" y="614.2" width="13.05" height="0.85" fill="#f7dbdc"/><rect x="302.5" y="614.2" width="13.05" height="0.85" fill="#ec6265"/><rect x="185.5" y="615" width="13.05" height="2.35" fill="#cecfe2"/><rect x="198.5" y="615" width="13.05" height="2.35" fill="#d6d6e6"/><rect x="211.5" y="615" width="13.05" height="2.35" fill="#abb0d2"/><rect x="224.5" y="615" width="13.05" height="2.35" fill="#f9f2f3"/><rect x="237.5" y="615" width="13.05" height="2.35" fill="#6b78b5"/><rect x="250.5" y="615" width="13.05" height="2.35" fill="#f7dcdd"/><rect x="263.5" y="615" width="13.05" height="2.35" fill="#f7dcde"/><rect x="276.5" y="615" width="13.05" height="2.35" fill="#f3b5b7"/><rect x="289.5" y="615" width="13.05" height="2.35" fill="#f9f1f2"/><rect x="302.5" y="615" width="13.05" height="2.35" fill="#ef8386"/><rect x="185.5" y="617.3" width="13.05" height="2.35" fill="#d1d2e4"/><rect x="198.5" y="617.3" width="13.05" height="2.35" fill="#d8d8e7"/><rect x="211.5" y="617.3" width="13.05" height="2.35" fill="#9fa6cd"/><rect x="224.5" y="617.3" width="13.05" height="2.35" fill="#f3f0f3"/><rect x="237.5" y="617.3" width="13.05" height="2.35" fill="#5161a9"/><rect x="250.5" y="617.3" width="13.05" height="2.35" fill="#f7dee0"/><rect x="263.5" y="617.3" width="13.05" height="2.35" fill="#f6d1d3"/><rect x="276.5" y="617.3" width="13.05" height="2.35" fill="#f7e0e1"/><rect x="289.5" y="617.3" width="13.05" height="2.35" fill="#f8edee"/><rect x="302.5" y="617.3" width="13.05" height="2.35" fill="#ec5a5e"/><rect x="185.5" y="619.6" width="13.05" height="2.35" fill="#e7e5ee"/><rect x="198.5" y="619.6" width="13.05" height="2.35" fill="#cecfe2"/><rect x="211.5" y="619.6" width="13.05" height="2.35" fill="#d1d1e3"/><rect x="224.5" y="619.6" width="13.05" height="2.35" fill="#f9f4f5"/><rect x="237.5" y="619.6" width="13.05" height="2.35" fill="#3f51a0"/><rect x="250.5" y="619.6" width="13.05" height="2.35" fill="#f7dadb"/><rect x="263.5" y="619.6" width="13.05" height="2.35" fill="#f7dcdd"/><rect x="276.5" y="619.6" width="13.05" height="2.35" fill="#f5ccce"/><rect x="289.5" y="619.6" width="13.05" height="2.35" fill="#f7dcde"/><rect x="302.5" y="619.6" width="13.05" height="2.35" fill="#ec6366"/><rect x="185.5" y="621.9" width="13.05" height="2.35" fill="#e0dfea"/><rect x="198.5" y="621.9" width="13.05" height="2.35" fill="#e8e6ee"/><rect x="211.5" y="621.9" width="13.05" height="2.35" fill="#c0c3dc"/><rect x="224.5" y="621.9" width="13.05" height="2.35" fill="#f0edf2"/><rect x="237.5" y="621.9" width="13.05" height="2.35" fill="#9199c6"/><rect x="250.5" y="621.9" width="13.05" height="2.35" fill="#f8eff0"/><rect x="263.5" y="621.9" width="13.05" height="2.35" fill="#f7dee0"/><rect x="276.5" y="621.9" width="13.05" height="2.35" fill="#f4c1c3"/><rect x="289.5" y="621.9" width="13.05" height="2.35" fill="#f8eced"/><rect x="302.5" y="621.9" width="13.05" height="2.35" fill="#eb565a"/><rect x="185.5" y="624.2" width="13.05" height="0.85" fill="#d4d5e5"/><rect x="198.5" y="624.2" width="13.05" height="0.85" fill="#c9cbe0"/><rect x="211.5" y="624.2" width="13.05" height="0.85" fill="#d4d4e5"/><rect x="224.5" y="624.2" width="13.05" height="0.85" fill="#f1eef2"/><rect x="237.5" y="624.2" width="13.05" height="0.85" fill="#9ba2cb"/><rect x="250.5" y="624.2" width="13.05" height="0.85" fill="#f7dcdd"/><rect x="263.5" y="624.2" width="13.05" height="0.85" fill="#f9f0f1"/><rect x="276.5" y="624.2" width="13.05" height="0.85" fill="#f3b3b5"/><rect x="289.5" y="624.2" width="13.05" height="0.85" fill="#f8eced"/><rect x="302.5" y="624.2" width="13.05" height="0.85" fill="#f08c8e"/><rect x="185.5" y="625" width="13.05" height="2.35" fill="#d8d8e7"/><rect x="198.5" y="625" width="13.05" height="2.35" fill="#b0b5d5"/><rect x="211.5" y="625" width="13.05" height="2.35" fill="#d7d7e7"/><rect x="224.5" y="625" width="13.05" height="2.35" fill="#dadae8"/><rect x="237.5" y="625" width="13.05" height="2.35" fill="#7a85bc"/><rect x="250.5" y="625" width="13.05" height="2.35" fill="#f7d9da"/><rect x="263.5" y="625" width="13.05" height="2.35" fill="#f6d8d9"/><rect x="276.5" y="625" width="13.05" height="2.35" fill="#f1989a"/><rect x="289.5" y="625" width="13.05" height="2.35" fill="#f6d3d5"/><rect x="302.5" y="625" width="13.05" height="2.35" fill="#ee7275"/><rect x="185.5" y="627.3" width="13.05" height="2.35" fill="#c9cbe0"/><rect x="198.5" y="627.3" width="13.05" height="2.35" fill="#dbdae8"/><rect x="211.5" y="627.3" width="13.05" height="2.35" fill="#c2c5dd"/><rect x="224.5" y="627.3" width="13.05" height="2.35" fill="#cfd0e3"/><rect x="237.5" y="627.3" width="13.05" height="2.35" fill="#5060a8"/><rect x="250.5" y="627.3" width="13.05" height="2.35" fill="#f4babc"/><rect x="263.5" y="627.3" width="13.05" height="2.35" fill="#f3b5b7"/><rect x="276.5" y="627.3" width="13.05" height="2.35" fill="#f3b1b3"/><rect x="289.5" y="627.3" width="13.05" height="2.35" fill="#f6d1d3"/><rect x="302.5" y="627.3" width="13.05" height="2.35" fill="#ed6669"/><rect x="185.5" y="629.6" width="13.05" height="0.45" fill="#dadae8"/><rect x="198.5" y="629.6" width="13.05" height="0.45" fill="#b7bbd8"/><rect x="211.5" y="629.6" width="13.05" height="0.45" fill="#e0dfeb"/><rect x="224.5" y="629.6" width="13.05" height="0.45" fill="#ece9f0"/><rect x="237.5" y="629.6" width="13.05" height="0.45" fill="#727eb8"/><rect x="250.5" y="629.6" width="13.05" height="0.45" fill="#f6d1d3"/><rect x="263.5" y="629.6" width="13.05" height="0.45" fill="#f6cfd0"/><rect x="276.5" y="629.6" width="13.05" height="0.45" fill="#f2a5a7"/><rect x="289.5" y="629.6" width="13.05" height="0.45" fill="#f5c7c9"/><rect x="302.5" y="629.6" width="13.05" height="0.45" fill="#e83236"/></g>
<path d="M28.8 288.17H27.06V289.62H28.8M28.8 286.72H26.38V288.9H27.06M28.8 292.52H27.01V293.97H28.8M28.8 291.07H26.38V293.25H27.01M26.38 287.81H24.39V292.16H26.38M28.8 295.42H27.39V296.87H28.8M28.8 298.32H27.08V299.77H28.8M27.39 296.15H25.69V299.05H27.08M24.39 289.99H23.28V297.6H25.69M28.8 301.22H27.35V302.67H28.8M28.8 305.57H27.15V307.02H28.8M27.15 306.29H26.03V308.47H28.8M26.03 307.38H25.68V309.92H28.8M28.8 304.12H24.87V308.65H25.68M27.35 301.95H24.52V306.38H24.87M28.8 312.82H27.43V314.27H28.8M28.8 311.37H26.57V313.54H27.43M26.57 312.45H25.26V315.72H28.8M25.26 314.09H24.91V317.17H28.8M24.52 304.17H23.04V315.63H24.91M23.28 293.79H22.67V309.9H23.04M28.8 318.62H27.22V320.07H28.8M28.8 321.51H27.17V322.96H28.8M27.22 319.34H25.29V322.24H27.17M28.8 325.86H27.03V327.31H28.8M28.8 324.41H26.04V326.59H27.03M26.04 325.5H25.65V328.76H28.8M28.8 330.21H27.19V331.66H28.8M25.65 327.13H24.19V330.94H27.19M25.29 320.79H23.84V329.03H24.19M28.8 333.11H27.46V334.56H28.8M27.46 333.84H26.12V336.01H28.8M28.8 338.91H27.36V340.36H28.8M28.8 337.46H26.15V339.63H27.36M28.8 343.26H27.32V344.71H28.8M28.8 341.81H26.29V343.98H27.32M26.29 342.9H25.66V346.16H28.8M26.15 338.55H23.89V344.53H25.66M26.12 334.92H23.54V341.54H23.89M23.84 324.91H22.9V338.23H23.54M22.67 301.84H22.32V331.57H22.9M28.8 349.06H27.36V350.51H28.8M28.8 347.61H26.54V349.78H27.36M28.8 351.96H27.02V353.41H28.8M26.54 348.69H25.4V352.68H27.02M28.8 354.86H27.32V356.3H28.8M28.8 357.75H27.2V359.2H28.8M27.2 358.48H26.01V360.65H28.8M26.01 359.57H25.66V362.1H28.8M27.32 355.58H24.9V360.83H25.66M28.8 365H27.02V366.45H28.8M27.02 365.73H26.34V367.9H28.8M28.8 363.55H25.67V366.81H26.34M28.8 370.8H27.02V372.25H28.8M28.8 369.35H26.5V371.53H27.02M25.67 365.18H24.64V370.44H26.5M24.9 358.21H22.93V367.81H24.64M25.4 350.69H22.58V363.01H22.93M28.8 373.7H27.14V375.15H28.8M28.8 376.6H27.21V378.05H28.8M27.14 374.42H25.27V377.32H27.21M28.8 379.5H27.03V380.95H28.8M25.27 375.87H24.92V380.22H27.03M28.8 382.4H27.32V383.85H28.8M27.32 383.12H26.5V385.3H28.8M28.8 386.75H27.35V388.2H28.8M28.8 389.64H27.45V391.09H28.8M27.35 387.47H25.41V390.37H27.45M26.5 384.21H23.82V388.92H25.41M24.92 378.05H22.76V386.56H23.82M28.8 392.54H27.34V393.99H28.8M27.34 393.27H26.22V395.44H28.8M28.8 398.34H27.21V399.79H28.8M28.8 396.89H26.01V399.07H27.21M26.22 394.36H24.59V397.98H26.01M28.8 402.69H27.34V404.14H28.8M28.8 401.24H26.24V403.42H27.34M26.24 402.33H25.34V405.59H28.8M28.8 409.94H27.24V411.39H28.8M28.8 408.49H26.59V410.66H27.24M28.8 407.04H25.41V409.58H26.59M28.8 414.29H27.33V415.74H28.8M28.8 412.84H26.1V415.01H27.33M26.1 413.93H25.75V417.19H28.8M25.41 408.31H23.99V415.56H25.75M25.34 403.96H23.11V411.93H23.99M24.59 396.17H22.65V407.95H23.11M22.76 382.31H21.82V402.06H22.65M28.8 418.64H27.48V420.09H28.8M28.8 421.54H27.4V422.99H28.8M27.4 422.26H26.37V424.43H28.8M27.48 419.36H24.84V423.35H26.37M28.8 425.88H27.48V427.33H28.8M27.48 426.61H26.39V428.78H28.8M24.84 421.35H23.8V427.7H26.39M28.8 430.23H27.08V431.68H28.8M28.8 433.13H27.44V434.58H28.8M27.08 430.96H25.96V433.86H27.44M25.96 432.41H25.61V436.03H28.8M28.8 438.93H27.22V440.38H28.8M28.8 437.48H26.73V439.66H27.22M25.61 434.22H23.81V438.57H26.73M23.8 424.53H23.26V436.39H23.81M28.8 443.28H27.47V444.73H28.8M28.8 441.83H26.03V444H27.47M28.8 449.08H27.03V450.53H28.8M28.8 447.63H26.32V449.8H27.03M28.8 446.18H25.41V448.72H26.32M26.03 442.92H25.06V447.45H25.41M23.26 430.46H22.79V445.18H25.06M21.82 392.18H21.47V437.82H22.79M22.58 356.85H19.91V415H21.47M22.32 316.71H19.56V385.92H19.91M28.8 451.98H27.48V453.43H28.8M27.48 452.7H26.53V454.88H28.8M26.53 453.79H25.94V456.33H28.8M28.8 457.78H27.34V459.22H28.8M28.8 462.12H27.12V463.57H28.8M28.8 460.67H26.7V462.85H27.12M27.34 458.5H25.73V461.76H26.7M28.8 465.02H27.08V466.47H28.8M28.8 467.92H27.25V469.37H28.8M27.08 465.75H25.72V468.65H27.25M25.73 460.13H24.44V467.2H25.72M25.94 455.06H23.86V463.66H24.44M28.8 470.82H27.21V472.27H28.8M28.8 473.72H27.41V475.17H28.8M27.41 474.45H26.49V476.62H28.8M27.21 471.55H25.64V475.53H26.49M23.86 459.36H22.38V473.54H25.64M28.8 478.07H27.48V479.52H28.8M28.8 480.97H27.19V482.42H28.8M28.8 485.32H27.47V486.77H28.8M28.8 483.87H26.25V486.04H27.47M27.19 481.69H24.92V484.95H26.25M27.48 478.79H24.57V483.32H24.92M28.8 489.67H27.39V491.12H28.8M28.8 488.22H26.53V490.39H27.39M28.8 492.57H27.39V494.01H28.8M28.8 495.46H27.07V496.91H28.8M27.39 493.29H25.29V496.19H27.07M26.53 489.3H24.64V494.74H25.29M28.8 498.36H27.27V499.81H28.8M27.27 499.09H26.64V501.26H28.8M24.64 492.02H23.16V500.18H26.64M24.57 481.06H22.23V496.1H23.16M28.8 502.71H27.1V504.16H28.8M27.1 503.44H26.19V505.61H28.8M28.8 507.06H27.43V508.51H28.8M26.19 504.52H24.91V507.79H27.43M28.8 511.41H27.22V512.86H28.8M28.8 509.96H26.23V512.13H27.22M24.91 506.15H24.35V511.05H26.23M28.8 515.76H27.09V517.21H28.8M28.8 514.31H26.65V516.48H27.09M24.35 508.6H22.88V515.4H26.65M22.23 488.58H21.6V512H22.88M22.38 466.45H20.61V500.29H21.6M28.8 520.11H27.23V521.56H28.8M28.8 518.66H26.66V520.83H27.23M28.8 523.01H27.23V524.46H28.8M26.66 519.74H24.8V523.73H27.23M28.8 528.8H27.2V530.25H28.8M28.8 527.36H26.16V529.53H27.2M26.16 528.44H25.81V531.7H28.8M28.8 525.91H25.37V530.07H25.81M28.8 533.15H27.03V534.6H28.8M28.8 536.05H27.26V537.5H28.8M27.03 533.88H25.25V536.78H27.26M28.8 540.4H27.16V541.85H28.8M28.8 538.95H26.16V541.13H27.16M28.8 543.3H27.19V544.75H28.8M27.19 544.03H26.05V546.2H28.8M26.16 540.04H25.25V545.11H26.05M25.25 535.33H24.33V542.58H25.25M25.37 527.99H22.3V538.95H24.33M24.8 521.74H21.52V533.47H22.3M28.8 549.1H27.37V550.55H28.8M28.8 547.65H26.59V549.82H27.37M28.8 552H27.08V553.45H28.8M27.08 552.72H26.32V554.9H28.8M26.59 548.74H24.46V553.81H26.32M28.8 556.35H27.07V557.8H28.8M27.07 557.07H26.5V559.25H28.8M28.8 560.7H27.27V562.14H28.8M26.5 558.16H25.35V561.42H27.27M24.46 551.27H24.01V559.79H25.35M21.52 527.6H21.17V555.53H24.01M28.8 563.59H27.16V565.04H28.8M28.8 566.49H27.27V567.94H28.8M28.8 570.84H27.12V572.29H28.8M28.8 569.39H26.06V571.57H27.12M27.27 567.22H25.71V570.48H26.06M27.16 564.32H23.9V568.85H25.71M28.8 575.19H27.08V576.64H28.8M28.8 573.74H26.55V575.92H27.08M26.55 574.83H26.02V578.09H28.8M23.9 566.58H23.55V576.46H26.02M28.8 580.99H27.42V582.44H28.8M28.8 579.54H26.7V581.71H27.42M28.8 583.89H27.29V585.34H28.8M26.7 580.63H24.96V584.61H27.29M28.8 588.24H27.09V589.69H28.8M28.8 586.79H26.51V588.96H27.09M28.8 591.14H27.49V592.59H28.8M27.49 591.86H26.48V594.04H28.8M28.8 595.49H27.4V596.93H28.8M28.8 598.38H27.31V599.83H28.8M27.4 596.21H25.67V599.11H27.31M26.48 592.95H24.99V597.66H25.67M26.51 587.88H24.04V595.3H24.99M24.96 582.62H22.45V591.59H24.04M23.55 571.52H22.1V587.1H22.45M21.17 541.57H20.22V579.31H22.1M28.8 601.28H27.13V602.73H28.8M27.13 602.01H26.51V604.18H28.8M26.51 603.1H25.54V605.63H28.8M28.8 607.08H27.17V608.53H28.8M28.8 609.98H27.17V611.43H28.8M27.17 607.81H25.7V610.71H27.17M28.8 612.88H27.15V614.33H28.8M25.7 609.26H24.58V613.61H27.15M28.8 617.23H27.41V618.68H28.8M28.8 615.78H26.05V617.95H27.41M28.8 620.13H27.44V621.58H28.8M26.05 616.87H24.73V620.85H27.44M24.58 611.43H24.06V618.86H24.73M25.54 604.36H23.09V615.15H24.06M28.8 623.03H27.18V624.48H28.8M28.8 625.93H27.26V627.38H28.8M27.18 623.75H25.44V626.65H27.26M28.8 628.83H27.45V630.28H28.8M25.44 625.2H25.09V629.55H27.45M23.09 609.75H22.2V627.38H25.09M20.22 560.44H19.87V618.57H22.2M20.61 483.37H19.52V589.5H19.87M19.56 351.32H15.5V536.44H19.52" stroke="#000" stroke-width="0.85" fill="none"/>
<path d="M185.5 287.17H183.88V288.62H185.5M185.5 290.07H184.14V291.52H185.5M183.88 287.9H182.44V290.8H184.14M185.5 285.72H182.09V289.35H182.44M185.5 292.97H183.92V294.42H185.5M182.09 287.54H181.74V293.7H183.92M185.5 295.87H184.11V297.32H185.5M185.5 298.77H183.83V300.22H185.5M183.83 299.5H183.38V301.67H185.5M184.11 296.6H181.78V300.58H183.38M181.74 290.62H180.06V298.59H181.78M185.5 303.12H184.1V304.57H185.5M185.5 307.47H183.77V308.92H185.5M185.5 306.02H183.22V308.19H183.77M184.1 303.84H181.39V307.11H183.22M180.06 294.6H179.21V305.48H181.39M185.5 310.37H183.73V311.82H185.5M185.5 313.27H184.02V314.72H185.5M184.02 313.99H183.31V316.17H185.5M183.31 315.08H182.76V317.62H185.5M183.73 311.09H182.06V316.35H182.76M185.5 319.07H183.91V320.51H185.5M185.5 321.96H184.17V323.41H185.5M183.91 319.79H182.55V322.69H184.17M182.06 313.72H180.69V321.24H182.55M179.21 300.04H178.6V317.48H180.69M185.5 324.86H184.17V326.31H185.5M185.5 329.21H183.79V330.66H185.5M185.5 327.76H183.43V329.94H183.79M184.17 325.59H181.59V328.85H183.43M185.5 333.56H184.18V335.01H185.5M185.5 332.11H183.3V334.29H184.18M185.5 336.46H184.14V337.91H185.5M183.3 333.2H182.2V337.18H184.14M185.5 339.36H183.76V340.81H185.5M185.5 342.26H183.82V343.71H185.5M183.76 340.08H182.79V342.98H183.82M185.5 345.16H183.78V346.61H185.5M182.79 341.53H182.09V345.88H183.78M182.2 335.19H179.41V343.71H182.09M181.59 327.22H179.06V339.45H179.41M178.6 308.76H178.25V333.33H179.06M185.5 348.06H183.87V349.51H185.5M185.5 350.96H184.11V352.41H185.5M183.87 348.78H182.82V351.68H184.11M182.82 350.23H182.31V353.86H185.5M185.5 358.2H183.72V359.65H185.5M185.5 356.75H183.03V358.93H183.72M185.5 355.3H182.5V357.84H183.03M182.5 356.57H182.15V361.1H185.5M185.5 362.55H183.98V364H185.5M183.98 363.28H183.11V365.45H185.5M182.15 358.84H181.52V364.36H183.11M182.31 352.04H179.04V361.6H181.52M185.5 366.9H184.04V368.35H185.5M185.5 372.7H184.15V374.15H185.5M185.5 371.25H183.1V373.42H184.15M185.5 369.8H182.75V372.34H183.1M184.04 367.63H181.08V371.07H182.75M179.04 356.82H178.69V369.35H181.08M185.5 375.6H183.86V377.05H185.5M183.86 376.32H183.19V378.5H185.5M185.5 379.95H184.06V381.4H185.5M183.19 377.41H182.02V380.67H184.06M185.5 382.85H184.15V384.3H185.5M182.02 379.04H180.73V383.57H184.15M185.5 387.2H184.11V388.64H185.5M184.11 387.92H183.06V390.09H185.5M185.5 385.75H182.4V389.01H183.06M185.5 391.54H184.17V392.99H185.5M185.5 394.44H183.86V395.89H185.5M184.17 392.27H182.25V395.17H183.86M182.4 387.38H180.49V393.72H182.25M180.73 381.31H179.73V390.55H180.49M178.69 363.08H178.34V385.93H179.73M178.25 321.05H177.9V374.51H178.34M185.5 398.79H183.93V400.24H185.5M185.5 397.34H183.25V399.52H183.93M185.5 401.69H183.97V403.14H185.5M183.25 398.43H181.56V402.42H183.97M185.5 404.59H184.03V406.04H185.5M185.5 407.49H183.84V408.94H185.5M184.03 405.32H182.09V408.21H183.84M181.56 400.42H180.84V406.76H182.09M185.5 411.84H183.72V413.29H185.5M185.5 410.39H182.7V412.56H183.72M180.84 403.59H179.93V411.48H182.7M185.5 414.74H184.06V416.19H185.5M184.06 415.46H183.38V417.64H185.5M185.5 419.09H184.05V420.54H185.5M185.5 421.99H183.85V423.43H185.5M184.05 419.81H182.87V422.71H183.85M185.5 424.88H183.91V426.33H185.5M182.87 421.26H181.35V425.61H183.91M183.38 416.55H181V423.43H181.35M185.5 427.78H183.72V429.23H185.5M185.5 432.13H183.77V433.58H185.5M185.5 430.68H183.35V432.86H183.77M183.35 431.77H181.96V435.03H185.5M183.72 428.51H181.53V433.4H181.96M185.5 437.93H183.97V439.38H185.5M185.5 436.48H183.15V438.66H183.97M181.53 430.95H180.43V437.57H183.15M181 419.99H179.07V434.26H180.43M179.93 407.53H178.72V427.13H179.07M185.5 440.83H183.78V442.28H185.5M185.5 443.73H183.86V445.18H185.5M183.78 441.55H182.37V444.45H183.86M185.5 446.63H183.93V448.08H185.5M185.5 449.53H183.74V450.98H185.5M183.93 447.35H182.61V450.25H183.74M185.5 452.43H184V453.88H185.5M184 453.15H182.81V455.33H185.5M182.61 448.8H180.97V454.24H182.81M185.5 456.78H184.13V458.22H185.5M184.13 457.5H182.98V459.67H185.5M180.97 451.52H180.27V458.59H182.98M182.37 443H178.77V455.05H180.27M185.5 461.12H183.8V462.57H185.5M185.5 464.02H184.01V465.47H185.5M183.8 461.85H182.58V464.75H184.01M185.5 466.92H184.04V468.37H185.5M182.58 463.3H181.04V467.65H184.04M178.77 449.03H178.42V465.47H181.04M178.72 417.33H178.07V457.25H178.42M185.5 469.82H183.91V471.27H185.5M183.91 470.55H183.24V472.72H185.5M185.5 474.17H183.96V475.62H185.5M183.24 471.63H182.01V474.89H183.96M185.5 477.07H183.96V478.52H185.5M185.5 479.97H183.97V481.42H185.5M183.97 480.69H183.35V482.87H185.5M183.96 477.79H181.78V481.78H183.35M182.01 473.26H180.46V479.79H181.78M185.5 484.32H183.97V485.77H185.5M183.97 485.04H183.01V487.22H185.5M183.01 486.13H182.66V488.67H185.5M185.5 491.57H183.96V493.01H185.5M185.5 490.12H182.79V492.29H183.96M185.5 494.46H184.06V495.91H185.5M185.5 497.36H183.95V498.81H185.5M184.06 495.19H182.06V498.09H183.95M182.79 491.2H180.65V496.64H182.06M182.66 487.4H179.49V493.92H180.65M180.46 476.53H179.14V490.66H179.49M185.5 500.26H183.9V501.71H185.5M183.9 500.99H182.87V503.16H185.5M185.5 506.06H184.18V507.51H185.5M185.5 508.96H183.93V510.41H185.5M184.18 506.79H182.23V509.68H183.93M185.5 504.61H181.88V508.24H182.23M182.87 502.07H180.59V506.42H181.88M179.14 483.59H178.79V504.25H180.59M178.07 437.29H177.72V493.92H178.79M185.5 511.86H183.87V513.31H185.5M183.87 512.58H182.88V514.76H185.5M185.5 516.21H183.97V517.66H185.5M182.88 513.67H181.62V516.93H183.97M185.5 519.11H183.79V520.56H185.5M181.62 515.3H180.9V519.83H183.79M185.5 522.01H183.76V523.46H185.5M183.76 522.73H183.33V524.91H185.5M185.5 526.36H183.73V527.8H185.5M183.73 527.08H183.02V529.25H185.5M183.33 523.82H181.6V528.17H183.02M180.9 517.57H179.71V525.99H181.6M185.5 532.15H183.8V533.6H185.5M185.5 535.05H183.88V536.5H185.5M183.8 532.88H182.88V535.78H183.88M185.5 530.7H181.66V534.33H182.88M179.71 521.78H178.31V532.52H181.66M185.5 540.85H183.85V542.3H185.5M185.5 539.4H183.34V541.58H183.85M183.34 540.49H182.61V543.75H185.5M185.5 537.95H181.44V542.12H182.61M185.5 548.1H183.81V549.55H185.5M185.5 546.65H183.39V548.82H183.81M185.5 545.2H182.69V547.74H183.39M181.44 540.04H180.52V546.47H182.69M185.5 551H184.06V552.45H185.5M184.06 551.72H183V553.9H185.5M180.52 543.25H180.17V552.81H183M178.31 527.15H177.96V548.03H180.17M185.5 556.8H183.87V558.25H185.5M185.5 555.35H183.06V557.52H183.87M185.5 559.7H184.13V561.14H185.5M185.5 562.59H184.13V564.04H185.5M184.13 560.42H182.28V563.32H184.13M185.5 566.94H184.17V568.39H185.5M185.5 565.49H183.26V567.67H184.17M185.5 569.84H183.81V571.29H185.5M183.81 570.57H182.77V572.74H185.5M183.26 566.58H181.57V571.65H182.77M182.28 561.87H180.55V569.12H181.57M183.06 556.43H180.2V565.49H180.55M185.5 574.19H183.92V575.64H185.5M183.92 574.92H183.41V577.09H185.5M185.5 578.54H184.01V579.99H185.5M184.01 579.26H183.08V581.44H185.5M185.5 582.89H184.15V584.34H185.5M183.08 580.35H181.88V583.61H184.15M185.5 585.79H183.79V587.24H185.5M183.79 586.51H182.71V588.69H185.5M181.88 581.98H180.97V587.6H182.71M183.41 576H179.66V584.79H180.97M180.2 560.96H178.57V580.4H179.66M177.96 537.59H177.61V570.68H178.57M185.5 590.14H184.03V591.59H185.5M185.5 593.04H184.06V594.49H185.5M184.03 590.86H181.99V593.76H184.06M185.5 595.93H183.85V597.38H185.5M183.85 596.66H183.16V598.83H185.5M183.16 597.75H182.61V600.28H185.5M185.5 601.73H183.73V603.18H185.5M182.61 599.02H181.68V602.46H183.73M181.99 592.31H181.12V600.74H181.68M185.5 606.08H184.17V607.53H185.5M185.5 604.63H183.41V606.81H184.17M185.5 611.88H183.96V613.33H185.5M185.5 610.43H182.72V612.61H183.96M185.5 608.98H182.26V611.52H182.72M183.41 605.72H181.37V610.25H182.26M185.5 614.78H184.05V616.23H185.5M184.05 615.5H182.72V617.68H185.5M181.37 607.98H179.69V616.59H182.72M181.12 596.52H179.34V612.29H179.69M185.5 622.03H184.02V623.48H185.5M185.5 620.58H183.14V622.75H184.02M185.5 619.13H182.04V621.66H183.14M185.5 626.38H184.06V627.83H185.5M184.06 627.1H183.31V629.28H185.5M185.5 624.93H182.62V628.19H183.31M182.04 620.4H181.26V626.56H182.62M179.34 604.41H178.99V623.48H181.26M177.61 554.13H177.26V613.94H178.99M177.72 465.61H176.88V584.04H177.26M177.9 347.78H172.8V524.82H176.88" stroke="#000" stroke-width="0.85" fill="none"/>
<path d="M160.2 287h2.04M160.2 289.3h3.33M160.2 291.6h3.17M160.2 293.9h2.26M160.2 296.2h2.69M160.2 298.5h2.61M160.2 300.8h2.97M160.2 303.1h3.22M160.2 305.4h1.97M160.2 307.7h1.85M160.2 310h3.3M160.2 312.3h2.58M160.2 314.6h3.17M160.2 316.9h1.8M160.2 319.2h2.6M160.2 321.5h3.1M160.2 323.8h2.21M160.2 326.1h3.5M160.2 328.4h3.42M160.2 330.7h1.86M160.2 333h1.85M160.2 335.3h2.77M160.2 337.6h3.49M160.2 339.9h2.49M160.2 342.2h2.19M160.2 344.5h2.56M160.2 346.8h1.85M160.2 349.1h2.2M160.2 351.4h2.59M160.2 353.7h2.69M160.2 356h2.22M160.2 358.3h2.22M160.2 360.6h2.19M160.2 362.9h2.63M160.2 365.2h2.32M160.2 367.5h1.84M160.2 369.8h3.31M160.2 372.1h2.8M160.2 374.4h2.96M160.2 376.7h2.13M160.2 379h3.59M160.2 381.3h3.35M160.2 383.6h2.02M160.2 385.9h2.4M160.2 388.2h3.1M160.2 390.5h3.08M160.2 392.8h3.49M160.2 395.1h2.56M160.2 397.4h3.29M160.2 399.7h3.01M160.2 402h2.35M160.2 404.3h2.86M160.2 406.6h3.39M160.2 408.9h3.32M160.2 411.2h2.71M160.2 413.5h2.86M160.2 415.8h1.86M160.2 418.1h2.24M160.2 420.4h3.24M160.2 422.7h2.55M160.2 425h2.11M160.2 427.3h2.79M160.2 429.6h3.07M160.2 431.9h3.01M160.2 434.2h2.47M160.2 436.5h2.59M160.2 438.8h2.72M160.2 441.1h3.2M160.2 443.4h2.74M160.2 445.7h2.51M160.2 448h2.68M160.2 450.3h1.85M160.2 452.6h1.88M160.2 454.9h3.07M160.2 457.2h3.57M160.2 459.5h2.87M160.2 461.8h2.51M160.2 464.1h2.11M160.2 466.4h2.7M160.2 468.7h3.57M160.2 471h3.19M160.2 473.3h2.77M160.2 475.6h3.35M160.2 477.9h2.22M160.2 480.2h2.72M160.2 482.5h3.51M160.2 484.8h2.84M160.2 487.1h2.63M160.2 489.4h2.28M160.2 491.7h2.79M160.2 494h3.52M160.2 496.3h1.81M160.2 498.6h3.21M160.2 500.9h3.28M160.2 503.2h3.4M160.2 505.5h3.13M160.2 507.8h3.26M160.2 510.1h2.73M160.2 512.4h2.81M160.2 514.7h2.57M160.2 517h1.9M160.2 519.3h3.37M160.2 521.6h2.83M160.2 523.9h2.16M160.2 526.2h2.71M160.2 528.5h2.67M160.2 530.8h2.44M160.2 533.1h2.42M160.2 535.4h2.77M160.2 537.7h2.92M160.2 540h2.9M160.2 542.3h2.62M160.2 544.6h1.85M160.2 546.9h2.21M160.2 549.2h2.12M160.2 551.5h2.85M160.2 553.8h3.35M160.2 556.1h3.24M160.2 558.4h3.23M160.2 560.7h3.27M160.2 563h2.26M160.2 565.3h3.32M160.2 567.6h3.01M160.2 569.9h1.95M160.2 572.2h1.83M160.2 574.5h1.83M160.2 576.8h3.16M160.2 579.1h2.25M160.2 581.4h2M160.2 583.7h2.92M160.2 586h2.42M160.2 588.3h1.93M160.2 590.6h2.09M160.2 592.9h2.75M160.2 595.2h2.1M160.2 597.5h2.29M160.2 599.8h3.08M160.2 602.1h2.62M160.2 604.4h2.38M160.2 606.7h2.65M160.2 609h1.84M160.2 611.3h2.5M160.2 613.6h2.56M160.2 615.9h2.14M160.2 618.2h2M160.2 620.5h3.42M160.2 622.8h2.72M160.2 625.1h2.18M160.2 627.4h2.89M160.2 629.7h3.27" stroke="#b4b8b4" stroke-width="0.8" fill="none"/>
<path d="M316.2 286h3.52M316.2 288.3h3.51M316.2 290.6h1.9M316.2 292.9h1.95M316.2 295.2h3.3M316.2 297.5h3.12M316.2 299.8h3.01M316.2 302.1h2.35M316.2 304.4h2.89M316.2 306.7h2.89M316.2 309h2.85M316.2 311.3h2.09M316.2 313.6h2.58M316.2 315.9h2.51M316.2 318.2h3.1M316.2 320.5h3.59M316.2 322.8h3.51M316.2 325.1h2.78M316.2 327.4h2.6M316.2 329.7h2.28M316.2 332h1.86M316.2 334.3h1.85M316.2 336.6h2.64M316.2 338.9h2.37M316.2 341.2h2.48M316.2 343.5h3.41M316.2 345.8h2.75M316.2 348.1h2.81M316.2 350.4h2.23M316.2 352.7h1.84M316.2 355h2.39M316.2 357.3h2.05M316.2 359.6h2.72M316.2 361.9h3.6M316.2 364.2h3.01M316.2 366.5h2.13M316.2 368.8h3.41M316.2 371.1h3.23M316.2 373.4h3.12M316.2 375.7h3.43M316.2 378h3.17M316.2 380.3h3.22M316.2 382.6h2.44M316.2 384.9h3.57M316.2 387.2h3.53M316.2 389.5h2.09M316.2 391.8h3.16M316.2 394.1h3.09M316.2 396.4h2.63M316.2 398.7h2.75M316.2 401h2.68M316.2 403.3h3.46M316.2 405.6h2.7M316.2 407.9h3.3M316.2 410.2h2.44M316.2 412.5h3.39M316.2 414.8h3.42M316.2 417.1h2.63M316.2 419.4h2.82M316.2 421.7h3.46M316.2 424h3.1M316.2 426.3h2.68M316.2 428.6h2.2M316.2 430.9h2.38M316.2 433.2h3.06M316.2 435.5h2.1M316.2 437.8h3.43M316.2 440.1h2.28M316.2 442.4h3.44M316.2 444.7h2.36M316.2 447h3.52M316.2 449.3h3.07M316.2 451.6h2.71M316.2 453.9h2.73M316.2 456.2h2.97M316.2 458.5h2.86M316.2 460.8h2.36M316.2 463.1h2.17M316.2 465.4h2.72M316.2 467.7h3.48M316.2 470h2.92M316.2 472.3h1.94M316.2 474.6h3.28M316.2 476.9h3.11M316.2 479.2h3.43M316.2 481.5h2.14M316.2 483.8h3.14M316.2 486.1h1.91M316.2 488.4h2.98M316.2 490.7h2.29M316.2 493h2.21M316.2 495.3h3.38M316.2 497.6h1.99M316.2 499.9h2.74M316.2 502.2h3.34M316.2 504.5h2.24M316.2 506.8h2.18M316.2 509.1h3.39M316.2 511.4h2.56M316.2 513.7h3.09M316.2 516h1.86M316.2 518.3h2.45M316.2 520.6h2.11M316.2 522.9h3.01M316.2 525.2h1.95M316.2 527.5h3.52M316.2 529.8h1.85M316.2 532.1h3.11M316.2 534.4h1.84M316.2 536.7h2.26M316.2 539h3.26M316.2 541.3h2.08M316.2 543.6h2.13M316.2 545.9h3.04M316.2 548.2h2.49M316.2 550.5h1.88M316.2 552.8h3.58M316.2 555.1h2.07M316.2 557.4h1.87M316.2 559.7h2.42M316.2 562h2.91M316.2 564.3h3.14M316.2 566.6h2M316.2 568.9h2.41M316.2 571.2h1.86M316.2 573.5h2.61M316.2 575.8h3.18M316.2 578.1h3.13M316.2 580.4h3.42M316.2 582.7h3.16M316.2 585h3.35M316.2 587.3h3.07M316.2 589.6h2.65M316.2 591.9h2.21M316.2 594.2h2.99M316.2 596.5h2.37M316.2 598.8h1.98M316.2 601.1h2.61M316.2 603.4h3.37M316.2 605.7h2.03M316.2 608h2.85M316.2 610.3h2.51M316.2 612.6h2.73M316.2 614.9h2.06M316.2 617.2h3.53M316.2 619.5h2.27M316.2 621.8h2.89M316.2 624.1h2.56M316.2 626.4h1.83M316.2 628.7h2.8" stroke="#b4b8b4" stroke-width="0.8" fill="none"/>
<line x1="164.5" y1="593.8" x2="175.8" y2="593.8" stroke="#d89090" stroke-width="0.7"/>
<circle cx="164.3" cy="593.8" r="0.8" fill="#a84858" stroke="#a84858" stroke-width="0.2"/>
<circle cx="321.9" cy="509.8" r="0.9" fill="#9a4858" stroke="#9a4858" stroke-width="0.2"/>
<text x="94.8" y="257.99" font-size="8.85" text-anchor="middle" font-weight="normal" fill="#222">anti-CD33 CAR-T</text>
<line x1="31" y1="262.4" x2="159" y2="262.4" stroke="#333" stroke-width="1"/>
<text x="62.5" y="275.69" font-size="8.85" text-anchor="middle" font-weight="normal" fill="#222">Wild type</text>
<text x="124.9" y="275.69" font-size="8.85" text-anchor="middle" font-weight="normal" fill="#222">SLC7A5</text>
<rect x="28.8" y="279.8" width="65.3" height="4.9" fill="#5fc4c8"/>
<rect x="94.1" y="279.8" width="65.4" height="4.9" fill="#e0739e"/>
<text x="249.75" y="257.99" font-size="8.85" text-anchor="middle" font-weight="normal" fill="#222">anti-CD33 CAR-T</text>
<line x1="184.6" y1="262.4" x2="312.7" y2="262.4" stroke="#333" stroke-width="1"/>
<text x="216.9" y="275.69" font-size="8.85" text-anchor="middle" font-weight="normal" fill="#222">Wild type</text>
<text x="278.1" y="275.69" font-size="8.85" text-anchor="middle" font-weight="normal" fill="#222">SLC7A11</text>
<rect x="185.5" y="279.4" width="65" height="5.2" fill="#5cb878"/>
<rect x="250.5" y="279.4" width="65" height="5.2" fill="#eb9a3c"/>
<text x="35.34" y="640.89" font-size="7.2" text-anchor="middle" font-weight="normal" fill="#222">1</text>
<text x="192" y="640.89" font-size="7.2" text-anchor="middle" font-weight="normal" fill="#222">1</text>
<text x="48.41" y="640.89" font-size="7.2" text-anchor="middle" font-weight="normal" fill="#222">2</text>
<text x="205" y="640.89" font-size="7.2" text-anchor="middle" font-weight="normal" fill="#222">2</text>
<text x="61.47" y="640.89" font-size="7.2" text-anchor="middle" font-weight="normal" fill="#222">3</text>
<text x="218" y="640.89" font-size="7.2" text-anchor="middle" font-weight="normal" fill="#222">3</text>
<text x="74.55" y="640.89" font-size="7.2" text-anchor="middle" font-weight="normal" fill="#222">4</text>
<text x="231" y="640.89" font-size="7.2" text-anchor="middle" font-weight="normal" fill="#222">4</text>
<text x="87.61" y="640.89" font-size="7.2" text-anchor="middle" font-weight="normal" fill="#222">5</text>
<text x="244" y="640.89" font-size="7.2" text-anchor="middle" font-weight="normal" fill="#222">5</text>
<text x="100.69" y="640.89" font-size="7.2" text-anchor="middle" font-weight="normal" fill="#222">1</text>
<text x="257" y="640.89" font-size="7.2" text-anchor="middle" font-weight="normal" fill="#222">1</text>
<text x="113.75" y="640.89" font-size="7.2" text-anchor="middle" font-weight="normal" fill="#222">2</text>
<text x="270" y="640.89" font-size="7.2" text-anchor="middle" font-weight="normal" fill="#222">2</text>
<text x="126.83" y="640.89" font-size="7.2" text-anchor="middle" font-weight="normal" fill="#222">3</text>
<text x="283" y="640.89" font-size="7.2" text-anchor="middle" font-weight="normal" fill="#222">3</text>
<text x="139.9" y="640.89" font-size="7.2" text-anchor="middle" font-weight="normal" fill="#222">4</text>
<text x="296" y="640.89" font-size="7.2" text-anchor="middle" font-weight="normal" fill="#222">4</text>
<text x="152.97" y="640.89" font-size="7.2" text-anchor="middle" font-weight="normal" fill="#222">5</text>
<text x="309" y="640.89" font-size="7.2" text-anchor="middle" font-weight="normal" fill="#222">5</text>
<text x="0" y="0" font-size="8.6" text-anchor="middle" font-weight="normal" fill="#222" transform="translate(107.9 653.4) scale(0.7 1)">Human donors</text>
<text x="0" y="0" font-size="8.6" text-anchor="middle" font-weight="normal" fill="#222" transform="translate(264.6 653.4) scale(0.7 1)">Human donors</text>
</svg>
</body></html>
